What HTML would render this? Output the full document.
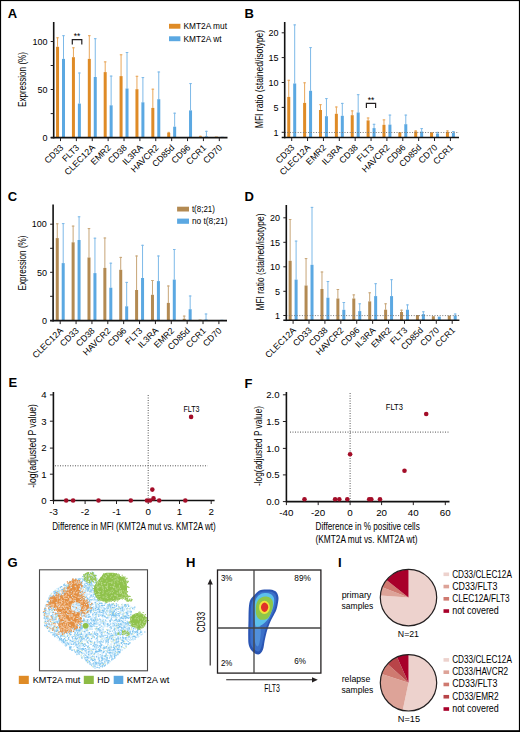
<!DOCTYPE html>
<html><head><meta charset="utf-8"><style>
html,body{margin:0;padding:0;background:#fff;}
svg{display:block;font-family:"Liberation Sans", sans-serif;}
</style></head><body>
<svg width="520" height="732" viewBox="0 0 520 732">
<defs><filter id="soft" x="-5%" y="-5%" width="110%" height="110%"><feGaussianBlur stdDeviation="0.3"/></filter><filter id="blob" x="-20%" y="-20%" width="140%" height="140%"><feGaussianBlur stdDeviation="0.7"/></filter></defs>
<rect x="0" y="0" width="520" height="732" fill="#fff"/>
<text x="7.80" y="18.20" font-size="13" text-anchor="start" font-weight="bold">A</text>
<text x="244.40" y="18.20" font-size="13" text-anchor="start" font-weight="bold">B</text>
<text x="7.80" y="201.00" font-size="13" text-anchor="start" font-weight="bold">C</text>
<text x="244.60" y="200.90" font-size="13" text-anchor="start" font-weight="bold">D</text>
<text x="8.60" y="387.20" font-size="13" text-anchor="start" font-weight="bold">E</text>
<text x="244.40" y="388.00" font-size="13" text-anchor="start" font-weight="bold">F</text>
<text x="186.00" y="566.90" font-size="13" text-anchor="start" font-weight="bold">H</text>
<text x="338.10" y="566.60" font-size="13" text-anchor="start" font-weight="bold">I</text>
<line x1="57.55" y1="37.30" x2="57.55" y2="46.80" stroke="#e9a75a" stroke-width="1"/>
<line x1="56.25" y1="37.80" x2="58.85" y2="37.80" stroke="#e9a75a" stroke-width="1"/>
<rect x="56.05" y="46.80" width="3.00" height="90.80" fill="#df8b26"/>
<line x1="63.50" y1="35.20" x2="63.50" y2="58.90" stroke="#7db9e8" stroke-width="1"/>
<line x1="62.20" y1="35.70" x2="64.80" y2="35.70" stroke="#7db9e8" stroke-width="1"/>
<rect x="62.00" y="58.90" width="3.00" height="78.70" fill="#5ba8e2"/>
<line x1="73.43" y1="47.30" x2="73.43" y2="57.20" stroke="#e9a75a" stroke-width="1"/>
<line x1="72.13" y1="47.80" x2="74.73" y2="47.80" stroke="#e9a75a" stroke-width="1"/>
<rect x="71.93" y="57.20" width="3.00" height="80.40" fill="#df8b26"/>
<line x1="79.38" y1="72.50" x2="79.38" y2="103.60" stroke="#7db9e8" stroke-width="1"/>
<line x1="78.08" y1="73.00" x2="80.68" y2="73.00" stroke="#7db9e8" stroke-width="1"/>
<rect x="77.88" y="103.60" width="3.00" height="34.00" fill="#5ba8e2"/>
<line x1="89.31" y1="35.20" x2="89.31" y2="58.90" stroke="#e9a75a" stroke-width="1"/>
<line x1="88.01" y1="35.70" x2="90.61" y2="35.70" stroke="#e9a75a" stroke-width="1"/>
<rect x="87.81" y="58.90" width="3.00" height="78.70" fill="#df8b26"/>
<line x1="95.26" y1="38.20" x2="95.26" y2="77.00" stroke="#7db9e8" stroke-width="1"/>
<line x1="93.96" y1="38.70" x2="96.56" y2="38.70" stroke="#7db9e8" stroke-width="1"/>
<rect x="93.76" y="77.00" width="3.00" height="60.60" fill="#5ba8e2"/>
<line x1="105.19" y1="61.40" x2="105.19" y2="72.10" stroke="#e9a75a" stroke-width="1"/>
<line x1="103.89" y1="61.90" x2="106.49" y2="61.90" stroke="#e9a75a" stroke-width="1"/>
<rect x="103.69" y="72.10" width="3.00" height="65.50" fill="#df8b26"/>
<line x1="111.14" y1="75.60" x2="111.14" y2="105.30" stroke="#7db9e8" stroke-width="1"/>
<line x1="109.84" y1="76.10" x2="112.44" y2="76.10" stroke="#7db9e8" stroke-width="1"/>
<rect x="109.64" y="105.30" width="3.00" height="32.30" fill="#5ba8e2"/>
<line x1="121.07" y1="54.30" x2="121.07" y2="76.10" stroke="#e9a75a" stroke-width="1"/>
<line x1="119.77" y1="54.80" x2="122.37" y2="54.80" stroke="#e9a75a" stroke-width="1"/>
<rect x="119.57" y="76.10" width="3.00" height="61.50" fill="#df8b26"/>
<line x1="127.02" y1="52.00" x2="127.02" y2="88.50" stroke="#7db9e8" stroke-width="1"/>
<line x1="125.72" y1="52.50" x2="128.32" y2="52.50" stroke="#7db9e8" stroke-width="1"/>
<rect x="125.52" y="88.50" width="3.00" height="49.10" fill="#5ba8e2"/>
<line x1="136.95" y1="75.80" x2="136.95" y2="89.20" stroke="#e9a75a" stroke-width="1"/>
<line x1="135.65" y1="76.30" x2="138.25" y2="76.30" stroke="#e9a75a" stroke-width="1"/>
<rect x="135.45" y="89.20" width="3.00" height="48.40" fill="#df8b26"/>
<line x1="142.90" y1="77.10" x2="142.90" y2="102.30" stroke="#7db9e8" stroke-width="1"/>
<line x1="141.60" y1="77.60" x2="144.20" y2="77.60" stroke="#7db9e8" stroke-width="1"/>
<rect x="141.40" y="102.30" width="3.00" height="35.30" fill="#5ba8e2"/>
<line x1="152.83" y1="88.70" x2="152.83" y2="107.90" stroke="#e9a75a" stroke-width="1"/>
<line x1="151.53" y1="89.20" x2="154.13" y2="89.20" stroke="#e9a75a" stroke-width="1"/>
<rect x="151.33" y="107.90" width="3.00" height="29.70" fill="#df8b26"/>
<line x1="158.78" y1="71.50" x2="158.78" y2="99.20" stroke="#7db9e8" stroke-width="1"/>
<line x1="157.48" y1="72.00" x2="160.08" y2="72.00" stroke="#7db9e8" stroke-width="1"/>
<rect x="157.28" y="99.20" width="3.00" height="38.40" fill="#5ba8e2"/>
<line x1="168.71" y1="131.90" x2="168.71" y2="133.00" stroke="#e9a75a" stroke-width="1"/>
<line x1="167.41" y1="132.40" x2="170.01" y2="132.40" stroke="#e9a75a" stroke-width="1"/>
<rect x="167.21" y="133.00" width="3.00" height="4.60" fill="#df8b26"/>
<line x1="174.66" y1="112.70" x2="174.66" y2="126.70" stroke="#7db9e8" stroke-width="1"/>
<line x1="173.36" y1="113.20" x2="175.96" y2="113.20" stroke="#7db9e8" stroke-width="1"/>
<rect x="173.16" y="126.70" width="3.00" height="10.90" fill="#5ba8e2"/>
<line x1="190.54" y1="83.10" x2="190.54" y2="110.40" stroke="#7db9e8" stroke-width="1"/>
<line x1="189.24" y1="83.60" x2="191.84" y2="83.60" stroke="#7db9e8" stroke-width="1"/>
<rect x="189.04" y="110.40" width="3.00" height="27.20" fill="#5ba8e2"/>
<line x1="200.47" y1="135.80" x2="200.47" y2="136.60" stroke="#e9a75a" stroke-width="1"/>
<line x1="199.17" y1="136.30" x2="201.77" y2="136.30" stroke="#e9a75a" stroke-width="1"/>
<rect x="198.97" y="136.60" width="3.00" height="1.00" fill="#df8b26"/>
<line x1="206.42" y1="130.80" x2="206.42" y2="136.40" stroke="#7db9e8" stroke-width="1"/>
<line x1="205.12" y1="131.30" x2="207.72" y2="131.30" stroke="#7db9e8" stroke-width="1"/>
<rect x="204.92" y="136.40" width="3.00" height="1.20" fill="#5ba8e2"/>
<rect x="214.85" y="136.60" width="3.00" height="1.00" fill="#df8b26"/>
<rect x="220.80" y="136.80" width="3.00" height="0.80" fill="#5ba8e2"/>
<line x1="53.70" y1="22.00" x2="53.70" y2="138.40" stroke="#111" stroke-width="1.6"/>
<line x1="50.70" y1="137.60" x2="227.50" y2="137.60" stroke="#111" stroke-width="1.6"/>
<line x1="50.70" y1="41.50" x2="53.70" y2="41.50" stroke="#231f20" stroke-width="1"/>
<text x="47.50" y="44.70" font-size="9" text-anchor="end">100</text>
<line x1="50.70" y1="89.50" x2="53.70" y2="89.50" stroke="#231f20" stroke-width="1"/>
<text x="47.50" y="92.70" font-size="9" text-anchor="end">50</text>
<line x1="50.70" y1="137.60" x2="53.70" y2="137.60" stroke="#231f20" stroke-width="1"/>
<text x="47.50" y="140.80" font-size="9" text-anchor="end">0</text>
<line x1="50.70" y1="65.50" x2="53.70" y2="65.50" stroke="#231f20" stroke-width="1"/>
<line x1="50.70" y1="113.60" x2="53.70" y2="113.60" stroke="#231f20" stroke-width="1"/>
<line x1="60.50" y1="137.60" x2="60.50" y2="141.10" stroke="#231f20" stroke-width="1"/>
<text x="63.90" y="148.20" font-size="8.8" text-anchor="end" transform="rotate(-45 63.90 148.20)">CD33</text>
<line x1="76.38" y1="137.60" x2="76.38" y2="141.10" stroke="#231f20" stroke-width="1"/>
<text x="79.78" y="148.20" font-size="8.8" text-anchor="end" transform="rotate(-45 79.78 148.20)">FLT3</text>
<line x1="92.26" y1="137.60" x2="92.26" y2="141.10" stroke="#231f20" stroke-width="1"/>
<text x="95.66" y="148.20" font-size="8.8" text-anchor="end" transform="rotate(-45 95.66 148.20)">CLEC12A</text>
<line x1="108.14" y1="137.60" x2="108.14" y2="141.10" stroke="#231f20" stroke-width="1"/>
<text x="111.54" y="148.20" font-size="8.8" text-anchor="end" transform="rotate(-45 111.54 148.20)">EMR2</text>
<line x1="124.02" y1="137.60" x2="124.02" y2="141.10" stroke="#231f20" stroke-width="1"/>
<text x="127.42" y="148.20" font-size="8.8" text-anchor="end" transform="rotate(-45 127.42 148.20)">CD38</text>
<line x1="139.90" y1="137.60" x2="139.90" y2="141.10" stroke="#231f20" stroke-width="1"/>
<text x="143.30" y="148.20" font-size="8.8" text-anchor="end" transform="rotate(-45 143.30 148.20)">IL3RA</text>
<line x1="155.78" y1="137.60" x2="155.78" y2="141.10" stroke="#231f20" stroke-width="1"/>
<text x="159.18" y="148.20" font-size="8.8" text-anchor="end" transform="rotate(-45 159.18 148.20)">HAVCR2</text>
<line x1="171.66" y1="137.60" x2="171.66" y2="141.10" stroke="#231f20" stroke-width="1"/>
<text x="175.06" y="148.20" font-size="8.8" text-anchor="end" transform="rotate(-45 175.06 148.20)">CD85d</text>
<line x1="187.54" y1="137.60" x2="187.54" y2="141.10" stroke="#231f20" stroke-width="1"/>
<text x="190.94" y="148.20" font-size="8.8" text-anchor="end" transform="rotate(-45 190.94 148.20)">CD96</text>
<line x1="203.42" y1="137.60" x2="203.42" y2="141.10" stroke="#231f20" stroke-width="1"/>
<text x="206.82" y="148.20" font-size="8.8" text-anchor="end" transform="rotate(-45 206.82 148.20)">CCR1</text>
<line x1="219.30" y1="137.60" x2="219.30" y2="141.10" stroke="#231f20" stroke-width="1"/>
<text x="222.70" y="148.20" font-size="8.8" text-anchor="end" transform="rotate(-45 222.70 148.20)">CD70</text>
<text x="26.40" y="79.50" font-size="10" text-anchor="middle" textLength="55" lengthAdjust="spacingAndGlyphs" transform="rotate(-90 26.40 79.50)">Expression (%)</text>
<path d="M72.3 44.6 V39.6 H81.8 V44.6" fill="none" stroke="#231f20" stroke-width="1.2"/>
<text x="77.00" y="38.60" font-size="8.5" text-anchor="middle">**</text>
<rect x="169.00" y="23.80" width="11.40" height="4.90" fill="#df8b26"/>
<rect x="169.00" y="36.30" width="11.40" height="4.90" fill="#5ba8e2"/>
<text x="183.50" y="29.40" font-size="9.3" text-anchor="start" textLength="43.5" lengthAdjust="spacingAndGlyphs">KMT2A mut</text>
<text x="183.50" y="41.80" font-size="9.3" text-anchor="start" textLength="38" lengthAdjust="spacingAndGlyphs">KMT2A wt</text>
<line x1="288.75" y1="79.80" x2="288.75" y2="96.90" stroke="#e9a75a" stroke-width="1"/>
<line x1="287.45" y1="80.30" x2="290.05" y2="80.30" stroke="#e9a75a" stroke-width="1"/>
<rect x="287.25" y="96.90" width="3.00" height="40.60" fill="#df8b26"/>
<line x1="294.70" y1="24.40" x2="294.70" y2="83.50" stroke="#7db9e8" stroke-width="1"/>
<line x1="293.40" y1="24.90" x2="296.00" y2="24.90" stroke="#7db9e8" stroke-width="1"/>
<rect x="293.20" y="83.50" width="3.00" height="54.00" fill="#5ba8e2"/>
<line x1="304.62" y1="82.30" x2="304.62" y2="102.90" stroke="#e9a75a" stroke-width="1"/>
<line x1="303.32" y1="82.80" x2="305.92" y2="82.80" stroke="#e9a75a" stroke-width="1"/>
<rect x="303.12" y="102.90" width="3.00" height="34.60" fill="#df8b26"/>
<line x1="310.57" y1="47.10" x2="310.57" y2="90.80" stroke="#7db9e8" stroke-width="1"/>
<line x1="309.27" y1="47.60" x2="311.87" y2="47.60" stroke="#7db9e8" stroke-width="1"/>
<rect x="309.07" y="90.80" width="3.00" height="46.70" fill="#5ba8e2"/>
<line x1="320.49" y1="104.20" x2="320.49" y2="110.00" stroke="#e9a75a" stroke-width="1"/>
<line x1="319.19" y1="104.70" x2="321.79" y2="104.70" stroke="#e9a75a" stroke-width="1"/>
<rect x="318.99" y="110.00" width="3.00" height="27.50" fill="#df8b26"/>
<line x1="326.44" y1="98.10" x2="326.44" y2="116.20" stroke="#7db9e8" stroke-width="1"/>
<line x1="325.14" y1="98.60" x2="327.74" y2="98.60" stroke="#7db9e8" stroke-width="1"/>
<rect x="324.94" y="116.20" width="3.00" height="21.30" fill="#5ba8e2"/>
<line x1="336.36" y1="106.50" x2="336.36" y2="113.80" stroke="#e9a75a" stroke-width="1"/>
<line x1="335.06" y1="107.00" x2="337.66" y2="107.00" stroke="#e9a75a" stroke-width="1"/>
<rect x="334.86" y="113.80" width="3.00" height="23.70" fill="#df8b26"/>
<line x1="342.31" y1="102.90" x2="342.31" y2="115.80" stroke="#7db9e8" stroke-width="1"/>
<line x1="341.01" y1="103.40" x2="343.61" y2="103.40" stroke="#7db9e8" stroke-width="1"/>
<rect x="340.81" y="115.80" width="3.00" height="21.70" fill="#5ba8e2"/>
<line x1="352.23" y1="110.40" x2="352.23" y2="115.20" stroke="#e9a75a" stroke-width="1"/>
<line x1="350.93" y1="110.90" x2="353.53" y2="110.90" stroke="#e9a75a" stroke-width="1"/>
<rect x="350.73" y="115.20" width="3.00" height="22.30" fill="#df8b26"/>
<line x1="358.18" y1="94.20" x2="358.18" y2="112.50" stroke="#7db9e8" stroke-width="1"/>
<line x1="356.88" y1="94.70" x2="359.48" y2="94.70" stroke="#7db9e8" stroke-width="1"/>
<rect x="356.68" y="112.50" width="3.00" height="25.00" fill="#5ba8e2"/>
<line x1="368.10" y1="117.50" x2="368.10" y2="120.40" stroke="#e9a75a" stroke-width="1"/>
<line x1="366.80" y1="118.00" x2="369.40" y2="118.00" stroke="#e9a75a" stroke-width="1"/>
<rect x="366.60" y="120.40" width="3.00" height="17.10" fill="#df8b26"/>
<line x1="374.05" y1="123.80" x2="374.05" y2="128.10" stroke="#7db9e8" stroke-width="1"/>
<line x1="372.75" y1="124.30" x2="375.35" y2="124.30" stroke="#7db9e8" stroke-width="1"/>
<rect x="372.55" y="128.10" width="3.00" height="9.40" fill="#5ba8e2"/>
<line x1="383.97" y1="119.40" x2="383.97" y2="124.80" stroke="#e9a75a" stroke-width="1"/>
<line x1="382.67" y1="119.90" x2="385.27" y2="119.90" stroke="#e9a75a" stroke-width="1"/>
<rect x="382.47" y="124.80" width="3.00" height="12.70" fill="#df8b26"/>
<line x1="389.92" y1="114.60" x2="389.92" y2="124.60" stroke="#7db9e8" stroke-width="1"/>
<line x1="388.62" y1="115.10" x2="391.22" y2="115.10" stroke="#7db9e8" stroke-width="1"/>
<rect x="388.42" y="124.60" width="3.00" height="12.90" fill="#5ba8e2"/>
<rect x="398.34" y="132.30" width="3.00" height="5.20" fill="#df8b26"/>
<line x1="405.79" y1="114.60" x2="405.79" y2="124.20" stroke="#7db9e8" stroke-width="1"/>
<line x1="404.49" y1="115.10" x2="407.09" y2="115.10" stroke="#7db9e8" stroke-width="1"/>
<rect x="404.29" y="124.20" width="3.00" height="13.30" fill="#5ba8e2"/>
<line x1="415.71" y1="130.40" x2="415.71" y2="131.50" stroke="#e9a75a" stroke-width="1"/>
<line x1="414.41" y1="130.90" x2="417.01" y2="130.90" stroke="#e9a75a" stroke-width="1"/>
<rect x="414.21" y="131.50" width="3.00" height="6.00" fill="#df8b26"/>
<line x1="421.66" y1="128.10" x2="421.66" y2="131.50" stroke="#7db9e8" stroke-width="1"/>
<line x1="420.36" y1="128.60" x2="422.96" y2="128.60" stroke="#7db9e8" stroke-width="1"/>
<rect x="420.16" y="131.50" width="3.00" height="6.00" fill="#5ba8e2"/>
<rect x="430.08" y="132.30" width="3.00" height="5.20" fill="#df8b26"/>
<line x1="437.53" y1="131.90" x2="437.53" y2="133.50" stroke="#7db9e8" stroke-width="1"/>
<line x1="436.23" y1="132.40" x2="438.83" y2="132.40" stroke="#7db9e8" stroke-width="1"/>
<rect x="436.03" y="133.50" width="3.00" height="4.00" fill="#5ba8e2"/>
<line x1="447.45" y1="130.40" x2="447.45" y2="131.90" stroke="#e9a75a" stroke-width="1"/>
<line x1="446.15" y1="130.90" x2="448.75" y2="130.90" stroke="#e9a75a" stroke-width="1"/>
<rect x="445.95" y="131.90" width="3.00" height="5.60" fill="#df8b26"/>
<line x1="453.40" y1="131.00" x2="453.40" y2="132.90" stroke="#7db9e8" stroke-width="1"/>
<line x1="452.10" y1="131.50" x2="454.70" y2="131.50" stroke="#7db9e8" stroke-width="1"/>
<rect x="451.90" y="132.90" width="3.00" height="4.60" fill="#5ba8e2"/>
<line x1="284.70" y1="132.50" x2="459.00" y2="132.50" stroke="#777" stroke-width="1" stroke-dasharray="1 1.6"/>
<line x1="284.70" y1="22.00" x2="284.70" y2="138.30" stroke="#111" stroke-width="1.6"/>
<line x1="281.70" y1="137.50" x2="459.00" y2="137.50" stroke="#111" stroke-width="1.6"/>
<line x1="281.70" y1="32.80" x2="284.70" y2="32.80" stroke="#231f20" stroke-width="1"/>
<text x="278.50" y="36.00" font-size="9" text-anchor="end">20</text>
<line x1="281.70" y1="57.60" x2="284.70" y2="57.60" stroke="#231f20" stroke-width="1"/>
<text x="278.50" y="60.80" font-size="9" text-anchor="end">15</text>
<line x1="281.70" y1="82.50" x2="284.70" y2="82.50" stroke="#231f20" stroke-width="1"/>
<text x="278.50" y="85.70" font-size="9" text-anchor="end">10</text>
<line x1="281.70" y1="107.40" x2="284.70" y2="107.40" stroke="#231f20" stroke-width="1"/>
<text x="278.50" y="110.60" font-size="9" text-anchor="end">5</text>
<line x1="281.70" y1="132.30" x2="284.70" y2="132.30" stroke="#231f20" stroke-width="1"/>
<text x="278.50" y="135.50" font-size="9" text-anchor="end">1</text>
<line x1="291.70" y1="137.50" x2="291.70" y2="141.00" stroke="#231f20" stroke-width="1"/>
<text x="295.10" y="148.10" font-size="8.8" text-anchor="end" transform="rotate(-45 295.10 148.10)">CD33</text>
<line x1="307.57" y1="137.50" x2="307.57" y2="141.00" stroke="#231f20" stroke-width="1"/>
<text x="310.97" y="148.10" font-size="8.8" text-anchor="end" transform="rotate(-45 310.97 148.10)">CLEC12A</text>
<line x1="323.44" y1="137.50" x2="323.44" y2="141.00" stroke="#231f20" stroke-width="1"/>
<text x="326.84" y="148.10" font-size="8.8" text-anchor="end" transform="rotate(-45 326.84 148.10)">EMR2</text>
<line x1="339.31" y1="137.50" x2="339.31" y2="141.00" stroke="#231f20" stroke-width="1"/>
<text x="342.71" y="148.10" font-size="8.8" text-anchor="end" transform="rotate(-45 342.71 148.10)">IL3RA</text>
<line x1="355.18" y1="137.50" x2="355.18" y2="141.00" stroke="#231f20" stroke-width="1"/>
<text x="358.58" y="148.10" font-size="8.8" text-anchor="end" transform="rotate(-45 358.58 148.10)">CD38</text>
<line x1="371.05" y1="137.50" x2="371.05" y2="141.00" stroke="#231f20" stroke-width="1"/>
<text x="374.45" y="148.10" font-size="8.8" text-anchor="end" transform="rotate(-45 374.45 148.10)">FLT3</text>
<line x1="386.92" y1="137.50" x2="386.92" y2="141.00" stroke="#231f20" stroke-width="1"/>
<text x="390.32" y="148.10" font-size="8.8" text-anchor="end" transform="rotate(-45 390.32 148.10)">HAVCR2</text>
<line x1="402.79" y1="137.50" x2="402.79" y2="141.00" stroke="#231f20" stroke-width="1"/>
<text x="406.19" y="148.10" font-size="8.8" text-anchor="end" transform="rotate(-45 406.19 148.10)">CD96</text>
<line x1="418.66" y1="137.50" x2="418.66" y2="141.00" stroke="#231f20" stroke-width="1"/>
<text x="422.06" y="148.10" font-size="8.8" text-anchor="end" transform="rotate(-45 422.06 148.10)">CD85d</text>
<line x1="434.53" y1="137.50" x2="434.53" y2="141.00" stroke="#231f20" stroke-width="1"/>
<text x="437.93" y="148.10" font-size="8.8" text-anchor="end" transform="rotate(-45 437.93 148.10)">CD70</text>
<line x1="450.40" y1="137.50" x2="450.40" y2="141.00" stroke="#231f20" stroke-width="1"/>
<text x="453.80" y="148.10" font-size="8.8" text-anchor="end" transform="rotate(-45 453.80 148.10)">CCR1</text>
<text x="262.50" y="79.00" font-size="10" text-anchor="middle" textLength="98.4" lengthAdjust="spacingAndGlyphs" transform="rotate(-90 262.50 79.00)">MFI ratio (stained/isotype)</text>
<path d="M366.4 107.9 V103.3 H375.6 V107.9" fill="none" stroke="#231f20" stroke-width="1.2"/>
<text x="371.00" y="102.50" font-size="8.5" text-anchor="middle">**</text>
<line x1="57.25" y1="223.30" x2="57.25" y2="238.10" stroke="#c7a577" stroke-width="1"/>
<line x1="55.95" y1="223.80" x2="58.55" y2="223.80" stroke="#c7a577" stroke-width="1"/>
<rect x="55.75" y="238.10" width="3.00" height="82.50" fill="#b38a52"/>
<line x1="63.20" y1="223.10" x2="63.20" y2="263.10" stroke="#7db9e8" stroke-width="1"/>
<line x1="61.90" y1="223.60" x2="64.50" y2="223.60" stroke="#7db9e8" stroke-width="1"/>
<rect x="61.70" y="263.10" width="3.00" height="57.50" fill="#5ba8e2"/>
<line x1="73.12" y1="225.60" x2="73.12" y2="242.30" stroke="#c7a577" stroke-width="1"/>
<line x1="71.82" y1="226.10" x2="74.42" y2="226.10" stroke="#c7a577" stroke-width="1"/>
<rect x="71.62" y="242.30" width="3.00" height="78.30" fill="#b38a52"/>
<line x1="79.07" y1="216.30" x2="79.07" y2="240.00" stroke="#7db9e8" stroke-width="1"/>
<line x1="77.77" y1="216.80" x2="80.37" y2="216.80" stroke="#7db9e8" stroke-width="1"/>
<rect x="77.57" y="240.00" width="3.00" height="80.60" fill="#5ba8e2"/>
<line x1="88.99" y1="228.10" x2="88.99" y2="257.50" stroke="#c7a577" stroke-width="1"/>
<line x1="87.69" y1="228.60" x2="90.29" y2="228.60" stroke="#c7a577" stroke-width="1"/>
<rect x="87.49" y="257.50" width="3.00" height="63.10" fill="#b38a52"/>
<line x1="94.94" y1="237.70" x2="94.94" y2="273.10" stroke="#7db9e8" stroke-width="1"/>
<line x1="93.64" y1="238.20" x2="96.24" y2="238.20" stroke="#7db9e8" stroke-width="1"/>
<rect x="93.44" y="273.10" width="3.00" height="47.50" fill="#5ba8e2"/>
<line x1="104.86" y1="237.50" x2="104.86" y2="267.90" stroke="#c7a577" stroke-width="1"/>
<line x1="103.56" y1="238.00" x2="106.16" y2="238.00" stroke="#c7a577" stroke-width="1"/>
<rect x="103.36" y="267.90" width="3.00" height="52.70" fill="#b38a52"/>
<line x1="110.81" y1="262.70" x2="110.81" y2="287.70" stroke="#7db9e8" stroke-width="1"/>
<line x1="109.51" y1="263.20" x2="112.11" y2="263.20" stroke="#7db9e8" stroke-width="1"/>
<rect x="109.31" y="287.70" width="3.00" height="32.90" fill="#5ba8e2"/>
<line x1="120.73" y1="256.90" x2="120.73" y2="269.80" stroke="#c7a577" stroke-width="1"/>
<line x1="119.43" y1="257.40" x2="122.03" y2="257.40" stroke="#c7a577" stroke-width="1"/>
<rect x="119.23" y="269.80" width="3.00" height="50.80" fill="#b38a52"/>
<line x1="126.68" y1="281.90" x2="126.68" y2="306.30" stroke="#7db9e8" stroke-width="1"/>
<line x1="125.38" y1="282.40" x2="127.98" y2="282.40" stroke="#7db9e8" stroke-width="1"/>
<rect x="125.18" y="306.30" width="3.00" height="14.30" fill="#5ba8e2"/>
<line x1="136.60" y1="255.50" x2="136.60" y2="290.00" stroke="#c7a577" stroke-width="1"/>
<line x1="135.30" y1="256.00" x2="137.90" y2="256.00" stroke="#c7a577" stroke-width="1"/>
<rect x="135.10" y="290.00" width="3.00" height="30.60" fill="#b38a52"/>
<line x1="142.55" y1="244.80" x2="142.55" y2="278.00" stroke="#7db9e8" stroke-width="1"/>
<line x1="141.25" y1="245.30" x2="143.85" y2="245.30" stroke="#7db9e8" stroke-width="1"/>
<rect x="141.05" y="278.00" width="3.00" height="42.60" fill="#5ba8e2"/>
<line x1="152.47" y1="280.00" x2="152.47" y2="294.80" stroke="#c7a577" stroke-width="1"/>
<line x1="151.17" y1="280.50" x2="153.77" y2="280.50" stroke="#c7a577" stroke-width="1"/>
<rect x="150.97" y="294.80" width="3.00" height="25.80" fill="#b38a52"/>
<line x1="158.42" y1="255.50" x2="158.42" y2="281.10" stroke="#7db9e8" stroke-width="1"/>
<line x1="157.12" y1="256.00" x2="159.72" y2="256.00" stroke="#7db9e8" stroke-width="1"/>
<rect x="156.92" y="281.10" width="3.00" height="39.50" fill="#5ba8e2"/>
<line x1="168.34" y1="285.50" x2="168.34" y2="302.90" stroke="#c7a577" stroke-width="1"/>
<line x1="167.04" y1="286.00" x2="169.64" y2="286.00" stroke="#c7a577" stroke-width="1"/>
<rect x="166.84" y="302.90" width="3.00" height="17.70" fill="#b38a52"/>
<line x1="174.29" y1="249.00" x2="174.29" y2="279.60" stroke="#7db9e8" stroke-width="1"/>
<line x1="172.99" y1="249.50" x2="175.59" y2="249.50" stroke="#7db9e8" stroke-width="1"/>
<rect x="172.79" y="279.60" width="3.00" height="41.00" fill="#5ba8e2"/>
<line x1="184.21" y1="315.60" x2="184.21" y2="318.80" stroke="#c7a577" stroke-width="1"/>
<line x1="182.91" y1="316.10" x2="185.51" y2="316.10" stroke="#c7a577" stroke-width="1"/>
<rect x="182.71" y="318.80" width="3.00" height="1.80" fill="#b38a52"/>
<line x1="190.16" y1="295.50" x2="190.16" y2="309.20" stroke="#7db9e8" stroke-width="1"/>
<line x1="188.86" y1="296.00" x2="191.46" y2="296.00" stroke="#7db9e8" stroke-width="1"/>
<rect x="188.66" y="309.20" width="3.00" height="11.40" fill="#5ba8e2"/>
<rect x="198.58" y="319.60" width="3.00" height="1.00" fill="#b38a52"/>
<line x1="206.03" y1="313.50" x2="206.03" y2="319.40" stroke="#7db9e8" stroke-width="1"/>
<line x1="204.73" y1="314.00" x2="207.33" y2="314.00" stroke="#7db9e8" stroke-width="1"/>
<rect x="204.53" y="319.40" width="3.00" height="1.20" fill="#5ba8e2"/>
<rect x="220.40" y="319.80" width="3.00" height="0.80" fill="#5ba8e2"/>
<line x1="53.10" y1="204.40" x2="53.10" y2="321.40" stroke="#111" stroke-width="1.6"/>
<line x1="50.10" y1="320.60" x2="227.00" y2="320.60" stroke="#111" stroke-width="1.6"/>
<line x1="50.10" y1="224.20" x2="53.10" y2="224.20" stroke="#231f20" stroke-width="1"/>
<text x="46.90" y="227.40" font-size="9" text-anchor="end">100</text>
<line x1="50.10" y1="272.30" x2="53.10" y2="272.30" stroke="#231f20" stroke-width="1"/>
<text x="46.90" y="275.50" font-size="9" text-anchor="end">50</text>
<line x1="50.10" y1="320.60" x2="53.10" y2="320.60" stroke="#231f20" stroke-width="1"/>
<text x="46.90" y="323.80" font-size="9" text-anchor="end">0</text>
<line x1="50.10" y1="248.30" x2="53.10" y2="248.30" stroke="#231f20" stroke-width="1"/>
<line x1="50.10" y1="296.30" x2="53.10" y2="296.30" stroke="#231f20" stroke-width="1"/>
<line x1="60.20" y1="320.60" x2="60.20" y2="324.10" stroke="#231f20" stroke-width="1"/>
<text x="63.60" y="331.20" font-size="8.8" text-anchor="end" transform="rotate(-45 63.60 331.20)">CLEC12A</text>
<line x1="76.07" y1="320.60" x2="76.07" y2="324.10" stroke="#231f20" stroke-width="1"/>
<text x="79.47" y="331.20" font-size="8.8" text-anchor="end" transform="rotate(-45 79.47 331.20)">CD33</text>
<line x1="91.94" y1="320.60" x2="91.94" y2="324.10" stroke="#231f20" stroke-width="1"/>
<text x="95.34" y="331.20" font-size="8.8" text-anchor="end" transform="rotate(-45 95.34 331.20)">CD38</text>
<line x1="107.81" y1="320.60" x2="107.81" y2="324.10" stroke="#231f20" stroke-width="1"/>
<text x="111.21" y="331.20" font-size="8.8" text-anchor="end" transform="rotate(-45 111.21 331.20)">HAVCR2</text>
<line x1="123.68" y1="320.60" x2="123.68" y2="324.10" stroke="#231f20" stroke-width="1"/>
<text x="127.08" y="331.20" font-size="8.8" text-anchor="end" transform="rotate(-45 127.08 331.20)">CD96</text>
<line x1="139.55" y1="320.60" x2="139.55" y2="324.10" stroke="#231f20" stroke-width="1"/>
<text x="142.95" y="331.20" font-size="8.8" text-anchor="end" transform="rotate(-45 142.95 331.20)">FLT3</text>
<line x1="155.42" y1="320.60" x2="155.42" y2="324.10" stroke="#231f20" stroke-width="1"/>
<text x="158.82" y="331.20" font-size="8.8" text-anchor="end" transform="rotate(-45 158.82 331.20)">IL3RA</text>
<line x1="171.29" y1="320.60" x2="171.29" y2="324.10" stroke="#231f20" stroke-width="1"/>
<text x="174.69" y="331.20" font-size="8.8" text-anchor="end" transform="rotate(-45 174.69 331.20)">EMR2</text>
<line x1="187.16" y1="320.60" x2="187.16" y2="324.10" stroke="#231f20" stroke-width="1"/>
<text x="190.56" y="331.20" font-size="8.8" text-anchor="end" transform="rotate(-45 190.56 331.20)">CD85d</text>
<line x1="203.03" y1="320.60" x2="203.03" y2="324.10" stroke="#231f20" stroke-width="1"/>
<text x="206.43" y="331.20" font-size="8.8" text-anchor="end" transform="rotate(-45 206.43 331.20)">CCR1</text>
<line x1="218.90" y1="320.60" x2="218.90" y2="324.10" stroke="#231f20" stroke-width="1"/>
<text x="222.30" y="331.20" font-size="8.8" text-anchor="end" transform="rotate(-45 222.30 331.20)">CD70</text>
<text x="25.60" y="263.00" font-size="10" text-anchor="middle" textLength="55" lengthAdjust="spacingAndGlyphs" transform="rotate(-90 25.60 263.00)">Expression (%)</text>
<rect x="177.10" y="206.70" width="11.90" height="4.80" fill="#b38a52"/>
<rect x="177.10" y="218.60" width="11.90" height="5.20" fill="#5ba8e2"/>
<text x="191.90" y="211.90" font-size="9.3" text-anchor="start" textLength="23" lengthAdjust="spacingAndGlyphs">t(8;21)</text>
<text x="191.90" y="223.90" font-size="9.3" text-anchor="start" textLength="35.6" lengthAdjust="spacingAndGlyphs">no t(8;21)</text>
<line x1="290.15" y1="219.00" x2="290.15" y2="260.80" stroke="#c7a577" stroke-width="1"/>
<line x1="288.85" y1="219.50" x2="291.45" y2="219.50" stroke="#c7a577" stroke-width="1"/>
<rect x="288.65" y="260.80" width="3.00" height="59.50" fill="#b38a52"/>
<line x1="296.10" y1="240.60" x2="296.10" y2="279.60" stroke="#7db9e8" stroke-width="1"/>
<line x1="294.80" y1="241.10" x2="297.40" y2="241.10" stroke="#7db9e8" stroke-width="1"/>
<rect x="294.60" y="279.60" width="3.00" height="40.70" fill="#5ba8e2"/>
<line x1="306.06" y1="258.10" x2="306.06" y2="285.50" stroke="#c7a577" stroke-width="1"/>
<line x1="304.76" y1="258.60" x2="307.36" y2="258.60" stroke="#c7a577" stroke-width="1"/>
<rect x="304.56" y="285.50" width="3.00" height="34.80" fill="#b38a52"/>
<line x1="312.01" y1="206.90" x2="312.01" y2="264.80" stroke="#7db9e8" stroke-width="1"/>
<line x1="310.71" y1="207.40" x2="313.31" y2="207.40" stroke="#7db9e8" stroke-width="1"/>
<rect x="310.51" y="264.80" width="3.00" height="55.50" fill="#5ba8e2"/>
<line x1="321.97" y1="271.50" x2="321.97" y2="289.00" stroke="#c7a577" stroke-width="1"/>
<line x1="320.67" y1="272.00" x2="323.27" y2="272.00" stroke="#c7a577" stroke-width="1"/>
<rect x="320.47" y="289.00" width="3.00" height="31.30" fill="#b38a52"/>
<line x1="327.92" y1="281.00" x2="327.92" y2="297.70" stroke="#7db9e8" stroke-width="1"/>
<line x1="326.62" y1="281.50" x2="329.22" y2="281.50" stroke="#7db9e8" stroke-width="1"/>
<rect x="326.42" y="297.70" width="3.00" height="22.60" fill="#5ba8e2"/>
<line x1="337.88" y1="289.00" x2="337.88" y2="298.50" stroke="#c7a577" stroke-width="1"/>
<line x1="336.58" y1="289.50" x2="339.18" y2="289.50" stroke="#c7a577" stroke-width="1"/>
<rect x="336.38" y="298.50" width="3.00" height="21.80" fill="#b38a52"/>
<line x1="343.83" y1="302.00" x2="343.83" y2="309.80" stroke="#7db9e8" stroke-width="1"/>
<line x1="342.53" y1="302.50" x2="345.13" y2="302.50" stroke="#7db9e8" stroke-width="1"/>
<rect x="342.33" y="309.80" width="3.00" height="10.50" fill="#5ba8e2"/>
<line x1="353.79" y1="294.40" x2="353.79" y2="298.50" stroke="#c7a577" stroke-width="1"/>
<line x1="352.49" y1="294.90" x2="355.09" y2="294.90" stroke="#c7a577" stroke-width="1"/>
<rect x="352.29" y="298.50" width="3.00" height="21.80" fill="#b38a52"/>
<line x1="359.74" y1="303.30" x2="359.74" y2="311.10" stroke="#7db9e8" stroke-width="1"/>
<line x1="358.44" y1="303.80" x2="361.04" y2="303.80" stroke="#7db9e8" stroke-width="1"/>
<rect x="358.24" y="311.10" width="3.00" height="9.20" fill="#5ba8e2"/>
<line x1="369.70" y1="292.30" x2="369.70" y2="301.40" stroke="#c7a577" stroke-width="1"/>
<line x1="368.40" y1="292.80" x2="371.00" y2="292.80" stroke="#c7a577" stroke-width="1"/>
<rect x="368.20" y="301.40" width="3.00" height="18.90" fill="#b38a52"/>
<line x1="375.65" y1="283.20" x2="375.65" y2="296.10" stroke="#7db9e8" stroke-width="1"/>
<line x1="374.35" y1="283.70" x2="376.95" y2="283.70" stroke="#7db9e8" stroke-width="1"/>
<rect x="374.15" y="296.10" width="3.00" height="24.20" fill="#5ba8e2"/>
<line x1="385.61" y1="303.30" x2="385.61" y2="309.70" stroke="#c7a577" stroke-width="1"/>
<line x1="384.31" y1="303.80" x2="386.91" y2="303.80" stroke="#c7a577" stroke-width="1"/>
<rect x="384.11" y="309.70" width="3.00" height="10.60" fill="#b38a52"/>
<line x1="391.56" y1="279.20" x2="391.56" y2="296.10" stroke="#7db9e8" stroke-width="1"/>
<line x1="390.26" y1="279.70" x2="392.86" y2="279.70" stroke="#7db9e8" stroke-width="1"/>
<rect x="390.06" y="296.10" width="3.00" height="24.20" fill="#5ba8e2"/>
<line x1="401.52" y1="309.70" x2="401.52" y2="312.00" stroke="#c7a577" stroke-width="1"/>
<line x1="400.22" y1="310.20" x2="402.82" y2="310.20" stroke="#c7a577" stroke-width="1"/>
<rect x="400.02" y="312.00" width="3.00" height="8.30" fill="#b38a52"/>
<line x1="407.47" y1="304.40" x2="407.47" y2="309.70" stroke="#7db9e8" stroke-width="1"/>
<line x1="406.17" y1="304.90" x2="408.77" y2="304.90" stroke="#7db9e8" stroke-width="1"/>
<rect x="405.97" y="309.70" width="3.00" height="10.60" fill="#5ba8e2"/>
<rect x="415.93" y="315.00" width="3.00" height="5.30" fill="#b38a52"/>
<line x1="423.38" y1="311.30" x2="423.38" y2="314.10" stroke="#7db9e8" stroke-width="1"/>
<line x1="422.08" y1="311.80" x2="424.68" y2="311.80" stroke="#7db9e8" stroke-width="1"/>
<rect x="421.88" y="314.10" width="3.00" height="6.20" fill="#5ba8e2"/>
<rect x="431.84" y="316.20" width="3.00" height="4.10" fill="#b38a52"/>
<rect x="437.79" y="316.60" width="3.00" height="3.70" fill="#5ba8e2"/>
<rect x="447.75" y="315.60" width="3.00" height="4.70" fill="#b38a52"/>
<line x1="455.20" y1="313.50" x2="455.20" y2="315.60" stroke="#7db9e8" stroke-width="1"/>
<line x1="453.90" y1="314.00" x2="456.50" y2="314.00" stroke="#7db9e8" stroke-width="1"/>
<rect x="453.70" y="315.60" width="3.00" height="4.70" fill="#5ba8e2"/>
<line x1="286.30" y1="315.60" x2="459.40" y2="315.60" stroke="#777" stroke-width="1" stroke-dasharray="1 1.6"/>
<line x1="286.30" y1="205.00" x2="286.30" y2="321.10" stroke="#111" stroke-width="1.6"/>
<line x1="283.30" y1="320.30" x2="459.40" y2="320.30" stroke="#111" stroke-width="1.6"/>
<line x1="283.30" y1="217.80" x2="286.30" y2="217.80" stroke="#231f20" stroke-width="1"/>
<text x="280.10" y="221.00" font-size="9" text-anchor="end">20</text>
<line x1="283.30" y1="242.30" x2="286.30" y2="242.30" stroke="#231f20" stroke-width="1"/>
<text x="280.10" y="245.50" font-size="9" text-anchor="end">15</text>
<line x1="283.30" y1="266.80" x2="286.30" y2="266.80" stroke="#231f20" stroke-width="1"/>
<text x="280.10" y="270.00" font-size="9" text-anchor="end">10</text>
<line x1="283.30" y1="291.30" x2="286.30" y2="291.30" stroke="#231f20" stroke-width="1"/>
<text x="280.10" y="294.50" font-size="9" text-anchor="end">5</text>
<line x1="283.30" y1="315.50" x2="286.30" y2="315.50" stroke="#231f20" stroke-width="1"/>
<text x="280.10" y="318.70" font-size="9" text-anchor="end">1</text>
<line x1="293.10" y1="320.30" x2="293.10" y2="323.80" stroke="#231f20" stroke-width="1"/>
<text x="296.50" y="330.90" font-size="8.8" text-anchor="end" transform="rotate(-45 296.50 330.90)">CLEC12A</text>
<line x1="309.01" y1="320.30" x2="309.01" y2="323.80" stroke="#231f20" stroke-width="1"/>
<text x="312.41" y="330.90" font-size="8.8" text-anchor="end" transform="rotate(-45 312.41 330.90)">CD33</text>
<line x1="324.92" y1="320.30" x2="324.92" y2="323.80" stroke="#231f20" stroke-width="1"/>
<text x="328.32" y="330.90" font-size="8.8" text-anchor="end" transform="rotate(-45 328.32 330.90)">CD38</text>
<line x1="340.83" y1="320.30" x2="340.83" y2="323.80" stroke="#231f20" stroke-width="1"/>
<text x="344.23" y="330.90" font-size="8.8" text-anchor="end" transform="rotate(-45 344.23 330.90)">HAVCR2</text>
<line x1="356.74" y1="320.30" x2="356.74" y2="323.80" stroke="#231f20" stroke-width="1"/>
<text x="360.14" y="330.90" font-size="8.8" text-anchor="end" transform="rotate(-45 360.14 330.90)">CD96</text>
<line x1="372.65" y1="320.30" x2="372.65" y2="323.80" stroke="#231f20" stroke-width="1"/>
<text x="376.05" y="330.90" font-size="8.8" text-anchor="end" transform="rotate(-45 376.05 330.90)">IL3RA</text>
<line x1="388.56" y1="320.30" x2="388.56" y2="323.80" stroke="#231f20" stroke-width="1"/>
<text x="391.96" y="330.90" font-size="8.8" text-anchor="end" transform="rotate(-45 391.96 330.90)">EMR2</text>
<line x1="404.47" y1="320.30" x2="404.47" y2="323.80" stroke="#231f20" stroke-width="1"/>
<text x="407.87" y="330.90" font-size="8.8" text-anchor="end" transform="rotate(-45 407.87 330.90)">FLT3</text>
<line x1="420.38" y1="320.30" x2="420.38" y2="323.80" stroke="#231f20" stroke-width="1"/>
<text x="423.78" y="330.90" font-size="8.8" text-anchor="end" transform="rotate(-45 423.78 330.90)">CD85d</text>
<line x1="436.29" y1="320.30" x2="436.29" y2="323.80" stroke="#231f20" stroke-width="1"/>
<text x="439.69" y="330.90" font-size="8.8" text-anchor="end" transform="rotate(-45 439.69 330.90)">CD70</text>
<line x1="452.20" y1="320.30" x2="452.20" y2="323.80" stroke="#231f20" stroke-width="1"/>
<text x="455.60" y="330.90" font-size="8.8" text-anchor="end" transform="rotate(-45 455.60 330.90)">CCR1</text>
<text x="264.00" y="262.00" font-size="10" text-anchor="middle" textLength="97" lengthAdjust="spacingAndGlyphs" transform="rotate(-90 264.00 262.00)">MFI ratio (stained/isotype)</text>
<line x1="148.20" y1="395.00" x2="148.20" y2="500.50" stroke="#555" stroke-width="1" stroke-dasharray="1 1.5"/>
<line x1="55.00" y1="465.80" x2="207.70" y2="465.80" stroke="#555" stroke-width="1" stroke-dasharray="1 1.5"/>
<line x1="53.40" y1="392.00" x2="53.40" y2="501.30" stroke="#111" stroke-width="1.6"/>
<line x1="53.40" y1="500.50" x2="214.60" y2="500.50" stroke="#111" stroke-width="1.6"/>
<line x1="49.90" y1="394.90" x2="53.40" y2="394.90" stroke="#231f20" stroke-width="1"/>
<text x="46.60" y="398.20" font-size="9.6" text-anchor="end">4</text>
<line x1="49.90" y1="421.20" x2="53.40" y2="421.20" stroke="#231f20" stroke-width="1"/>
<text x="46.60" y="424.50" font-size="9.6" text-anchor="end">3</text>
<line x1="49.90" y1="448.10" x2="53.40" y2="448.10" stroke="#231f20" stroke-width="1"/>
<text x="46.60" y="451.40" font-size="9.6" text-anchor="end">2</text>
<line x1="49.90" y1="474.20" x2="53.40" y2="474.20" stroke="#231f20" stroke-width="1"/>
<text x="46.60" y="477.50" font-size="9.6" text-anchor="end">1</text>
<line x1="49.90" y1="500.50" x2="53.40" y2="500.50" stroke="#231f20" stroke-width="1"/>
<text x="46.60" y="503.80" font-size="9.6" text-anchor="end">0</text>
<line x1="53.50" y1="500.50" x2="53.50" y2="504.00" stroke="#231f20" stroke-width="1"/>
<text x="53.50" y="515.30" font-size="9.8" text-anchor="middle">-3</text>
<line x1="85.10" y1="500.50" x2="85.10" y2="504.00" stroke="#231f20" stroke-width="1"/>
<text x="85.10" y="515.30" font-size="9.8" text-anchor="middle">-2</text>
<line x1="116.50" y1="500.50" x2="116.50" y2="504.00" stroke="#231f20" stroke-width="1"/>
<text x="116.50" y="515.30" font-size="9.8" text-anchor="middle">-1</text>
<line x1="148.20" y1="500.50" x2="148.20" y2="504.00" stroke="#231f20" stroke-width="1"/>
<text x="148.20" y="515.30" font-size="9.8" text-anchor="middle">0</text>
<line x1="179.50" y1="500.50" x2="179.50" y2="504.00" stroke="#231f20" stroke-width="1"/>
<text x="179.50" y="515.30" font-size="9.8" text-anchor="middle">1</text>
<line x1="211.20" y1="500.50" x2="211.20" y2="504.00" stroke="#231f20" stroke-width="1"/>
<text x="211.20" y="515.30" font-size="9.8" text-anchor="middle">2</text>
<circle cx="66.20" cy="500.50" r="2.3" fill="#a30d28"/>
<circle cx="73.10" cy="500.50" r="2.3" fill="#a30d28"/>
<circle cx="98.50" cy="500.50" r="2.3" fill="#a30d28"/>
<circle cx="130.80" cy="500.50" r="2.3" fill="#a30d28"/>
<circle cx="147.00" cy="500.50" r="2.3" fill="#a30d28"/>
<circle cx="150.00" cy="500.50" r="2.3" fill="#a30d28"/>
<circle cx="153.50" cy="498.40" r="2.3" fill="#a30d28"/>
<circle cx="152.30" cy="489.60" r="2.3" fill="#a30d28"/>
<circle cx="159.20" cy="500.50" r="2.3" fill="#a30d28"/>
<circle cx="185.30" cy="500.50" r="2.3" fill="#a30d28"/>
<circle cx="191.10" cy="416.90" r="2.3" fill="#a30d28"/>
<text x="36.00" y="446.00" font-size="10.6" text-anchor="middle" textLength="83.7" lengthAdjust="spacingAndGlyphs" transform="rotate(-90 36.00 446.00)">-log(adjusted P value)</text>
<text x="191.50" y="412.40" font-size="9.5" text-anchor="middle" textLength="16.2" lengthAdjust="spacingAndGlyphs">FLT3</text>
<text x="134.00" y="530.00" font-size="10.6" text-anchor="middle" textLength="163.5" lengthAdjust="spacingAndGlyphs">Difference in MFI (KMT2A mut vs. KMT2A wt)</text>
<line x1="350.10" y1="393.00" x2="350.10" y2="501.60" stroke="#555" stroke-width="1" stroke-dasharray="1 1.5"/>
<line x1="290.00" y1="432.10" x2="448.80" y2="432.10" stroke="#555" stroke-width="1" stroke-dasharray="1 1.5"/>
<line x1="286.40" y1="392.00" x2="286.40" y2="502.40" stroke="#111" stroke-width="1.6"/>
<line x1="286.40" y1="501.60" x2="449.50" y2="501.60" stroke="#111" stroke-width="1.6"/>
<line x1="282.90" y1="394.80" x2="286.40" y2="394.80" stroke="#231f20" stroke-width="1"/>
<text x="279.60" y="398.10" font-size="9.6" text-anchor="end">2.0</text>
<line x1="282.90" y1="421.50" x2="286.40" y2="421.50" stroke="#231f20" stroke-width="1"/>
<text x="279.60" y="424.80" font-size="9.6" text-anchor="end">1.5</text>
<line x1="282.90" y1="448.40" x2="286.40" y2="448.40" stroke="#231f20" stroke-width="1"/>
<text x="279.60" y="451.70" font-size="9.6" text-anchor="end">1.0</text>
<line x1="282.90" y1="474.90" x2="286.40" y2="474.90" stroke="#231f20" stroke-width="1"/>
<text x="279.60" y="478.20" font-size="9.6" text-anchor="end">0.5</text>
<line x1="282.90" y1="501.60" x2="286.40" y2="501.60" stroke="#231f20" stroke-width="1"/>
<text x="279.60" y="504.90" font-size="9.6" text-anchor="end">0.0</text>
<line x1="286.40" y1="501.60" x2="286.40" y2="505.10" stroke="#231f20" stroke-width="1"/>
<text x="286.40" y="516.40" font-size="9.8" text-anchor="middle">-40</text>
<line x1="318.20" y1="501.60" x2="318.20" y2="505.10" stroke="#231f20" stroke-width="1"/>
<text x="318.20" y="516.40" font-size="9.8" text-anchor="middle">-20</text>
<line x1="350.10" y1="501.60" x2="350.10" y2="505.10" stroke="#231f20" stroke-width="1"/>
<text x="350.10" y="516.40" font-size="9.8" text-anchor="middle">0</text>
<line x1="381.60" y1="501.60" x2="381.60" y2="505.10" stroke="#231f20" stroke-width="1"/>
<text x="381.60" y="516.40" font-size="9.8" text-anchor="middle">20</text>
<line x1="413.30" y1="501.60" x2="413.30" y2="505.10" stroke="#231f20" stroke-width="1"/>
<text x="413.30" y="516.40" font-size="9.8" text-anchor="middle">40</text>
<line x1="445.30" y1="501.60" x2="445.30" y2="505.10" stroke="#231f20" stroke-width="1"/>
<text x="445.30" y="516.40" font-size="9.8" text-anchor="middle">60</text>
<circle cx="304.50" cy="499.20" r="2.3" fill="#a30d28"/>
<circle cx="335.10" cy="499.20" r="2.3" fill="#a30d28"/>
<circle cx="339.30" cy="499.20" r="2.3" fill="#a30d28"/>
<circle cx="347.30" cy="499.20" r="2.3" fill="#a30d28"/>
<circle cx="350.10" cy="454.20" r="2.3" fill="#a30d28"/>
<circle cx="369.20" cy="499.20" r="2.3" fill="#a30d28"/>
<circle cx="371.30" cy="499.20" r="2.3" fill="#a30d28"/>
<circle cx="380.00" cy="499.20" r="2.3" fill="#a30d28"/>
<circle cx="404.50" cy="470.80" r="2.3" fill="#a30d28"/>
<circle cx="426.20" cy="414.00" r="2.3" fill="#a30d28"/>
<text x="262.00" y="446.00" font-size="10.6" text-anchor="middle" textLength="80" lengthAdjust="spacingAndGlyphs" transform="rotate(-90 262.00 446.00)">-log(adjusted P value)</text>
<text x="394.40" y="410.00" font-size="9.5" text-anchor="middle" textLength="17.2" lengthAdjust="spacingAndGlyphs">FLT3</text>
<text x="367.70" y="530.40" font-size="10.6" text-anchor="middle" textLength="104.2" lengthAdjust="spacingAndGlyphs">Difference in % positive cells</text>
<text x="366.50" y="543.20" font-size="10.6" text-anchor="middle" textLength="102" lengthAdjust="spacingAndGlyphs">(KMT2A mut vs. KMT2A wt)</text>
<text x="7.50" y="567.30" font-size="13" text-anchor="start" font-weight="bold">G</text>
<g id="tsne"><g filter="url(#soft)">
<path d="M75.7 585.8h1.2v1.2h-1.2zM86.0 651.9h1.2v1.2h-1.2zM74.1 650.8h1.2v1.2h-1.2zM74.7 628.3h1.2v1.2h-1.2zM96.3 656.6h1.2v1.2h-1.2zM113.8 629.1h1.2v1.2h-1.2zM44.8 616.2h1.2v1.2h-1.2zM98.8 657.4h1.2v1.2h-1.2zM42.9 612.0h1.2v1.2h-1.2zM53.1 633.0h1.2v1.2h-1.2zM79.8 583.0h1.2v1.2h-1.2zM131.0 639.1h1.2v1.2h-1.2zM126.4 643.4h1.2v1.2h-1.2zM62.7 591.0h1.2v1.2h-1.2zM119.4 617.8h1.2v1.2h-1.2zM87.0 656.3h1.2v1.2h-1.2zM78.8 615.8h1.2v1.2h-1.2zM87.6 588.9h1.2v1.2h-1.2zM99.4 647.7h1.2v1.2h-1.2zM100.1 645.3h1.2v1.2h-1.2zM91.5 663.1h1.2v1.2h-1.2zM49.9 594.5h1.2v1.2h-1.2zM62.6 602.2h1.2v1.2h-1.2zM70.2 583.7h1.2v1.2h-1.2zM107.5 649.4h1.2v1.2h-1.2zM96.5 594.3h1.2v1.2h-1.2zM61.9 617.4h1.2v1.2h-1.2zM77.6 652.4h1.2v1.2h-1.2zM131.7 636.6h1.2v1.2h-1.2zM74.2 605.9h1.2v1.2h-1.2zM73.7 593.8h1.2v1.2h-1.2zM116.7 633.9h1.2v1.2h-1.2zM94.2 652.7h1.2v1.2h-1.2zM99.7 632.4h1.2v1.2h-1.2zM50.1 597.0h1.2v1.2h-1.2zM57.6 595.8h1.2v1.2h-1.2zM90.3 582.6h1.2v1.2h-1.2zM57.0 622.3h1.2v1.2h-1.2zM56.9 604.6h1.2v1.2h-1.2zM94.9 589.6h1.2v1.2h-1.2zM90.9 604.6h1.2v1.2h-1.2zM93.5 592.5h1.2v1.2h-1.2zM100.9 657.8h1.2v1.2h-1.2zM48.9 598.1h1.2v1.2h-1.2zM96.0 637.7h1.2v1.2h-1.2zM107.7 639.3h1.2v1.2h-1.2zM140.8 634.0h1.2v1.2h-1.2zM77.2 612.1h1.2v1.2h-1.2zM93.3 589.3h1.2v1.2h-1.2zM110.6 608.0h1.2v1.2h-1.2zM126.8 613.3h1.2v1.2h-1.2zM77.3 597.6h1.2v1.2h-1.2zM136.4 633.0h1.2v1.2h-1.2zM124.8 643.2h1.2v1.2h-1.2zM52.4 619.8h1.2v1.2h-1.2zM100.6 607.5h1.2v1.2h-1.2zM125.4 634.9h1.2v1.2h-1.2zM103.6 631.6h1.2v1.2h-1.2zM74.5 590.9h1.2v1.2h-1.2zM84.5 598.7h1.2v1.2h-1.2zM85.9 651.2h1.2v1.2h-1.2zM108.2 660.0h1.2v1.2h-1.2zM95.9 661.5h1.2v1.2h-1.2zM84.0 653.8h1.2v1.2h-1.2zM46.7 626.0h1.2v1.2h-1.2zM88.3 613.9h1.2v1.2h-1.2zM91.0 581.5h1.2v1.2h-1.2zM117.7 647.1h1.2v1.2h-1.2zM92.9 664.6h1.2v1.2h-1.2zM94.4 602.2h1.2v1.2h-1.2zM102.0 657.3h1.2v1.2h-1.2zM102.6 635.9h1.2v1.2h-1.2zM53.4 605.9h1.2v1.2h-1.2zM52.3 633.4h1.2v1.2h-1.2zM47.0 623.0h1.2v1.2h-1.2zM74.2 600.4h1.2v1.2h-1.2zM76.9 644.3h1.2v1.2h-1.2zM69.7 633.8h1.2v1.2h-1.2zM114.0 654.9h1.2v1.2h-1.2zM113.5 633.0h1.2v1.2h-1.2zM53.5 591.1h1.2v1.2h-1.2zM80.2 602.4h1.2v1.2h-1.2zM78.0 639.9h1.2v1.2h-1.2zM71.6 592.0h1.2v1.2h-1.2zM106.9 605.8h1.2v1.2h-1.2zM66.4 616.1h1.2v1.2h-1.2zM110.4 643.6h1.2v1.2h-1.2zM62.1 600.5h1.2v1.2h-1.2zM52.9 608.6h1.2v1.2h-1.2zM83.4 648.4h1.2v1.2h-1.2zM84.0 643.5h1.2v1.2h-1.2zM129.9 637.5h1.2v1.2h-1.2zM122.7 640.7h1.2v1.2h-1.2zM122.3 609.0h1.2v1.2h-1.2zM98.0 641.2h1.2v1.2h-1.2zM82.7 645.6h1.2v1.2h-1.2zM78.6 596.9h1.2v1.2h-1.2zM90.6 626.0h1.2v1.2h-1.2zM81.1 595.8h1.2v1.2h-1.2zM86.4 633.3h1.2v1.2h-1.2zM111.0 658.4h1.2v1.2h-1.2zM66.5 584.6h1.2v1.2h-1.2zM97.8 655.4h1.2v1.2h-1.2zM107.8 633.2h1.2v1.2h-1.2zM96.4 646.4h1.2v1.2h-1.2zM94.1 597.6h1.2v1.2h-1.2zM73.2 628.4h1.2v1.2h-1.2zM109.9 648.2h1.2v1.2h-1.2zM110.9 615.8h1.2v1.2h-1.2zM108.3 662.3h1.2v1.2h-1.2zM103.2 662.7h1.2v1.2h-1.2zM89.7 662.2h1.2v1.2h-1.2zM87.5 637.2h1.2v1.2h-1.2zM114.6 651.9h1.2v1.2h-1.2zM104.2 658.6h1.2v1.2h-1.2zM104.7 637.3h1.2v1.2h-1.2zM101.9 658.7h1.2v1.2h-1.2zM79.7 626.2h1.2v1.2h-1.2zM122.4 612.7h1.2v1.2h-1.2zM103.8 609.9h1.2v1.2h-1.2zM68.7 605.4h1.2v1.2h-1.2zM68.8 583.1h1.2v1.2h-1.2zM128.8 632.5h1.2v1.2h-1.2zM69.8 611.3h1.2v1.2h-1.2zM68.9 590.7h1.2v1.2h-1.2zM61.5 613.6h1.2v1.2h-1.2zM125.7 628.0h1.2v1.2h-1.2zM80.1 587.0h1.2v1.2h-1.2zM81.6 644.5h1.2v1.2h-1.2zM71.2 582.9h1.2v1.2h-1.2zM82.3 612.1h1.2v1.2h-1.2zM48.0 621.6h1.2v1.2h-1.2zM138.5 632.9h1.2v1.2h-1.2zM54.8 629.1h1.2v1.2h-1.2zM51.5 624.4h1.2v1.2h-1.2zM89.7 624.6h1.2v1.2h-1.2zM81.8 628.3h1.2v1.2h-1.2zM87.6 642.9h1.2v1.2h-1.2zM105.7 654.1h1.2v1.2h-1.2zM123.0 640.3h1.2v1.2h-1.2zM104.8 608.1h1.2v1.2h-1.2zM93.7 614.4h1.2v1.2h-1.2zM100.4 619.6h1.2v1.2h-1.2zM111.8 622.4h1.2v1.2h-1.2zM87.6 632.1h1.2v1.2h-1.2zM134.2 638.5h1.2v1.2h-1.2zM107.1 630.0h1.2v1.2h-1.2zM93.5 625.1h1.2v1.2h-1.2zM105.3 649.9h1.2v1.2h-1.2zM88.6 608.7h1.2v1.2h-1.2zM93.3 663.9h1.2v1.2h-1.2zM79.2 589.2h1.2v1.2h-1.2zM62.1 598.7h1.2v1.2h-1.2zM87.9 652.8h1.2v1.2h-1.2zM134.7 628.5h1.2v1.2h-1.2zM81.9 635.3h1.2v1.2h-1.2zM79.6 619.9h1.2v1.2h-1.2zM110.5 605.4h1.2v1.2h-1.2zM59.1 590.4h1.2v1.2h-1.2zM87.1 637.9h1.2v1.2h-1.2zM71.3 579.8h1.2v1.2h-1.2zM114.5 649.8h1.2v1.2h-1.2zM84.7 590.7h1.2v1.2h-1.2zM95.3 614.5h1.2v1.2h-1.2zM59.8 636.2h1.2v1.2h-1.2zM48.7 598.5h1.2v1.2h-1.2zM79.7 587.4h1.2v1.2h-1.2zM106.8 662.5h1.2v1.2h-1.2zM76.0 589.0h1.2v1.2h-1.2zM126.5 640.0h1.2v1.2h-1.2zM123.2 612.6h1.2v1.2h-1.2zM110.8 651.8h1.2v1.2h-1.2zM141.1 631.6h1.2v1.2h-1.2zM80.6 627.8h1.2v1.2h-1.2zM92.7 625.2h1.2v1.2h-1.2zM87.6 655.4h1.2v1.2h-1.2zM64.3 600.3h1.2v1.2h-1.2zM77.5 645.7h1.2v1.2h-1.2zM62.3 614.7h1.2v1.2h-1.2zM81.5 585.1h1.2v1.2h-1.2zM112.2 609.4h1.2v1.2h-1.2zM50.3 603.2h1.2v1.2h-1.2zM70.5 619.9h1.2v1.2h-1.2zM107.4 633.1h1.2v1.2h-1.2zM107.6 605.3h1.2v1.2h-1.2zM67.5 594.0h1.2v1.2h-1.2zM117.0 624.9h1.2v1.2h-1.2zM49.4 618.4h1.2v1.2h-1.2zM77.5 584.4h1.2v1.2h-1.2zM109.0 610.6h1.2v1.2h-1.2zM90.0 572.3h1.2v1.2h-1.2zM97.7 628.6h1.2v1.2h-1.2zM88.9 598.2h1.2v1.2h-1.2zM48.7 620.1h1.2v1.2h-1.2zM83.7 655.5h1.2v1.2h-1.2zM69.4 613.4h1.2v1.2h-1.2zM119.5 651.5h1.2v1.2h-1.2zM103.8 615.3h1.2v1.2h-1.2zM86.6 581.3h1.2v1.2h-1.2zM93.8 582.0h1.2v1.2h-1.2zM84.3 625.4h1.2v1.2h-1.2zM82.2 608.7h1.2v1.2h-1.2zM81.1 594.5h1.2v1.2h-1.2zM118.7 608.1h1.2v1.2h-1.2zM65.4 630.9h1.2v1.2h-1.2zM96.2 622.6h1.2v1.2h-1.2zM53.0 605.9h1.2v1.2h-1.2zM91.5 649.1h1.2v1.2h-1.2zM63.1 626.8h1.2v1.2h-1.2zM123.7 631.4h1.2v1.2h-1.2zM82.0 627.6h1.2v1.2h-1.2zM96.4 619.6h1.2v1.2h-1.2zM87.6 619.0h1.2v1.2h-1.2zM112.2 625.2h1.2v1.2h-1.2zM115.4 618.2h1.2v1.2h-1.2zM74.6 595.9h1.2v1.2h-1.2zM97.5 607.6h1.2v1.2h-1.2zM97.1 611.0h1.2v1.2h-1.2zM124.8 628.9h1.2v1.2h-1.2zM124.6 619.7h1.2v1.2h-1.2zM72.6 593.8h1.2v1.2h-1.2zM117.1 613.0h1.2v1.2h-1.2zM103.8 623.9h1.2v1.2h-1.2zM99.0 648.1h1.2v1.2h-1.2zM56.0 627.5h1.2v1.2h-1.2zM54.6 616.8h1.2v1.2h-1.2zM93.9 658.1h1.2v1.2h-1.2zM58.2 596.8h1.2v1.2h-1.2zM67.7 629.6h1.2v1.2h-1.2zM84.2 579.6h1.2v1.2h-1.2zM91.7 619.6h1.2v1.2h-1.2zM103.0 613.6h1.2v1.2h-1.2zM112.7 640.5h1.2v1.2h-1.2zM109.4 652.8h1.2v1.2h-1.2zM76.9 591.9h1.2v1.2h-1.2zM110.3 649.9h1.2v1.2h-1.2zM89.1 650.2h1.2v1.2h-1.2zM134.1 636.2h1.2v1.2h-1.2zM96.0 637.2h1.2v1.2h-1.2zM57.3 628.5h1.2v1.2h-1.2zM115.2 638.6h1.2v1.2h-1.2zM56.8 621.5h1.2v1.2h-1.2zM53.6 596.4h1.2v1.2h-1.2zM74.8 585.9h1.2v1.2h-1.2zM127.2 626.4h1.2v1.2h-1.2zM84.8 650.0h1.2v1.2h-1.2zM77.5 609.4h1.2v1.2h-1.2zM56.2 604.1h1.2v1.2h-1.2zM83.9 627.1h1.2v1.2h-1.2zM109.0 656.9h1.2v1.2h-1.2zM124.7 606.2h1.2v1.2h-1.2zM53.8 593.0h1.2v1.2h-1.2zM45.4 620.4h1.2v1.2h-1.2zM95.0 628.6h1.2v1.2h-1.2zM77.5 589.6h1.2v1.2h-1.2zM62.8 639.8h1.2v1.2h-1.2zM116.5 632.6h1.2v1.2h-1.2zM91.3 651.4h1.2v1.2h-1.2zM64.4 628.2h1.2v1.2h-1.2zM92.2 633.5h1.2v1.2h-1.2zM89.3 628.3h1.2v1.2h-1.2zM111.5 640.8h1.2v1.2h-1.2zM107.5 643.5h1.2v1.2h-1.2zM99.5 651.3h1.2v1.2h-1.2zM89.4 582.9h1.2v1.2h-1.2zM80.2 600.6h1.2v1.2h-1.2zM109.0 660.6h1.2v1.2h-1.2zM87.8 640.1h1.2v1.2h-1.2zM68.1 611.3h1.2v1.2h-1.2zM80.1 623.5h1.2v1.2h-1.2zM112.9 638.5h1.2v1.2h-1.2zM141.3 633.9h1.2v1.2h-1.2zM54.1 619.3h1.2v1.2h-1.2zM110.1 628.4h1.2v1.2h-1.2zM96.1 581.9h1.2v1.2h-1.2zM108.2 617.1h1.2v1.2h-1.2zM91.7 588.0h1.2v1.2h-1.2zM67.1 587.7h1.2v1.2h-1.2zM79.5 582.7h1.2v1.2h-1.2zM66.5 619.8h1.2v1.2h-1.2zM87.5 584.7h1.2v1.2h-1.2zM94.9 663.7h1.2v1.2h-1.2zM68.9 615.4h1.2v1.2h-1.2zM66.5 587.4h1.2v1.2h-1.2zM72.2 599.3h1.2v1.2h-1.2zM110.0 628.3h1.2v1.2h-1.2zM111.4 649.2h1.2v1.2h-1.2zM117.9 606.2h1.2v1.2h-1.2zM84.1 612.2h1.2v1.2h-1.2zM91.9 572.7h1.2v1.2h-1.2zM44.0 623.3h1.2v1.2h-1.2zM75.3 611.8h1.2v1.2h-1.2zM117.2 604.4h1.2v1.2h-1.2zM62.1 640.2h1.2v1.2h-1.2zM97.1 641.8h1.2v1.2h-1.2zM63.5 601.4h1.2v1.2h-1.2zM95.2 585.8h1.2v1.2h-1.2zM115.9 622.8h1.2v1.2h-1.2zM115.5 646.3h1.2v1.2h-1.2zM121.5 613.8h1.2v1.2h-1.2zM86.1 604.1h1.2v1.2h-1.2zM90.2 641.0h1.2v1.2h-1.2zM85.4 651.4h1.2v1.2h-1.2zM80.9 605.5h1.2v1.2h-1.2zM109.7 608.2h1.2v1.2h-1.2zM98.6 615.6h1.2v1.2h-1.2zM74.3 632.8h1.2v1.2h-1.2zM79.6 606.5h1.2v1.2h-1.2zM123.4 605.9h1.2v1.2h-1.2zM76.2 642.6h1.2v1.2h-1.2zM94.9 662.2h1.2v1.2h-1.2zM85.6 621.2h1.2v1.2h-1.2zM104.3 659.4h1.2v1.2h-1.2zM124.2 637.3h1.2v1.2h-1.2zM59.0 611.1h1.2v1.2h-1.2zM92.3 663.4h1.2v1.2h-1.2zM113.3 609.3h1.2v1.2h-1.2zM99.3 635.8h1.2v1.2h-1.2zM91.7 619.5h1.2v1.2h-1.2zM82.2 630.6h1.2v1.2h-1.2zM58.9 638.5h1.2v1.2h-1.2zM99.0 661.2h1.2v1.2h-1.2zM61.0 630.6h1.2v1.2h-1.2zM78.5 643.1h1.2v1.2h-1.2zM132.8 629.8h1.2v1.2h-1.2zM123.1 621.4h1.2v1.2h-1.2zM75.1 645.1h1.2v1.2h-1.2zM102.6 612.8h1.2v1.2h-1.2zM86.2 626.9h1.2v1.2h-1.2zM107.8 607.8h1.2v1.2h-1.2zM61.6 619.9h1.2v1.2h-1.2zM130.1 614.4h1.2v1.2h-1.2zM99.3 610.6h1.2v1.2h-1.2zM133.3 607.0h1.2v1.2h-1.2zM107.0 626.1h1.2v1.2h-1.2zM94.5 582.6h1.2v1.2h-1.2zM102.9 651.6h1.2v1.2h-1.2zM116.9 624.9h1.2v1.2h-1.2zM101.4 625.8h1.2v1.2h-1.2zM82.2 603.8h1.2v1.2h-1.2zM50.9 603.4h1.2v1.2h-1.2zM73.8 602.7h1.2v1.2h-1.2zM48.5 620.6h1.2v1.2h-1.2zM111.1 613.4h1.2v1.2h-1.2zM86.6 586.2h1.2v1.2h-1.2zM111.2 619.5h1.2v1.2h-1.2zM101.8 666.5h1.2v1.2h-1.2zM131.1 633.3h1.2v1.2h-1.2zM92.0 604.0h1.2v1.2h-1.2zM97.0 598.0h1.2v1.2h-1.2zM72.3 610.3h1.2v1.2h-1.2zM79.2 601.0h1.2v1.2h-1.2zM77.0 581.6h1.2v1.2h-1.2zM87.5 612.2h1.2v1.2h-1.2zM87.6 609.9h1.2v1.2h-1.2zM102.6 627.2h1.2v1.2h-1.2zM74.4 611.7h1.2v1.2h-1.2zM65.9 632.1h1.2v1.2h-1.2zM80.3 613.3h1.2v1.2h-1.2zM80.6 655.2h1.2v1.2h-1.2zM97.0 603.0h1.2v1.2h-1.2zM110.4 636.0h1.2v1.2h-1.2zM111.8 619.6h1.2v1.2h-1.2zM92.0 631.3h1.2v1.2h-1.2zM87.9 652.2h1.2v1.2h-1.2zM87.6 652.2h1.2v1.2h-1.2zM99.1 630.9h1.2v1.2h-1.2zM113.7 609.7h1.2v1.2h-1.2zM78.1 642.6h1.2v1.2h-1.2zM78.7 650.5h1.2v1.2h-1.2zM64.8 613.8h1.2v1.2h-1.2zM52.8 611.3h1.2v1.2h-1.2zM62.0 617.5h1.2v1.2h-1.2zM101.2 634.4h1.2v1.2h-1.2zM73.3 616.1h1.2v1.2h-1.2zM82.7 601.6h1.2v1.2h-1.2zM60.8 610.7h1.2v1.2h-1.2zM106.8 632.8h1.2v1.2h-1.2zM63.5 633.8h1.2v1.2h-1.2zM77.0 583.5h1.2v1.2h-1.2zM85.0 583.0h1.2v1.2h-1.2zM82.8 644.9h1.2v1.2h-1.2zM70.8 585.9h1.2v1.2h-1.2zM88.0 660.5h1.2v1.2h-1.2zM55.5 617.3h1.2v1.2h-1.2zM103.8 655.4h1.2v1.2h-1.2zM70.7 633.8h1.2v1.2h-1.2zM80.8 611.3h1.2v1.2h-1.2zM53.2 617.5h1.2v1.2h-1.2zM109.1 610.3h1.2v1.2h-1.2zM74.5 607.0h1.2v1.2h-1.2zM76.2 654.0h1.2v1.2h-1.2zM67.7 599.0h1.2v1.2h-1.2zM69.7 610.0h1.2v1.2h-1.2zM100.6 602.9h1.2v1.2h-1.2zM53.8 631.6h1.2v1.2h-1.2zM50.3 615.3h1.2v1.2h-1.2zM66.9 600.8h1.2v1.2h-1.2zM85.8 652.8h1.2v1.2h-1.2zM92.9 610.5h1.2v1.2h-1.2zM67.9 627.4h1.2v1.2h-1.2zM89.6 625.0h1.2v1.2h-1.2zM66.9 608.3h1.2v1.2h-1.2zM95.4 608.7h1.2v1.2h-1.2zM83.2 624.6h1.2v1.2h-1.2zM94.5 585.0h1.2v1.2h-1.2zM112.6 654.0h1.2v1.2h-1.2zM121.6 616.6h1.2v1.2h-1.2zM84.4 615.0h1.2v1.2h-1.2zM55.5 608.7h1.2v1.2h-1.2zM91.8 608.1h1.2v1.2h-1.2zM58.5 613.3h1.2v1.2h-1.2zM95.3 599.1h1.2v1.2h-1.2zM64.4 644.6h1.2v1.2h-1.2zM139.4 632.9h1.2v1.2h-1.2zM78.5 611.9h1.2v1.2h-1.2zM77.9 647.5h1.2v1.2h-1.2zM49.4 625.1h1.2v1.2h-1.2zM126.1 615.3h1.2v1.2h-1.2zM97.1 633.5h1.2v1.2h-1.2zM73.1 641.7h1.2v1.2h-1.2zM98.9 644.9h1.2v1.2h-1.2zM87.9 642.7h1.2v1.2h-1.2zM117.3 627.5h1.2v1.2h-1.2zM86.6 658.8h1.2v1.2h-1.2zM73.8 622.4h1.2v1.2h-1.2zM66.9 623.4h1.2v1.2h-1.2zM61.7 640.5h1.2v1.2h-1.2zM98.4 663.1h1.2v1.2h-1.2zM84.6 644.4h1.2v1.2h-1.2zM45.1 618.8h1.2v1.2h-1.2zM64.0 585.3h1.2v1.2h-1.2zM93.0 619.0h1.2v1.2h-1.2zM100.9 658.0h1.2v1.2h-1.2zM132.6 639.2h1.2v1.2h-1.2zM103.5 646.8h1.2v1.2h-1.2zM95.4 626.0h1.2v1.2h-1.2zM86.2 612.2h1.2v1.2h-1.2zM83.0 614.9h1.2v1.2h-1.2zM114.1 648.9h1.2v1.2h-1.2zM110.7 617.3h1.2v1.2h-1.2zM87.6 650.5h1.2v1.2h-1.2zM73.9 631.5h1.2v1.2h-1.2zM87.5 659.8h1.2v1.2h-1.2zM120.4 610.5h1.2v1.2h-1.2zM81.6 597.6h1.2v1.2h-1.2zM77.0 637.7h1.2v1.2h-1.2zM68.0 599.5h1.2v1.2h-1.2zM69.0 622.7h1.2v1.2h-1.2zM108.4 637.7h1.2v1.2h-1.2zM67.9 587.1h1.2v1.2h-1.2zM95.2 617.6h1.2v1.2h-1.2zM84.4 586.2h1.2v1.2h-1.2zM120.9 623.4h1.2v1.2h-1.2zM114.8 648.8h1.2v1.2h-1.2zM89.7 650.4h1.2v1.2h-1.2zM99.4 606.5h1.2v1.2h-1.2zM111.4 633.7h1.2v1.2h-1.2zM83.3 617.8h1.2v1.2h-1.2zM112.7 615.1h1.2v1.2h-1.2zM77.1 640.8h1.2v1.2h-1.2zM88.4 578.6h1.2v1.2h-1.2zM55.4 612.3h1.2v1.2h-1.2zM115.7 617.1h1.2v1.2h-1.2zM70.3 643.1h1.2v1.2h-1.2zM49.0 624.1h1.2v1.2h-1.2zM44.4 611.7h1.2v1.2h-1.2zM89.5 648.7h1.2v1.2h-1.2zM128.9 611.0h1.2v1.2h-1.2zM103.1 613.0h1.2v1.2h-1.2zM74.9 617.5h1.2v1.2h-1.2zM111.2 607.2h1.2v1.2h-1.2zM105.0 612.4h1.2v1.2h-1.2zM107.1 643.2h1.2v1.2h-1.2zM73.9 617.6h1.2v1.2h-1.2zM45.3 622.4h1.2v1.2h-1.2zM93.8 574.6h1.2v1.2h-1.2zM117.9 639.5h1.2v1.2h-1.2zM95.4 593.9h1.2v1.2h-1.2zM114.4 621.9h1.2v1.2h-1.2zM84.3 626.5h1.2v1.2h-1.2zM127.1 631.6h1.2v1.2h-1.2zM60.1 596.8h1.2v1.2h-1.2zM101.7 633.3h1.2v1.2h-1.2zM69.1 594.8h1.2v1.2h-1.2zM93.9 625.9h1.2v1.2h-1.2zM81.2 577.7h1.2v1.2h-1.2zM56.4 598.2h1.2v1.2h-1.2zM50.4 605.3h1.2v1.2h-1.2zM100.5 629.8h1.2v1.2h-1.2zM121.4 623.7h1.2v1.2h-1.2zM92.7 612.8h1.2v1.2h-1.2zM74.1 581.3h1.2v1.2h-1.2zM96.8 609.0h1.2v1.2h-1.2zM93.1 648.8h1.2v1.2h-1.2zM108.3 629.2h1.2v1.2h-1.2zM80.3 598.0h1.2v1.2h-1.2zM126.0 617.1h1.2v1.2h-1.2zM58.0 618.0h1.2v1.2h-1.2zM59.4 594.5h1.2v1.2h-1.2zM116.1 623.6h1.2v1.2h-1.2zM53.2 615.6h1.2v1.2h-1.2zM50.3 609.0h1.2v1.2h-1.2zM127.6 638.6h1.2v1.2h-1.2zM106.5 654.9h1.2v1.2h-1.2zM53.5 595.5h1.2v1.2h-1.2zM91.0 640.7h1.2v1.2h-1.2zM68.7 620.9h1.2v1.2h-1.2zM87.7 637.8h1.2v1.2h-1.2zM101.2 661.4h1.2v1.2h-1.2zM62.8 632.0h1.2v1.2h-1.2zM46.2 615.2h1.2v1.2h-1.2zM51.5 616.3h1.2v1.2h-1.2zM76.5 585.6h1.2v1.2h-1.2zM92.9 578.9h1.2v1.2h-1.2zM58.7 618.3h1.2v1.2h-1.2zM114.6 631.7h1.2v1.2h-1.2zM81.9 625.0h1.2v1.2h-1.2zM109.2 630.2h1.2v1.2h-1.2zM132.2 638.1h1.2v1.2h-1.2zM69.0 592.8h1.2v1.2h-1.2zM93.9 664.6h1.2v1.2h-1.2zM104.9 622.5h1.2v1.2h-1.2zM116.0 624.5h1.2v1.2h-1.2zM79.3 609.0h1.2v1.2h-1.2zM91.6 584.8h1.2v1.2h-1.2zM85.7 644.9h1.2v1.2h-1.2zM111.9 606.6h1.2v1.2h-1.2zM89.3 625.5h1.2v1.2h-1.2zM110.4 604.3h1.2v1.2h-1.2zM86.4 630.4h1.2v1.2h-1.2zM95.1 595.7h1.2v1.2h-1.2zM106.0 613.7h1.2v1.2h-1.2zM63.9 634.3h1.2v1.2h-1.2zM63.3 589.1h1.2v1.2h-1.2zM54.1 617.3h1.2v1.2h-1.2zM78.1 598.8h1.2v1.2h-1.2zM128.1 617.5h1.2v1.2h-1.2zM60.3 638.5h1.2v1.2h-1.2zM77.2 651.4h1.2v1.2h-1.2zM109.6 623.8h1.2v1.2h-1.2zM84.6 629.3h1.2v1.2h-1.2zM120.5 624.1h1.2v1.2h-1.2zM76.9 621.3h1.2v1.2h-1.2zM114.9 606.4h1.2v1.2h-1.2zM70.3 621.0h1.2v1.2h-1.2zM98.7 601.3h1.2v1.2h-1.2zM114.6 650.3h1.2v1.2h-1.2zM118.8 645.8h1.2v1.2h-1.2zM59.0 601.6h1.2v1.2h-1.2zM93.0 665.4h1.2v1.2h-1.2zM105.4 602.7h1.2v1.2h-1.2zM116.5 628.1h1.2v1.2h-1.2zM91.4 617.6h1.2v1.2h-1.2zM70.1 625.2h1.2v1.2h-1.2zM124.7 638.2h1.2v1.2h-1.2zM94.6 592.1h1.2v1.2h-1.2zM43.3 614.4h1.2v1.2h-1.2zM102.0 638.5h1.2v1.2h-1.2zM88.6 584.1h1.2v1.2h-1.2zM74.3 612.2h1.2v1.2h-1.2zM103.8 647.9h1.2v1.2h-1.2zM83.2 615.6h1.2v1.2h-1.2zM68.5 617.3h1.2v1.2h-1.2zM91.3 591.7h1.2v1.2h-1.2zM103.0 619.1h1.2v1.2h-1.2zM94.6 628.1h1.2v1.2h-1.2zM54.8 596.3h1.2v1.2h-1.2zM81.0 656.8h1.2v1.2h-1.2zM60.7 617.6h1.2v1.2h-1.2zM72.6 596.8h1.2v1.2h-1.2zM46.5 624.9h1.2v1.2h-1.2zM116.6 620.6h1.2v1.2h-1.2zM68.9 645.8h1.2v1.2h-1.2zM137.4 634.5h1.2v1.2h-1.2zM76.9 609.5h1.2v1.2h-1.2zM118.8 647.4h1.2v1.2h-1.2zM54.1 626.8h1.2v1.2h-1.2zM102.0 629.4h1.2v1.2h-1.2zM85.4 636.3h1.2v1.2h-1.2zM99.7 664.2h1.2v1.2h-1.2zM91.6 607.4h1.2v1.2h-1.2zM81.3 626.2h1.2v1.2h-1.2zM81.6 640.6h1.2v1.2h-1.2zM122.5 634.4h1.2v1.2h-1.2zM111.5 614.1h1.2v1.2h-1.2zM115.4 614.9h1.2v1.2h-1.2zM98.1 667.1h1.2v1.2h-1.2zM113.7 624.7h1.2v1.2h-1.2zM65.9 592.3h1.2v1.2h-1.2zM77.4 653.7h1.2v1.2h-1.2zM62.2 617.7h1.2v1.2h-1.2zM117.8 627.2h1.2v1.2h-1.2zM62.1 632.4h1.2v1.2h-1.2zM92.3 584.6h1.2v1.2h-1.2zM138.2 635.7h1.2v1.2h-1.2zM55.3 625.7h1.2v1.2h-1.2zM87.3 615.1h1.2v1.2h-1.2zM87.0 597.8h1.2v1.2h-1.2zM83.1 654.9h1.2v1.2h-1.2zM97.7 653.2h1.2v1.2h-1.2zM100.7 641.2h1.2v1.2h-1.2zM92.1 653.0h1.2v1.2h-1.2zM84.8 573.7h1.2v1.2h-1.2zM60.3 618.4h1.2v1.2h-1.2zM92.1 645.2h1.2v1.2h-1.2zM113.5 632.3h1.2v1.2h-1.2zM88.1 598.8h1.2v1.2h-1.2zM79.8 642.1h1.2v1.2h-1.2zM106.1 606.8h1.2v1.2h-1.2zM130.1 610.2h1.2v1.2h-1.2zM79.4 647.6h1.2v1.2h-1.2zM124.9 619.4h1.2v1.2h-1.2zM81.0 636.9h1.2v1.2h-1.2zM133.9 627.0h1.2v1.2h-1.2zM79.8 618.9h1.2v1.2h-1.2zM122.7 619.3h1.2v1.2h-1.2zM79.7 612.1h1.2v1.2h-1.2zM81.6 619.8h1.2v1.2h-1.2zM79.1 627.3h1.2v1.2h-1.2zM118.6 644.3h1.2v1.2h-1.2zM105.7 610.8h1.2v1.2h-1.2zM69.9 622.7h1.2v1.2h-1.2zM84.5 576.4h1.2v1.2h-1.2zM109.7 619.6h1.2v1.2h-1.2zM83.7 591.5h1.2v1.2h-1.2zM92.4 589.3h1.2v1.2h-1.2zM123.6 609.5h1.2v1.2h-1.2zM73.4 618.7h1.2v1.2h-1.2zM93.1 606.3h1.2v1.2h-1.2zM88.7 651.0h1.2v1.2h-1.2zM88.4 586.5h1.2v1.2h-1.2zM48.2 603.6h1.2v1.2h-1.2zM90.1 572.2h1.2v1.2h-1.2zM120.0 618.2h1.2v1.2h-1.2zM113.3 613.4h1.2v1.2h-1.2zM113.4 642.2h1.2v1.2h-1.2zM61.2 612.7h1.2v1.2h-1.2zM59.8 633.7h1.2v1.2h-1.2zM119.3 624.4h1.2v1.2h-1.2zM54.5 635.4h1.2v1.2h-1.2zM89.3 584.8h1.2v1.2h-1.2zM98.8 631.2h1.2v1.2h-1.2zM91.5 621.2h1.2v1.2h-1.2zM75.1 622.0h1.2v1.2h-1.2zM54.6 603.8h1.2v1.2h-1.2zM78.3 631.2h1.2v1.2h-1.2zM75.0 644.9h1.2v1.2h-1.2zM122.6 607.2h1.2v1.2h-1.2zM47.4 626.7h1.2v1.2h-1.2zM81.2 636.8h1.2v1.2h-1.2zM81.6 610.7h1.2v1.2h-1.2zM83.8 611.7h1.2v1.2h-1.2zM48.2 605.1h1.2v1.2h-1.2zM84.5 632.2h1.2v1.2h-1.2zM100.7 660.3h1.2v1.2h-1.2zM76.2 638.8h1.2v1.2h-1.2zM116.1 618.8h1.2v1.2h-1.2zM125.2 623.2h1.2v1.2h-1.2zM90.2 599.3h1.2v1.2h-1.2zM101.4 632.1h1.2v1.2h-1.2zM49.6 606.0h1.2v1.2h-1.2zM69.4 622.8h1.2v1.2h-1.2zM131.4 606.9h1.2v1.2h-1.2zM120.7 622.6h1.2v1.2h-1.2zM87.1 620.0h1.2v1.2h-1.2zM68.2 630.5h1.2v1.2h-1.2zM75.5 617.3h1.2v1.2h-1.2zM70.7 643.8h1.2v1.2h-1.2zM78.6 619.5h1.2v1.2h-1.2zM55.9 620.4h1.2v1.2h-1.2zM114.3 639.3h1.2v1.2h-1.2zM63.0 641.8h1.2v1.2h-1.2zM94.5 599.4h1.2v1.2h-1.2zM92.7 608.9h1.2v1.2h-1.2zM45.1 614.1h1.2v1.2h-1.2zM74.9 589.1h1.2v1.2h-1.2zM88.0 656.8h1.2v1.2h-1.2zM85.7 652.3h1.2v1.2h-1.2zM79.8 602.8h1.2v1.2h-1.2zM77.7 613.4h1.2v1.2h-1.2zM102.0 612.1h1.2v1.2h-1.2zM96.2 594.9h1.2v1.2h-1.2zM80.2 628.7h1.2v1.2h-1.2zM105.5 608.0h1.2v1.2h-1.2zM92.7 585.1h1.2v1.2h-1.2zM131.1 606.8h1.2v1.2h-1.2zM98.4 607.1h1.2v1.2h-1.2zM80.5 626.0h1.2v1.2h-1.2zM99.9 647.1h1.2v1.2h-1.2zM85.8 652.5h1.2v1.2h-1.2zM55.8 626.8h1.2v1.2h-1.2zM78.5 628.3h1.2v1.2h-1.2zM98.5 629.0h1.2v1.2h-1.2zM127.3 624.8h1.2v1.2h-1.2zM86.2 623.9h1.2v1.2h-1.2zM97.6 605.4h1.2v1.2h-1.2zM62.2 639.5h1.2v1.2h-1.2zM65.4 612.7h1.2v1.2h-1.2zM124.8 626.8h1.2v1.2h-1.2zM45.1 616.9h1.2v1.2h-1.2zM59.7 593.1h1.2v1.2h-1.2zM77.2 634.6h1.2v1.2h-1.2zM71.4 600.1h1.2v1.2h-1.2zM96.1 621.1h1.2v1.2h-1.2zM86.6 648.7h1.2v1.2h-1.2zM75.2 579.3h1.2v1.2h-1.2zM48.4 620.2h1.2v1.2h-1.2zM77.2 632.3h1.2v1.2h-1.2zM93.0 635.9h1.2v1.2h-1.2zM86.2 613.3h1.2v1.2h-1.2zM46.4 617.1h1.2v1.2h-1.2zM114.9 614.6h1.2v1.2h-1.2zM70.9 640.2h1.2v1.2h-1.2zM83.0 618.1h1.2v1.2h-1.2zM85.1 592.2h1.2v1.2h-1.2zM75.5 605.4h1.2v1.2h-1.2zM94.2 644.0h1.2v1.2h-1.2zM79.1 635.5h1.2v1.2h-1.2zM67.5 643.5h1.2v1.2h-1.2zM118.6 646.6h1.2v1.2h-1.2zM117.5 604.1h1.2v1.2h-1.2zM104.5 645.9h1.2v1.2h-1.2zM94.2 609.6h1.2v1.2h-1.2zM47.9 619.4h1.2v1.2h-1.2zM102.4 665.6h1.2v1.2h-1.2zM58.1 589.5h1.2v1.2h-1.2zM64.2 591.6h1.2v1.2h-1.2zM65.6 585.9h1.2v1.2h-1.2zM77.8 636.1h1.2v1.2h-1.2zM80.0 623.7h1.2v1.2h-1.2zM90.7 599.8h1.2v1.2h-1.2zM100.8 639.0h1.2v1.2h-1.2zM89.6 583.9h1.2v1.2h-1.2zM90.1 601.6h1.2v1.2h-1.2zM100.0 650.3h1.2v1.2h-1.2zM51.5 619.9h1.2v1.2h-1.2zM121.5 622.7h1.2v1.2h-1.2zM50.6 599.0h1.2v1.2h-1.2zM53.7 632.0h1.2v1.2h-1.2zM98.8 605.4h1.2v1.2h-1.2zM83.2 636.5h1.2v1.2h-1.2zM84.4 620.8h1.2v1.2h-1.2zM117.6 630.3h1.2v1.2h-1.2zM66.4 597.3h1.2v1.2h-1.2zM86.3 637.8h1.2v1.2h-1.2zM63.7 584.3h1.2v1.2h-1.2zM120.3 625.4h1.2v1.2h-1.2zM129.3 634.4h1.2v1.2h-1.2zM57.8 587.7h1.2v1.2h-1.2zM78.3 620.0h1.2v1.2h-1.2zM71.1 582.8h1.2v1.2h-1.2zM91.8 588.9h1.2v1.2h-1.2zM69.6 640.5h1.2v1.2h-1.2zM53.9 619.4h1.2v1.2h-1.2zM108.8 657.9h1.2v1.2h-1.2zM87.7 653.3h1.2v1.2h-1.2zM130.5 612.1h1.2v1.2h-1.2zM71.8 609.3h1.2v1.2h-1.2zM114.1 653.1h1.2v1.2h-1.2zM62.6 604.2h1.2v1.2h-1.2zM78.3 578.0h1.2v1.2h-1.2zM71.2 622.4h1.2v1.2h-1.2zM79.9 648.6h1.2v1.2h-1.2zM116.6 652.0h1.2v1.2h-1.2zM69.2 648.7h1.2v1.2h-1.2zM112.2 655.4h1.2v1.2h-1.2zM72.5 626.0h1.2v1.2h-1.2zM114.3 622.9h1.2v1.2h-1.2zM93.9 596.8h1.2v1.2h-1.2zM92.1 615.0h1.2v1.2h-1.2zM95.9 593.0h1.2v1.2h-1.2zM63.3 617.7h1.2v1.2h-1.2zM93.9 652.5h1.2v1.2h-1.2zM68.0 583.0h1.2v1.2h-1.2zM97.3 598.8h1.2v1.2h-1.2zM88.3 607.0h1.2v1.2h-1.2zM84.1 649.6h1.2v1.2h-1.2zM108.5 610.8h1.2v1.2h-1.2zM96.1 640.5h1.2v1.2h-1.2zM81.8 616.0h1.2v1.2h-1.2zM130.7 619.3h1.2v1.2h-1.2zM90.5 583.5h1.2v1.2h-1.2zM87.7 578.0h1.2v1.2h-1.2zM59.2 633.6h1.2v1.2h-1.2zM65.6 611.8h1.2v1.2h-1.2zM47.5 617.9h1.2v1.2h-1.2zM57.2 591.3h1.2v1.2h-1.2zM122.5 614.8h1.2v1.2h-1.2zM70.6 588.5h1.2v1.2h-1.2zM105.3 656.3h1.2v1.2h-1.2zM95.8 650.2h1.2v1.2h-1.2zM103.1 646.8h1.2v1.2h-1.2zM78.1 593.7h1.2v1.2h-1.2zM111.2 655.4h1.2v1.2h-1.2zM71.2 627.2h1.2v1.2h-1.2zM61.5 612.3h1.2v1.2h-1.2zM132.0 638.2h1.2v1.2h-1.2zM88.3 654.2h1.2v1.2h-1.2zM60.0 613.6h1.2v1.2h-1.2zM77.8 590.7h1.2v1.2h-1.2zM94.4 667.8h1.2v1.2h-1.2zM90.6 625.6h1.2v1.2h-1.2zM85.1 635.3h1.2v1.2h-1.2zM112.8 614.1h1.2v1.2h-1.2zM72.6 611.9h1.2v1.2h-1.2zM89.7 616.0h1.2v1.2h-1.2zM65.0 623.0h1.2v1.2h-1.2zM120.0 618.6h1.2v1.2h-1.2zM90.0 595.2h1.2v1.2h-1.2zM105.8 657.0h1.2v1.2h-1.2zM69.5 586.0h1.2v1.2h-1.2zM96.1 638.2h1.2v1.2h-1.2zM67.1 604.3h1.2v1.2h-1.2zM95.1 578.4h1.2v1.2h-1.2zM60.1 616.6h1.2v1.2h-1.2zM95.6 604.7h1.2v1.2h-1.2zM96.4 630.2h1.2v1.2h-1.2zM91.6 571.3h1.2v1.2h-1.2zM85.4 602.6h1.2v1.2h-1.2zM100.1 645.9h1.2v1.2h-1.2zM98.4 658.0h1.2v1.2h-1.2zM74.3 581.9h1.2v1.2h-1.2zM123.8 608.6h1.2v1.2h-1.2zM50.6 600.5h1.2v1.2h-1.2zM136.7 635.3h1.2v1.2h-1.2zM129.6 608.2h1.2v1.2h-1.2zM78.4 616.9h1.2v1.2h-1.2zM43.7 614.0h1.2v1.2h-1.2zM73.0 623.3h1.2v1.2h-1.2zM133.8 631.3h1.2v1.2h-1.2zM117.7 628.2h1.2v1.2h-1.2zM81.3 599.4h1.2v1.2h-1.2zM110.5 610.1h1.2v1.2h-1.2zM89.0 638.7h1.2v1.2h-1.2zM79.4 581.6h1.2v1.2h-1.2zM101.4 606.2h1.2v1.2h-1.2zM94.5 586.5h1.2v1.2h-1.2zM115.4 616.2h1.2v1.2h-1.2zM105.5 634.8h1.2v1.2h-1.2zM55.2 608.0h1.2v1.2h-1.2zM90.6 624.6h1.2v1.2h-1.2zM91.9 603.3h1.2v1.2h-1.2zM121.4 624.8h1.2v1.2h-1.2zM76.9 582.7h1.2v1.2h-1.2zM89.8 612.4h1.2v1.2h-1.2zM96.7 640.6h1.2v1.2h-1.2zM91.2 595.4h1.2v1.2h-1.2zM116.4 617.1h1.2v1.2h-1.2zM113.7 607.1h1.2v1.2h-1.2zM75.7 627.7h1.2v1.2h-1.2zM65.7 617.4h1.2v1.2h-1.2zM131.4 634.3h1.2v1.2h-1.2zM76.2 595.7h1.2v1.2h-1.2zM96.8 623.3h1.2v1.2h-1.2zM111.5 616.7h1.2v1.2h-1.2zM95.6 613.1h1.2v1.2h-1.2zM107.4 644.0h1.2v1.2h-1.2zM53.9 590.6h1.2v1.2h-1.2zM99.4 626.8h1.2v1.2h-1.2zM47.3 610.8h1.2v1.2h-1.2zM102.4 608.6h1.2v1.2h-1.2zM89.1 584.7h1.2v1.2h-1.2zM65.9 611.2h1.2v1.2h-1.2zM61.8 591.6h1.2v1.2h-1.2zM48.7 619.0h1.2v1.2h-1.2zM122.9 624.4h1.2v1.2h-1.2zM56.8 592.9h1.2v1.2h-1.2zM101.5 604.3h1.2v1.2h-1.2zM124.8 606.5h1.2v1.2h-1.2zM96.5 642.3h1.2v1.2h-1.2zM62.0 593.0h1.2v1.2h-1.2zM80.8 631.7h1.2v1.2h-1.2zM110.9 656.4h1.2v1.2h-1.2zM63.3 609.5h1.2v1.2h-1.2z" fill="#b4def8"/>
<path d="M97.4 606.8h1.2v1.2h-1.2zM55.2 592.8h1.2v1.2h-1.2zM61.0 627.9h1.2v1.2h-1.2zM89.0 600.3h1.2v1.2h-1.2zM85.4 645.0h1.2v1.2h-1.2zM101.9 615.6h1.2v1.2h-1.2zM55.8 595.2h1.2v1.2h-1.2zM71.0 611.6h1.2v1.2h-1.2zM80.3 626.4h1.2v1.2h-1.2zM63.9 586.9h1.2v1.2h-1.2zM90.3 618.3h1.2v1.2h-1.2zM69.3 606.9h1.2v1.2h-1.2zM65.7 621.6h1.2v1.2h-1.2zM106.5 659.1h1.2v1.2h-1.2zM76.6 649.3h1.2v1.2h-1.2zM68.3 599.7h1.2v1.2h-1.2zM102.3 659.4h1.2v1.2h-1.2zM60.2 617.3h1.2v1.2h-1.2zM53.4 625.8h1.2v1.2h-1.2zM105.3 620.4h1.2v1.2h-1.2zM114.2 656.7h1.2v1.2h-1.2zM83.3 618.7h1.2v1.2h-1.2zM99.3 614.1h1.2v1.2h-1.2zM85.8 660.1h1.2v1.2h-1.2zM89.0 604.2h1.2v1.2h-1.2zM74.5 600.8h1.2v1.2h-1.2zM126.4 613.3h1.2v1.2h-1.2zM114.9 633.2h1.2v1.2h-1.2zM71.4 594.7h1.2v1.2h-1.2zM91.2 620.2h1.2v1.2h-1.2zM102.5 622.8h1.2v1.2h-1.2zM133.9 632.4h1.2v1.2h-1.2zM102.4 658.3h1.2v1.2h-1.2zM106.7 637.6h1.2v1.2h-1.2zM93.1 608.4h1.2v1.2h-1.2zM48.7 597.3h1.2v1.2h-1.2zM44.3 615.9h1.2v1.2h-1.2zM126.6 620.8h1.2v1.2h-1.2zM80.7 609.4h1.2v1.2h-1.2zM107.2 660.3h1.2v1.2h-1.2zM73.0 643.3h1.2v1.2h-1.2zM88.6 584.7h1.2v1.2h-1.2zM119.3 611.4h1.2v1.2h-1.2zM94.1 632.6h1.2v1.2h-1.2zM108.9 645.8h1.2v1.2h-1.2zM96.3 628.0h1.2v1.2h-1.2zM66.6 595.2h1.2v1.2h-1.2zM124.2 643.3h1.2v1.2h-1.2zM65.4 611.8h1.2v1.2h-1.2zM80.8 603.4h1.2v1.2h-1.2zM47.5 617.3h1.2v1.2h-1.2zM140.7 631.3h1.2v1.2h-1.2zM66.5 617.5h1.2v1.2h-1.2zM104.7 603.1h1.2v1.2h-1.2zM115.3 614.7h1.2v1.2h-1.2zM67.9 595.0h1.2v1.2h-1.2zM91.2 651.1h1.2v1.2h-1.2zM64.8 607.1h1.2v1.2h-1.2zM124.0 624.6h1.2v1.2h-1.2zM74.5 626.4h1.2v1.2h-1.2zM84.1 657.3h1.2v1.2h-1.2zM51.6 631.9h1.2v1.2h-1.2zM53.7 619.0h1.2v1.2h-1.2zM64.9 610.1h1.2v1.2h-1.2zM104.0 624.8h1.2v1.2h-1.2zM92.7 594.0h1.2v1.2h-1.2zM55.7 613.1h1.2v1.2h-1.2zM94.9 576.3h1.2v1.2h-1.2zM49.2 605.3h1.2v1.2h-1.2zM112.2 658.6h1.2v1.2h-1.2zM107.1 609.6h1.2v1.2h-1.2zM105.6 613.3h1.2v1.2h-1.2zM65.5 628.1h1.2v1.2h-1.2zM83.7 596.8h1.2v1.2h-1.2zM84.1 594.2h1.2v1.2h-1.2zM122.8 641.0h1.2v1.2h-1.2zM113.7 653.7h1.2v1.2h-1.2zM69.2 594.1h1.2v1.2h-1.2zM87.3 641.9h1.2v1.2h-1.2zM113.9 643.1h1.2v1.2h-1.2zM107.5 651.7h1.2v1.2h-1.2zM129.8 631.5h1.2v1.2h-1.2zM92.9 648.9h1.2v1.2h-1.2zM114.2 619.7h1.2v1.2h-1.2zM83.6 609.6h1.2v1.2h-1.2zM97.0 644.8h1.2v1.2h-1.2zM59.9 613.9h1.2v1.2h-1.2zM114.6 653.5h1.2v1.2h-1.2zM117.7 613.5h1.2v1.2h-1.2zM113.6 619.9h1.2v1.2h-1.2zM101.3 644.3h1.2v1.2h-1.2zM108.3 615.4h1.2v1.2h-1.2zM85.9 615.5h1.2v1.2h-1.2zM92.7 666.3h1.2v1.2h-1.2zM95.0 633.5h1.2v1.2h-1.2zM70.6 610.1h1.2v1.2h-1.2zM65.5 643.5h1.2v1.2h-1.2zM78.7 633.5h1.2v1.2h-1.2zM86.2 589.2h1.2v1.2h-1.2zM110.1 606.4h1.2v1.2h-1.2zM62.7 638.8h1.2v1.2h-1.2zM93.0 576.7h1.2v1.2h-1.2zM90.5 626.0h1.2v1.2h-1.2zM94.8 618.4h1.2v1.2h-1.2zM64.1 613.6h1.2v1.2h-1.2zM94.4 666.4h1.2v1.2h-1.2zM107.6 647.7h1.2v1.2h-1.2zM135.8 630.8h1.2v1.2h-1.2zM109.7 607.1h1.2v1.2h-1.2zM48.1 626.5h1.2v1.2h-1.2zM84.8 581.0h1.2v1.2h-1.2zM74.4 642.3h1.2v1.2h-1.2zM79.7 634.1h1.2v1.2h-1.2zM76.5 630.2h1.2v1.2h-1.2zM85.8 628.4h1.2v1.2h-1.2zM90.2 591.2h1.2v1.2h-1.2zM91.4 628.6h1.2v1.2h-1.2zM83.8 621.6h1.2v1.2h-1.2zM63.1 588.7h1.2v1.2h-1.2zM68.9 626.2h1.2v1.2h-1.2zM123.1 640.4h1.2v1.2h-1.2zM91.8 587.5h1.2v1.2h-1.2zM88.9 604.2h1.2v1.2h-1.2zM58.5 597.5h1.2v1.2h-1.2zM52.5 599.3h1.2v1.2h-1.2zM104.9 619.5h1.2v1.2h-1.2zM117.6 610.9h1.2v1.2h-1.2zM80.5 629.2h1.2v1.2h-1.2zM95.1 622.9h1.2v1.2h-1.2zM84.1 584.4h1.2v1.2h-1.2zM128.6 622.4h1.2v1.2h-1.2zM68.1 612.3h1.2v1.2h-1.2zM98.1 661.4h1.2v1.2h-1.2zM70.0 616.6h1.2v1.2h-1.2zM128.6 630.7h1.2v1.2h-1.2zM105.3 616.9h1.2v1.2h-1.2zM99.6 619.1h1.2v1.2h-1.2zM53.7 593.0h1.2v1.2h-1.2zM126.7 621.6h1.2v1.2h-1.2zM121.0 628.3h1.2v1.2h-1.2zM88.9 615.8h1.2v1.2h-1.2zM61.4 600.7h1.2v1.2h-1.2zM95.5 621.6h1.2v1.2h-1.2zM52.6 607.6h1.2v1.2h-1.2zM96.8 650.8h1.2v1.2h-1.2zM58.5 599.4h1.2v1.2h-1.2zM84.7 648.0h1.2v1.2h-1.2zM69.8 634.3h1.2v1.2h-1.2zM115.8 605.6h1.2v1.2h-1.2zM102.2 664.9h1.2v1.2h-1.2zM67.4 609.1h1.2v1.2h-1.2zM97.2 608.7h1.2v1.2h-1.2zM110.6 604.4h1.2v1.2h-1.2zM78.7 641.7h1.2v1.2h-1.2zM80.2 595.1h1.2v1.2h-1.2zM82.5 579.4h1.2v1.2h-1.2zM74.4 593.1h1.2v1.2h-1.2zM84.8 635.5h1.2v1.2h-1.2zM73.6 608.2h1.2v1.2h-1.2zM130.1 630.4h1.2v1.2h-1.2zM118.2 652.2h1.2v1.2h-1.2zM69.3 624.4h1.2v1.2h-1.2zM74.3 584.4h1.2v1.2h-1.2zM57.0 626.1h1.2v1.2h-1.2zM103.9 616.1h1.2v1.2h-1.2zM62.7 639.6h1.2v1.2h-1.2zM53.7 618.8h1.2v1.2h-1.2zM67.7 584.6h1.2v1.2h-1.2zM80.3 624.9h1.2v1.2h-1.2zM93.2 619.9h1.2v1.2h-1.2zM71.5 635.7h1.2v1.2h-1.2zM72.8 614.3h1.2v1.2h-1.2zM111.8 630.6h1.2v1.2h-1.2zM85.2 622.8h1.2v1.2h-1.2zM65.7 627.0h1.2v1.2h-1.2zM98.9 640.9h1.2v1.2h-1.2zM115.0 612.7h1.2v1.2h-1.2zM112.3 651.7h1.2v1.2h-1.2zM128.4 627.9h1.2v1.2h-1.2zM113.2 650.0h1.2v1.2h-1.2zM91.3 586.5h1.2v1.2h-1.2zM59.9 606.3h1.2v1.2h-1.2zM69.4 626.6h1.2v1.2h-1.2zM79.7 598.5h1.2v1.2h-1.2zM99.0 610.7h1.2v1.2h-1.2zM78.3 584.3h1.2v1.2h-1.2zM136.9 628.1h1.2v1.2h-1.2zM59.4 597.2h1.2v1.2h-1.2zM61.8 623.5h1.2v1.2h-1.2zM112.1 604.0h1.2v1.2h-1.2zM105.4 641.8h1.2v1.2h-1.2zM99.4 635.3h1.2v1.2h-1.2zM96.1 663.0h1.2v1.2h-1.2zM57.8 588.4h1.2v1.2h-1.2zM48.6 626.2h1.2v1.2h-1.2zM66.2 590.9h1.2v1.2h-1.2zM71.5 603.4h1.2v1.2h-1.2zM101.9 657.3h1.2v1.2h-1.2zM54.8 618.7h1.2v1.2h-1.2zM78.7 619.5h1.2v1.2h-1.2zM113.0 634.9h1.2v1.2h-1.2zM84.5 585.0h1.2v1.2h-1.2zM108.7 624.7h1.2v1.2h-1.2zM115.5 609.5h1.2v1.2h-1.2zM91.0 641.6h1.2v1.2h-1.2zM89.7 633.6h1.2v1.2h-1.2zM124.8 622.0h1.2v1.2h-1.2zM112.2 606.9h1.2v1.2h-1.2zM75.7 594.7h1.2v1.2h-1.2zM87.9 606.9h1.2v1.2h-1.2zM80.7 636.1h1.2v1.2h-1.2zM89.9 616.2h1.2v1.2h-1.2zM95.0 651.7h1.2v1.2h-1.2zM121.3 646.3h1.2v1.2h-1.2zM85.3 628.1h1.2v1.2h-1.2zM130.5 625.3h1.2v1.2h-1.2zM90.1 618.8h1.2v1.2h-1.2zM100.4 602.6h1.2v1.2h-1.2zM89.1 662.4h1.2v1.2h-1.2zM111.6 637.0h1.2v1.2h-1.2zM81.4 633.7h1.2v1.2h-1.2zM72.3 605.0h1.2v1.2h-1.2zM103.9 665.6h1.2v1.2h-1.2zM103.5 616.1h1.2v1.2h-1.2zM78.7 607.6h1.2v1.2h-1.2zM59.3 623.4h1.2v1.2h-1.2zM92.6 648.4h1.2v1.2h-1.2zM45.7 609.5h1.2v1.2h-1.2zM105.9 638.7h1.2v1.2h-1.2zM67.6 642.8h1.2v1.2h-1.2zM119.5 633.2h1.2v1.2h-1.2zM66.3 590.4h1.2v1.2h-1.2zM82.7 647.7h1.2v1.2h-1.2zM77.3 629.2h1.2v1.2h-1.2zM78.8 653.6h1.2v1.2h-1.2zM61.4 597.6h1.2v1.2h-1.2zM68.2 605.5h1.2v1.2h-1.2zM50.3 632.0h1.2v1.2h-1.2zM112.6 625.5h1.2v1.2h-1.2zM82.7 644.1h1.2v1.2h-1.2zM70.9 586.8h1.2v1.2h-1.2zM73.0 608.5h1.2v1.2h-1.2zM82.9 608.7h1.2v1.2h-1.2zM120.1 617.0h1.2v1.2h-1.2zM69.7 594.8h1.2v1.2h-1.2zM53.9 601.0h1.2v1.2h-1.2zM125.1 605.2h1.2v1.2h-1.2zM49.3 611.4h1.2v1.2h-1.2zM58.0 636.7h1.2v1.2h-1.2zM114.6 630.9h1.2v1.2h-1.2zM56.7 597.9h1.2v1.2h-1.2zM107.0 604.3h1.2v1.2h-1.2zM86.0 577.2h1.2v1.2h-1.2zM91.5 584.1h1.2v1.2h-1.2zM83.8 598.6h1.2v1.2h-1.2zM62.7 597.0h1.2v1.2h-1.2zM69.5 605.8h1.2v1.2h-1.2zM100.3 620.7h1.2v1.2h-1.2zM90.0 575.2h1.2v1.2h-1.2zM63.6 594.8h1.2v1.2h-1.2zM107.7 640.1h1.2v1.2h-1.2zM67.1 634.5h1.2v1.2h-1.2zM65.0 636.7h1.2v1.2h-1.2zM94.0 631.6h1.2v1.2h-1.2zM86.5 581.8h1.2v1.2h-1.2zM113.5 629.6h1.2v1.2h-1.2zM117.6 648.9h1.2v1.2h-1.2zM68.4 600.4h1.2v1.2h-1.2zM76.2 646.3h1.2v1.2h-1.2zM96.9 634.6h1.2v1.2h-1.2zM119.0 644.7h1.2v1.2h-1.2zM103.1 635.2h1.2v1.2h-1.2zM70.5 646.3h1.2v1.2h-1.2zM109.4 626.7h1.2v1.2h-1.2zM71.7 608.2h1.2v1.2h-1.2zM110.5 652.8h1.2v1.2h-1.2zM66.2 614.1h1.2v1.2h-1.2zM51.0 596.9h1.2v1.2h-1.2zM109.4 621.3h1.2v1.2h-1.2zM104.5 634.7h1.2v1.2h-1.2zM102.3 662.9h1.2v1.2h-1.2zM75.5 610.8h1.2v1.2h-1.2zM100.1 640.6h1.2v1.2h-1.2zM102.5 615.2h1.2v1.2h-1.2zM85.6 622.8h1.2v1.2h-1.2zM66.7 606.8h1.2v1.2h-1.2zM43.5 617.5h1.2v1.2h-1.2zM110.5 646.0h1.2v1.2h-1.2zM50.5 628.0h1.2v1.2h-1.2zM108.3 633.1h1.2v1.2h-1.2zM60.3 639.1h1.2v1.2h-1.2zM91.6 596.3h1.2v1.2h-1.2zM92.9 589.4h1.2v1.2h-1.2zM110.5 626.3h1.2v1.2h-1.2zM65.2 599.4h1.2v1.2h-1.2zM58.6 593.1h1.2v1.2h-1.2zM89.8 590.3h1.2v1.2h-1.2zM49.7 608.9h1.2v1.2h-1.2zM80.6 614.7h1.2v1.2h-1.2zM51.3 609.5h1.2v1.2h-1.2zM55.1 594.7h1.2v1.2h-1.2zM77.2 595.2h1.2v1.2h-1.2zM131.0 627.2h1.2v1.2h-1.2zM81.3 581.8h1.2v1.2h-1.2zM97.8 603.9h1.2v1.2h-1.2zM77.3 647.6h1.2v1.2h-1.2zM102.7 652.1h1.2v1.2h-1.2zM86.8 641.2h1.2v1.2h-1.2zM65.3 643.8h1.2v1.2h-1.2zM61.6 624.5h1.2v1.2h-1.2zM107.2 649.6h1.2v1.2h-1.2zM90.5 580.0h1.2v1.2h-1.2zM63.2 628.3h1.2v1.2h-1.2zM57.1 616.0h1.2v1.2h-1.2zM59.1 592.4h1.2v1.2h-1.2zM90.8 590.4h1.2v1.2h-1.2zM129.6 642.2h1.2v1.2h-1.2zM57.4 606.8h1.2v1.2h-1.2zM78.4 623.0h1.2v1.2h-1.2zM80.5 608.9h1.2v1.2h-1.2zM57.6 593.3h1.2v1.2h-1.2zM87.0 589.9h1.2v1.2h-1.2zM87.0 609.2h1.2v1.2h-1.2zM48.5 622.9h1.2v1.2h-1.2zM77.0 609.7h1.2v1.2h-1.2zM84.9 636.5h1.2v1.2h-1.2zM69.4 630.7h1.2v1.2h-1.2zM70.9 582.1h1.2v1.2h-1.2zM125.4 645.2h1.2v1.2h-1.2zM45.9 617.7h1.2v1.2h-1.2zM77.0 587.0h1.2v1.2h-1.2zM125.1 637.7h1.2v1.2h-1.2zM90.7 619.2h1.2v1.2h-1.2zM56.9 627.9h1.2v1.2h-1.2zM107.5 624.1h1.2v1.2h-1.2zM128.3 636.4h1.2v1.2h-1.2zM95.3 602.6h1.2v1.2h-1.2zM68.6 584.9h1.2v1.2h-1.2zM84.8 624.2h1.2v1.2h-1.2zM111.2 652.6h1.2v1.2h-1.2zM85.9 601.2h1.2v1.2h-1.2zM86.5 587.2h1.2v1.2h-1.2zM76.9 581.0h1.2v1.2h-1.2zM65.3 610.0h1.2v1.2h-1.2zM49.7 624.1h1.2v1.2h-1.2zM91.0 584.8h1.2v1.2h-1.2zM102.3 641.7h1.2v1.2h-1.2zM81.5 636.7h1.2v1.2h-1.2zM80.8 620.9h1.2v1.2h-1.2zM121.4 639.8h1.2v1.2h-1.2zM115.1 651.1h1.2v1.2h-1.2zM79.3 644.8h1.2v1.2h-1.2zM124.1 643.1h1.2v1.2h-1.2zM61.3 586.4h1.2v1.2h-1.2zM44.6 609.1h1.2v1.2h-1.2zM75.8 634.0h1.2v1.2h-1.2zM67.5 628.4h1.2v1.2h-1.2zM98.7 608.9h1.2v1.2h-1.2zM94.5 599.3h1.2v1.2h-1.2zM79.2 603.8h1.2v1.2h-1.2zM76.2 653.6h1.2v1.2h-1.2zM88.2 610.7h1.2v1.2h-1.2zM90.9 590.3h1.2v1.2h-1.2zM56.3 601.2h1.2v1.2h-1.2zM100.6 644.7h1.2v1.2h-1.2zM113.1 623.1h1.2v1.2h-1.2zM114.2 616.4h1.2v1.2h-1.2zM65.5 592.2h1.2v1.2h-1.2zM109.9 610.7h1.2v1.2h-1.2zM52.2 598.0h1.2v1.2h-1.2zM99.1 629.8h1.2v1.2h-1.2zM94.7 585.6h1.2v1.2h-1.2zM97.6 614.0h1.2v1.2h-1.2zM80.6 617.9h1.2v1.2h-1.2zM80.6 648.1h1.2v1.2h-1.2zM95.0 614.1h1.2v1.2h-1.2zM110.2 625.7h1.2v1.2h-1.2zM128.9 617.0h1.2v1.2h-1.2zM109.8 635.3h1.2v1.2h-1.2zM98.4 650.0h1.2v1.2h-1.2zM96.1 600.4h1.2v1.2h-1.2zM71.1 581.7h1.2v1.2h-1.2zM95.7 612.6h1.2v1.2h-1.2zM73.5 628.3h1.2v1.2h-1.2zM95.6 584.4h1.2v1.2h-1.2zM113.6 628.5h1.2v1.2h-1.2zM93.3 593.4h1.2v1.2h-1.2zM125.5 625.6h1.2v1.2h-1.2zM109.1 638.2h1.2v1.2h-1.2zM100.9 621.4h1.2v1.2h-1.2zM129.1 636.5h1.2v1.2h-1.2zM73.5 597.2h1.2v1.2h-1.2zM125.5 639.0h1.2v1.2h-1.2zM62.1 640.3h1.2v1.2h-1.2zM53.0 603.6h1.2v1.2h-1.2zM112.6 658.3h1.2v1.2h-1.2zM44.3 618.0h1.2v1.2h-1.2zM92.9 609.6h1.2v1.2h-1.2zM128.3 628.3h1.2v1.2h-1.2zM124.5 629.5h1.2v1.2h-1.2zM81.3 599.9h1.2v1.2h-1.2zM106.4 617.7h1.2v1.2h-1.2zM65.7 639.9h1.2v1.2h-1.2zM78.0 649.6h1.2v1.2h-1.2zM76.3 586.2h1.2v1.2h-1.2zM121.1 646.6h1.2v1.2h-1.2zM68.3 624.1h1.2v1.2h-1.2zM53.4 605.1h1.2v1.2h-1.2zM45.7 604.3h1.2v1.2h-1.2zM72.5 598.6h1.2v1.2h-1.2zM88.6 626.4h1.2v1.2h-1.2zM81.7 653.1h1.2v1.2h-1.2zM88.2 616.8h1.2v1.2h-1.2zM90.5 611.2h1.2v1.2h-1.2zM80.0 581.5h1.2v1.2h-1.2zM103.1 624.1h1.2v1.2h-1.2zM122.5 614.2h1.2v1.2h-1.2zM47.0 618.6h1.2v1.2h-1.2zM115.8 605.0h1.2v1.2h-1.2zM52.8 603.7h1.2v1.2h-1.2zM78.4 645.4h1.2v1.2h-1.2zM92.7 574.6h1.2v1.2h-1.2zM97.4 629.5h1.2v1.2h-1.2zM68.3 621.4h1.2v1.2h-1.2zM80.1 582.7h1.2v1.2h-1.2zM121.8 641.8h1.2v1.2h-1.2zM128.0 605.3h1.2v1.2h-1.2zM106.4 655.2h1.2v1.2h-1.2zM121.9 644.3h1.2v1.2h-1.2zM81.9 649.6h1.2v1.2h-1.2zM111.9 612.6h1.2v1.2h-1.2zM134.5 636.0h1.2v1.2h-1.2zM57.4 621.1h1.2v1.2h-1.2zM94.9 621.1h1.2v1.2h-1.2zM117.3 645.2h1.2v1.2h-1.2zM59.7 604.7h1.2v1.2h-1.2zM136.9 634.4h1.2v1.2h-1.2zM86.8 625.9h1.2v1.2h-1.2zM103.2 606.9h1.2v1.2h-1.2zM90.6 608.9h1.2v1.2h-1.2zM102.8 612.2h1.2v1.2h-1.2zM61.1 641.4h1.2v1.2h-1.2zM68.6 628.3h1.2v1.2h-1.2zM59.5 589.8h1.2v1.2h-1.2zM91.2 609.8h1.2v1.2h-1.2zM79.4 639.3h1.2v1.2h-1.2zM115.4 613.4h1.2v1.2h-1.2zM71.2 604.9h1.2v1.2h-1.2zM126.8 628.3h1.2v1.2h-1.2zM71.4 597.6h1.2v1.2h-1.2zM107.0 635.3h1.2v1.2h-1.2zM99.2 642.1h1.2v1.2h-1.2zM83.8 583.4h1.2v1.2h-1.2zM123.2 627.0h1.2v1.2h-1.2zM75.0 585.2h1.2v1.2h-1.2zM77.3 602.4h1.2v1.2h-1.2zM125.5 622.7h1.2v1.2h-1.2zM125.2 638.7h1.2v1.2h-1.2zM122.7 637.5h1.2v1.2h-1.2zM100.2 649.7h1.2v1.2h-1.2zM126.9 607.5h1.2v1.2h-1.2zM99.8 614.5h1.2v1.2h-1.2zM96.6 600.4h1.2v1.2h-1.2zM90.0 599.0h1.2v1.2h-1.2zM78.3 629.5h1.2v1.2h-1.2zM97.3 664.6h1.2v1.2h-1.2zM80.1 627.9h1.2v1.2h-1.2zM97.1 597.9h1.2v1.2h-1.2zM99.8 654.0h1.2v1.2h-1.2zM119.8 629.6h1.2v1.2h-1.2zM59.1 610.3h1.2v1.2h-1.2zM55.7 630.8h1.2v1.2h-1.2zM61.6 616.3h1.2v1.2h-1.2zM67.9 638.5h1.2v1.2h-1.2zM118.8 632.7h1.2v1.2h-1.2zM130.3 611.5h1.2v1.2h-1.2zM73.2 630.6h1.2v1.2h-1.2zM127.7 636.8h1.2v1.2h-1.2zM121.5 649.4h1.2v1.2h-1.2zM121.1 603.9h1.2v1.2h-1.2zM74.4 583.1h1.2v1.2h-1.2zM65.8 626.2h1.2v1.2h-1.2zM94.7 576.8h1.2v1.2h-1.2zM102.5 647.8h1.2v1.2h-1.2zM75.7 611.5h1.2v1.2h-1.2zM54.5 602.2h1.2v1.2h-1.2zM60.1 604.9h1.2v1.2h-1.2zM108.1 633.3h1.2v1.2h-1.2zM133.4 635.2h1.2v1.2h-1.2zM67.1 628.6h1.2v1.2h-1.2zM116.0 633.4h1.2v1.2h-1.2zM114.9 641.9h1.2v1.2h-1.2zM92.1 577.9h1.2v1.2h-1.2zM99.8 665.9h1.2v1.2h-1.2zM63.6 607.1h1.2v1.2h-1.2zM127.4 603.7h1.2v1.2h-1.2zM70.3 618.6h1.2v1.2h-1.2zM68.9 585.7h1.2v1.2h-1.2zM90.5 581.5h1.2v1.2h-1.2zM56.5 621.1h1.2v1.2h-1.2zM82.3 615.0h1.2v1.2h-1.2zM95.6 647.8h1.2v1.2h-1.2zM95.4 623.8h1.2v1.2h-1.2zM120.6 617.2h1.2v1.2h-1.2zM104.7 631.0h1.2v1.2h-1.2zM124.1 624.4h1.2v1.2h-1.2zM44.6 620.6h1.2v1.2h-1.2zM120.9 619.9h1.2v1.2h-1.2zM58.9 606.7h1.2v1.2h-1.2zM99.3 660.8h1.2v1.2h-1.2zM94.7 617.5h1.2v1.2h-1.2zM128.1 629.9h1.2v1.2h-1.2zM125.6 604.4h1.2v1.2h-1.2zM90.0 575.5h1.2v1.2h-1.2zM76.0 635.8h1.2v1.2h-1.2zM69.9 646.5h1.2v1.2h-1.2zM91.9 636.0h1.2v1.2h-1.2zM44.8 605.4h1.2v1.2h-1.2zM128.0 624.1h1.2v1.2h-1.2zM92.7 624.3h1.2v1.2h-1.2zM111.2 604.3h1.2v1.2h-1.2zM120.6 606.6h1.2v1.2h-1.2zM122.3 634.3h1.2v1.2h-1.2zM107.0 636.4h1.2v1.2h-1.2zM130.1 623.1h1.2v1.2h-1.2zM57.5 620.6h1.2v1.2h-1.2zM87.1 611.9h1.2v1.2h-1.2zM86.9 602.0h1.2v1.2h-1.2zM116.1 634.8h1.2v1.2h-1.2zM67.7 588.9h1.2v1.2h-1.2zM109.8 614.1h1.2v1.2h-1.2zM64.0 583.6h1.2v1.2h-1.2zM86.0 585.3h1.2v1.2h-1.2zM99.4 602.8h1.2v1.2h-1.2zM73.8 649.5h1.2v1.2h-1.2zM99.6 612.1h1.2v1.2h-1.2zM128.7 608.0h1.2v1.2h-1.2zM64.7 610.7h1.2v1.2h-1.2zM105.8 640.6h1.2v1.2h-1.2zM112.1 653.1h1.2v1.2h-1.2zM43.9 616.4h1.2v1.2h-1.2zM99.2 663.8h1.2v1.2h-1.2zM78.7 580.6h1.2v1.2h-1.2zM117.0 614.9h1.2v1.2h-1.2zM110.4 619.2h1.2v1.2h-1.2zM60.4 601.0h1.2v1.2h-1.2zM118.8 631.2h1.2v1.2h-1.2zM48.9 611.8h1.2v1.2h-1.2zM71.0 631.5h1.2v1.2h-1.2zM55.2 606.0h1.2v1.2h-1.2zM100.4 622.5h1.2v1.2h-1.2zM121.2 627.1h1.2v1.2h-1.2zM56.9 600.4h1.2v1.2h-1.2zM94.8 596.4h1.2v1.2h-1.2zM95.7 619.4h1.2v1.2h-1.2zM90.2 659.2h1.2v1.2h-1.2zM129.2 639.2h1.2v1.2h-1.2zM90.4 578.6h1.2v1.2h-1.2zM77.3 583.5h1.2v1.2h-1.2zM119.3 648.7h1.2v1.2h-1.2zM74.9 634.8h1.2v1.2h-1.2zM122.1 636.8h1.2v1.2h-1.2zM97.6 628.5h1.2v1.2h-1.2zM55.1 603.3h1.2v1.2h-1.2zM131.8 632.7h1.2v1.2h-1.2zM119.9 623.1h1.2v1.2h-1.2zM101.9 616.0h1.2v1.2h-1.2zM74.6 605.6h1.2v1.2h-1.2zM85.1 605.3h1.2v1.2h-1.2zM56.0 634.9h1.2v1.2h-1.2zM71.5 612.4h1.2v1.2h-1.2zM56.9 608.3h1.2v1.2h-1.2zM71.1 591.7h1.2v1.2h-1.2zM116.2 637.9h1.2v1.2h-1.2zM95.4 646.2h1.2v1.2h-1.2zM65.2 601.5h1.2v1.2h-1.2zM82.2 587.4h1.2v1.2h-1.2zM84.0 658.0h1.2v1.2h-1.2zM114.8 642.0h1.2v1.2h-1.2zM94.7 648.8h1.2v1.2h-1.2zM86.3 635.3h1.2v1.2h-1.2zM99.0 664.9h1.2v1.2h-1.2zM51.7 612.1h1.2v1.2h-1.2zM63.0 631.3h1.2v1.2h-1.2zM51.0 622.2h1.2v1.2h-1.2zM85.4 616.7h1.2v1.2h-1.2zM67.5 626.2h1.2v1.2h-1.2zM96.4 626.1h1.2v1.2h-1.2zM55.9 615.9h1.2v1.2h-1.2zM107.8 661.5h1.2v1.2h-1.2zM92.9 619.8h1.2v1.2h-1.2zM69.8 648.4h1.2v1.2h-1.2zM55.9 598.9h1.2v1.2h-1.2zM103.5 621.7h1.2v1.2h-1.2zM119.1 613.2h1.2v1.2h-1.2zM139.8 630.4h1.2v1.2h-1.2zM69.7 596.7h1.2v1.2h-1.2zM86.8 606.0h1.2v1.2h-1.2zM81.2 622.7h1.2v1.2h-1.2zM44.4 625.2h1.2v1.2h-1.2zM119.9 609.2h1.2v1.2h-1.2zM77.6 630.3h1.2v1.2h-1.2zM70.2 599.0h1.2v1.2h-1.2zM82.0 626.9h1.2v1.2h-1.2zM70.2 626.2h1.2v1.2h-1.2zM127.1 614.6h1.2v1.2h-1.2zM48.1 597.5h1.2v1.2h-1.2zM111.6 657.6h1.2v1.2h-1.2zM85.6 633.9h1.2v1.2h-1.2zM76.2 650.4h1.2v1.2h-1.2zM85.8 649.5h1.2v1.2h-1.2zM111.5 636.8h1.2v1.2h-1.2zM91.2 618.4h1.2v1.2h-1.2zM81.6 605.4h1.2v1.2h-1.2zM116.2 644.6h1.2v1.2h-1.2zM121.6 608.3h1.2v1.2h-1.2zM108.7 652.2h1.2v1.2h-1.2zM80.1 604.5h1.2v1.2h-1.2zM64.9 595.5h1.2v1.2h-1.2zM61.4 624.0h1.2v1.2h-1.2zM128.9 624.9h1.2v1.2h-1.2zM106.4 611.3h1.2v1.2h-1.2zM72.1 607.5h1.2v1.2h-1.2zM51.5 605.4h1.2v1.2h-1.2zM83.3 652.8h1.2v1.2h-1.2zM78.9 648.2h1.2v1.2h-1.2zM108.8 637.3h1.2v1.2h-1.2zM89.4 590.7h1.2v1.2h-1.2zM95.2 649.3h1.2v1.2h-1.2zM50.4 625.2h1.2v1.2h-1.2zM114.8 651.1h1.2v1.2h-1.2zM130.1 625.4h1.2v1.2h-1.2zM59.3 633.2h1.2v1.2h-1.2zM96.6 595.8h1.2v1.2h-1.2zM87.2 621.0h1.2v1.2h-1.2zM53.3 606.7h1.2v1.2h-1.2zM113.0 645.5h1.2v1.2h-1.2zM104.7 655.2h1.2v1.2h-1.2zM71.1 618.5h1.2v1.2h-1.2zM108.4 604.9h1.2v1.2h-1.2zM124.6 617.3h1.2v1.2h-1.2zM91.1 580.7h1.2v1.2h-1.2zM61.5 617.6h1.2v1.2h-1.2zM89.1 599.5h1.2v1.2h-1.2zM119.7 620.5h1.2v1.2h-1.2zM80.3 643.2h1.2v1.2h-1.2zM113.3 616.1h1.2v1.2h-1.2zM115.7 611.7h1.2v1.2h-1.2zM89.5 628.4h1.2v1.2h-1.2zM106.1 609.7h1.2v1.2h-1.2zM76.2 622.2h1.2v1.2h-1.2zM115.9 614.3h1.2v1.2h-1.2zM78.9 620.3h1.2v1.2h-1.2zM82.2 625.7h1.2v1.2h-1.2zM132.5 629.6h1.2v1.2h-1.2zM59.0 604.6h1.2v1.2h-1.2zM73.0 589.3h1.2v1.2h-1.2zM88.0 574.0h1.2v1.2h-1.2zM83.6 623.2h1.2v1.2h-1.2zM60.1 636.2h1.2v1.2h-1.2zM68.9 605.7h1.2v1.2h-1.2zM126.2 613.5h1.2v1.2h-1.2zM77.9 625.0h1.2v1.2h-1.2zM77.5 624.9h1.2v1.2h-1.2zM121.7 637.4h1.2v1.2h-1.2zM127.7 629.2h1.2v1.2h-1.2zM78.8 630.4h1.2v1.2h-1.2zM108.7 633.5h1.2v1.2h-1.2zM129.7 632.8h1.2v1.2h-1.2zM90.8 589.3h1.2v1.2h-1.2zM112.5 623.2h1.2v1.2h-1.2zM87.4 616.7h1.2v1.2h-1.2zM118.1 638.1h1.2v1.2h-1.2zM110.7 632.9h1.2v1.2h-1.2zM66.5 641.9h1.2v1.2h-1.2zM118.4 624.5h1.2v1.2h-1.2zM97.7 658.6h1.2v1.2h-1.2zM72.9 614.9h1.2v1.2h-1.2zM99.6 642.1h1.2v1.2h-1.2zM96.3 618.0h1.2v1.2h-1.2zM121.4 616.2h1.2v1.2h-1.2zM100.7 625.6h1.2v1.2h-1.2zM74.0 625.2h1.2v1.2h-1.2zM57.4 630.6h1.2v1.2h-1.2zM113.5 645.3h1.2v1.2h-1.2zM66.8 642.6h1.2v1.2h-1.2zM80.4 623.9h1.2v1.2h-1.2zM104.8 611.8h1.2v1.2h-1.2zM80.2 597.0h1.2v1.2h-1.2zM114.5 652.3h1.2v1.2h-1.2zM74.4 594.9h1.2v1.2h-1.2zM72.8 581.3h1.2v1.2h-1.2zM65.1 616.5h1.2v1.2h-1.2zM106.6 657.6h1.2v1.2h-1.2zM87.0 586.7h1.2v1.2h-1.2zM95.9 646.5h1.2v1.2h-1.2zM83.1 609.7h1.2v1.2h-1.2zM113.6 606.7h1.2v1.2h-1.2zM64.4 609.3h1.2v1.2h-1.2zM87.6 607.0h1.2v1.2h-1.2zM105.9 623.8h1.2v1.2h-1.2zM88.7 624.2h1.2v1.2h-1.2zM117.4 637.5h1.2v1.2h-1.2zM80.6 611.7h1.2v1.2h-1.2zM78.5 589.1h1.2v1.2h-1.2zM119.0 607.2h1.2v1.2h-1.2zM70.1 631.7h1.2v1.2h-1.2zM72.0 611.4h1.2v1.2h-1.2zM89.6 661.9h1.2v1.2h-1.2zM73.8 619.4h1.2v1.2h-1.2zM68.7 618.0h1.2v1.2h-1.2zM111.7 611.3h1.2v1.2h-1.2zM69.1 583.9h1.2v1.2h-1.2zM121.5 610.1h1.2v1.2h-1.2zM96.9 596.8h1.2v1.2h-1.2zM90.7 656.3h1.2v1.2h-1.2zM92.7 635.6h1.2v1.2h-1.2zM112.9 614.2h1.2v1.2h-1.2zM67.3 594.2h1.2v1.2h-1.2zM110.8 614.7h1.2v1.2h-1.2zM87.1 646.3h1.2v1.2h-1.2zM81.1 597.7h1.2v1.2h-1.2zM113.7 616.4h1.2v1.2h-1.2zM114.8 634.5h1.2v1.2h-1.2zM118.7 645.2h1.2v1.2h-1.2zM95.3 605.7h1.2v1.2h-1.2zM90.7 594.2h1.2v1.2h-1.2zM53.2 608.7h1.2v1.2h-1.2zM90.9 633.6h1.2v1.2h-1.2zM122.7 610.6h1.2v1.2h-1.2zM111.4 603.2h1.2v1.2h-1.2zM59.6 622.3h1.2v1.2h-1.2zM81.7 610.0h1.2v1.2h-1.2zM117.7 623.0h1.2v1.2h-1.2zM65.8 600.6h1.2v1.2h-1.2zM127.6 633.8h1.2v1.2h-1.2zM87.7 578.0h1.2v1.2h-1.2zM72.1 615.1h1.2v1.2h-1.2zM101.8 635.2h1.2v1.2h-1.2zM64.0 625.2h1.2v1.2h-1.2zM72.0 620.7h1.2v1.2h-1.2zM87.0 628.3h1.2v1.2h-1.2zM53.0 626.2h1.2v1.2h-1.2zM100.3 656.3h1.2v1.2h-1.2zM86.5 607.5h1.2v1.2h-1.2zM80.6 596.2h1.2v1.2h-1.2zM134.6 638.4h1.2v1.2h-1.2zM118.0 629.7h1.2v1.2h-1.2zM92.7 572.5h1.2v1.2h-1.2zM70.7 631.5h1.2v1.2h-1.2zM53.6 605.7h1.2v1.2h-1.2zM111.6 649.8h1.2v1.2h-1.2zM92.1 635.1h1.2v1.2h-1.2zM102.0 655.3h1.2v1.2h-1.2zM70.8 610.2h1.2v1.2h-1.2zM119.0 633.1h1.2v1.2h-1.2zM63.2 591.3h1.2v1.2h-1.2zM100.6 621.0h1.2v1.2h-1.2zM101.6 665.9h1.2v1.2h-1.2zM107.5 625.0h1.2v1.2h-1.2zM138.8 633.0h1.2v1.2h-1.2zM71.1 649.2h1.2v1.2h-1.2zM125.5 645.7h1.2v1.2h-1.2zM77.0 632.3h1.2v1.2h-1.2zM56.9 587.9h1.2v1.2h-1.2zM64.3 614.2h1.2v1.2h-1.2zM110.7 647.1h1.2v1.2h-1.2zM62.2 628.7h1.2v1.2h-1.2zM76.3 585.7h1.2v1.2h-1.2zM54.5 612.0h1.2v1.2h-1.2zM128.6 631.6h1.2v1.2h-1.2zM84.1 643.6h1.2v1.2h-1.2zM73.9 596.2h1.2v1.2h-1.2zM122.9 628.8h1.2v1.2h-1.2zM76.3 581.0h1.2v1.2h-1.2zM101.1 640.9h1.2v1.2h-1.2zM117.0 633.0h1.2v1.2h-1.2zM55.2 629.6h1.2v1.2h-1.2zM130.2 613.7h1.2v1.2h-1.2zM87.1 611.5h1.2v1.2h-1.2zM46.1 604.4h1.2v1.2h-1.2zM101.6 653.4h1.2v1.2h-1.2zM99.3 627.1h1.2v1.2h-1.2zM91.1 585.5h1.2v1.2h-1.2zM63.8 588.8h1.2v1.2h-1.2zM66.9 635.8h1.2v1.2h-1.2zM133.6 631.1h1.2v1.2h-1.2zM76.4 581.0h1.2v1.2h-1.2zM113.5 607.0h1.2v1.2h-1.2zM91.9 651.6h1.2v1.2h-1.2zM62.6 620.6h1.2v1.2h-1.2zM80.2 637.1h1.2v1.2h-1.2zM77.8 578.8h1.2v1.2h-1.2zM125.8 608.3h1.2v1.2h-1.2zM69.1 580.7h1.2v1.2h-1.2zM93.9 587.8h1.2v1.2h-1.2zM109.3 637.0h1.2v1.2h-1.2zM54.5 604.4h1.2v1.2h-1.2zM92.5 607.4h1.2v1.2h-1.2zM92.1 624.1h1.2v1.2h-1.2zM109.7 654.2h1.2v1.2h-1.2zM45.1 612.8h1.2v1.2h-1.2zM114.2 655.0h1.2v1.2h-1.2zM101.8 611.2h1.2v1.2h-1.2zM84.6 589.5h1.2v1.2h-1.2zM86.6 658.9h1.2v1.2h-1.2zM93.7 617.3h1.2v1.2h-1.2zM93.5 633.3h1.2v1.2h-1.2zM98.1 648.9h1.2v1.2h-1.2zM102.9 640.2h1.2v1.2h-1.2zM89.6 582.4h1.2v1.2h-1.2zM63.1 619.5h1.2v1.2h-1.2zM74.7 591.2h1.2v1.2h-1.2zM71.5 616.0h1.2v1.2h-1.2zM89.3 654.4h1.2v1.2h-1.2zM88.4 607.9h1.2v1.2h-1.2zM54.4 617.4h1.2v1.2h-1.2zM77.8 641.2h1.2v1.2h-1.2zM119.8 649.5h1.2v1.2h-1.2zM54.5 630.2h1.2v1.2h-1.2zM77.9 634.5h1.2v1.2h-1.2zM104.3 638.4h1.2v1.2h-1.2zM93.1 622.6h1.2v1.2h-1.2zM93.5 598.5h1.2v1.2h-1.2zM53.3 605.0h1.2v1.2h-1.2zM91.3 658.7h1.2v1.2h-1.2zM73.1 622.5h1.2v1.2h-1.2zM102.5 628.9h1.2v1.2h-1.2zM54.4 597.2h1.2v1.2h-1.2zM86.1 626.7h1.2v1.2h-1.2zM95.9 644.3h1.2v1.2h-1.2zM104.3 608.6h1.2v1.2h-1.2zM106.7 656.9h1.2v1.2h-1.2zM95.9 632.6h1.2v1.2h-1.2zM96.7 599.7h1.2v1.2h-1.2zM99.0 667.3h1.2v1.2h-1.2zM69.4 594.0h1.2v1.2h-1.2zM63.4 583.9h1.2v1.2h-1.2zM63.4 601.8h1.2v1.2h-1.2zM62.2 590.9h1.2v1.2h-1.2zM97.3 600.3h1.2v1.2h-1.2zM85.7 614.5h1.2v1.2h-1.2zM97.7 646.7h1.2v1.2h-1.2zM75.5 583.4h1.2v1.2h-1.2zM93.6 619.8h1.2v1.2h-1.2zM60.8 609.8h1.2v1.2h-1.2zM86.6 587.4h1.2v1.2h-1.2zM110.1 623.2h1.2v1.2h-1.2zM127.6 640.9h1.2v1.2h-1.2zM65.8 614.1h1.2v1.2h-1.2zM74.8 624.7h1.2v1.2h-1.2zM73.4 608.2h1.2v1.2h-1.2zM129.8 633.5h1.2v1.2h-1.2zM108.7 632.8h1.2v1.2h-1.2zM87.2 590.7h1.2v1.2h-1.2zM83.6 609.9h1.2v1.2h-1.2zM119.4 620.2h1.2v1.2h-1.2zM79.1 646.0h1.2v1.2h-1.2zM124.1 647.8h1.2v1.2h-1.2zM96.1 580.6h1.2v1.2h-1.2zM75.5 589.8h1.2v1.2h-1.2zM98.5 624.2h1.2v1.2h-1.2zM100.3 663.4h1.2v1.2h-1.2zM103.8 658.0h1.2v1.2h-1.2zM102.5 610.5h1.2v1.2h-1.2zM61.8 608.6h1.2v1.2h-1.2zM134.1 631.4h1.2v1.2h-1.2zM61.0 632.3h1.2v1.2h-1.2zM90.2 611.7h1.2v1.2h-1.2zM84.0 574.3h1.2v1.2h-1.2zM128.2 636.4h1.2v1.2h-1.2zM54.2 636.0h1.2v1.2h-1.2zM99.8 630.3h1.2v1.2h-1.2zM112.4 635.4h1.2v1.2h-1.2zM98.2 629.4h1.2v1.2h-1.2z" fill="#95d0f3"/>
<path d="M48.4 620.6h1.2v1.2h-1.2zM106.8 663.7h1.2v1.2h-1.2zM108.0 607.4h1.2v1.2h-1.2zM123.9 639.4h1.2v1.2h-1.2zM58.1 618.8h1.2v1.2h-1.2zM91.1 636.0h1.2v1.2h-1.2zM82.6 656.2h1.2v1.2h-1.2zM60.6 593.7h1.2v1.2h-1.2zM95.3 631.4h1.2v1.2h-1.2zM52.9 606.6h1.2v1.2h-1.2zM77.6 596.9h1.2v1.2h-1.2zM97.1 647.2h1.2v1.2h-1.2zM69.1 638.7h1.2v1.2h-1.2zM128.6 617.9h1.2v1.2h-1.2zM78.4 624.7h1.2v1.2h-1.2zM67.2 628.4h1.2v1.2h-1.2zM85.6 660.8h1.2v1.2h-1.2zM116.8 625.4h1.2v1.2h-1.2zM68.0 598.1h1.2v1.2h-1.2zM95.0 638.7h1.2v1.2h-1.2zM99.9 663.3h1.2v1.2h-1.2zM59.1 613.2h1.2v1.2h-1.2zM106.5 621.1h1.2v1.2h-1.2zM101.0 639.5h1.2v1.2h-1.2zM99.2 661.6h1.2v1.2h-1.2zM93.8 588.4h1.2v1.2h-1.2zM93.2 652.6h1.2v1.2h-1.2zM84.0 605.0h1.2v1.2h-1.2zM72.5 615.9h1.2v1.2h-1.2zM63.1 620.4h1.2v1.2h-1.2zM119.4 635.3h1.2v1.2h-1.2zM117.7 650.4h1.2v1.2h-1.2zM112.5 638.8h1.2v1.2h-1.2zM124.3 644.2h1.2v1.2h-1.2zM91.6 637.9h1.2v1.2h-1.2zM111.4 638.7h1.2v1.2h-1.2zM88.6 597.3h1.2v1.2h-1.2zM92.3 573.4h1.2v1.2h-1.2zM79.5 612.9h1.2v1.2h-1.2zM117.6 615.1h1.2v1.2h-1.2zM99.6 609.6h1.2v1.2h-1.2zM77.6 579.9h1.2v1.2h-1.2zM84.9 622.3h1.2v1.2h-1.2zM70.3 595.3h1.2v1.2h-1.2zM89.4 624.9h1.2v1.2h-1.2zM82.3 592.9h1.2v1.2h-1.2zM93.6 637.0h1.2v1.2h-1.2zM94.3 591.1h1.2v1.2h-1.2zM57.5 609.5h1.2v1.2h-1.2zM71.2 605.4h1.2v1.2h-1.2zM62.3 606.6h1.2v1.2h-1.2zM69.4 641.1h1.2v1.2h-1.2zM82.1 595.6h1.2v1.2h-1.2zM75.3 606.4h1.2v1.2h-1.2zM66.5 611.8h1.2v1.2h-1.2zM101.8 602.9h1.2v1.2h-1.2zM54.7 589.5h1.2v1.2h-1.2zM57.0 590.9h1.2v1.2h-1.2zM83.0 624.8h1.2v1.2h-1.2zM79.1 611.7h1.2v1.2h-1.2zM89.7 586.9h1.2v1.2h-1.2zM80.5 620.3h1.2v1.2h-1.2zM92.0 576.2h1.2v1.2h-1.2zM95.6 608.5h1.2v1.2h-1.2zM85.6 628.0h1.2v1.2h-1.2zM120.8 647.3h1.2v1.2h-1.2zM51.9 614.2h1.2v1.2h-1.2zM94.2 608.0h1.2v1.2h-1.2zM94.0 661.0h1.2v1.2h-1.2zM54.3 622.9h1.2v1.2h-1.2zM79.4 645.8h1.2v1.2h-1.2zM95.0 658.6h1.2v1.2h-1.2zM106.5 617.4h1.2v1.2h-1.2zM100.1 605.3h1.2v1.2h-1.2zM63.0 630.5h1.2v1.2h-1.2zM118.9 616.5h1.2v1.2h-1.2zM99.3 613.6h1.2v1.2h-1.2zM107.1 638.8h1.2v1.2h-1.2zM64.2 631.9h1.2v1.2h-1.2zM49.2 628.7h1.2v1.2h-1.2zM75.2 612.4h1.2v1.2h-1.2zM45.7 611.4h1.2v1.2h-1.2zM61.4 619.4h1.2v1.2h-1.2zM53.8 633.3h1.2v1.2h-1.2zM63.6 596.7h1.2v1.2h-1.2zM119.7 634.2h1.2v1.2h-1.2zM121.8 627.6h1.2v1.2h-1.2zM67.9 602.9h1.2v1.2h-1.2zM62.6 633.4h1.2v1.2h-1.2zM107.3 616.3h1.2v1.2h-1.2zM85.7 593.4h1.2v1.2h-1.2zM74.6 632.4h1.2v1.2h-1.2zM106.2 611.0h1.2v1.2h-1.2zM46.4 624.1h1.2v1.2h-1.2zM127.5 622.0h1.2v1.2h-1.2zM43.9 611.9h1.2v1.2h-1.2zM82.7 591.7h1.2v1.2h-1.2zM90.5 599.8h1.2v1.2h-1.2zM71.3 595.0h1.2v1.2h-1.2zM78.0 585.9h1.2v1.2h-1.2zM96.9 643.6h1.2v1.2h-1.2zM90.4 585.1h1.2v1.2h-1.2zM110.7 653.2h1.2v1.2h-1.2zM116.1 632.2h1.2v1.2h-1.2zM85.8 625.2h1.2v1.2h-1.2zM109.6 648.5h1.2v1.2h-1.2zM47.6 600.4h1.2v1.2h-1.2zM105.7 632.3h1.2v1.2h-1.2zM73.5 612.3h1.2v1.2h-1.2zM125.6 627.3h1.2v1.2h-1.2zM115.6 654.7h1.2v1.2h-1.2zM92.3 576.8h1.2v1.2h-1.2zM107.0 611.9h1.2v1.2h-1.2zM86.4 657.9h1.2v1.2h-1.2zM78.1 579.3h1.2v1.2h-1.2zM68.6 644.5h1.2v1.2h-1.2zM61.9 589.8h1.2v1.2h-1.2zM53.4 632.9h1.2v1.2h-1.2zM99.6 656.2h1.2v1.2h-1.2zM111.1 609.4h1.2v1.2h-1.2zM103.1 645.1h1.2v1.2h-1.2zM66.9 585.0h1.2v1.2h-1.2zM126.9 617.7h1.2v1.2h-1.2zM59.7 619.0h1.2v1.2h-1.2zM125.2 604.3h1.2v1.2h-1.2zM70.6 591.1h1.2v1.2h-1.2zM125.6 603.8h1.2v1.2h-1.2zM88.2 621.4h1.2v1.2h-1.2zM101.6 622.1h1.2v1.2h-1.2zM103.2 655.2h1.2v1.2h-1.2zM122.1 604.1h1.2v1.2h-1.2zM107.4 606.6h1.2v1.2h-1.2zM95.8 613.4h1.2v1.2h-1.2zM72.6 610.8h1.2v1.2h-1.2zM100.9 634.6h1.2v1.2h-1.2zM74.3 594.7h1.2v1.2h-1.2zM72.8 646.5h1.2v1.2h-1.2zM58.3 604.0h1.2v1.2h-1.2zM118.2 643.7h1.2v1.2h-1.2zM93.5 665.2h1.2v1.2h-1.2zM82.5 625.3h1.2v1.2h-1.2zM57.4 627.3h1.2v1.2h-1.2zM112.7 609.1h1.2v1.2h-1.2zM83.6 625.9h1.2v1.2h-1.2zM60.0 602.1h1.2v1.2h-1.2zM94.9 620.4h1.2v1.2h-1.2zM73.9 638.6h1.2v1.2h-1.2zM101.4 611.2h1.2v1.2h-1.2zM59.9 597.1h1.2v1.2h-1.2zM87.6 631.7h1.2v1.2h-1.2zM92.1 648.5h1.2v1.2h-1.2zM83.8 577.4h1.2v1.2h-1.2zM58.5 640.0h1.2v1.2h-1.2zM94.2 593.2h1.2v1.2h-1.2zM95.1 624.1h1.2v1.2h-1.2zM75.4 635.8h1.2v1.2h-1.2zM71.4 610.5h1.2v1.2h-1.2zM129.3 605.4h1.2v1.2h-1.2zM46.5 601.4h1.2v1.2h-1.2zM113.7 609.5h1.2v1.2h-1.2zM106.9 615.3h1.2v1.2h-1.2zM141.9 633.3h1.2v1.2h-1.2zM115.0 636.6h1.2v1.2h-1.2zM76.7 650.7h1.2v1.2h-1.2zM54.2 599.3h1.2v1.2h-1.2zM88.4 582.1h1.2v1.2h-1.2zM87.0 589.6h1.2v1.2h-1.2zM61.5 633.4h1.2v1.2h-1.2zM80.4 652.3h1.2v1.2h-1.2zM58.6 600.3h1.2v1.2h-1.2zM95.2 612.2h1.2v1.2h-1.2zM100.2 605.0h1.2v1.2h-1.2zM72.9 626.9h1.2v1.2h-1.2zM100.4 609.8h1.2v1.2h-1.2zM54.1 621.2h1.2v1.2h-1.2zM82.7 587.7h1.2v1.2h-1.2zM133.6 631.8h1.2v1.2h-1.2zM55.1 607.5h1.2v1.2h-1.2zM61.5 625.2h1.2v1.2h-1.2zM77.6 585.8h1.2v1.2h-1.2zM129.1 609.5h1.2v1.2h-1.2zM90.4 627.4h1.2v1.2h-1.2zM96.6 664.6h1.2v1.2h-1.2zM73.7 645.7h1.2v1.2h-1.2zM48.7 604.0h1.2v1.2h-1.2zM88.9 614.6h1.2v1.2h-1.2zM79.1 646.7h1.2v1.2h-1.2zM83.5 590.6h1.2v1.2h-1.2zM132.2 633.6h1.2v1.2h-1.2zM48.4 611.5h1.2v1.2h-1.2zM76.2 580.1h1.2v1.2h-1.2zM104.2 603.4h1.2v1.2h-1.2zM91.3 635.1h1.2v1.2h-1.2zM107.7 604.7h1.2v1.2h-1.2zM139.4 632.3h1.2v1.2h-1.2zM120.3 633.9h1.2v1.2h-1.2zM92.3 658.1h1.2v1.2h-1.2zM79.4 647.3h1.2v1.2h-1.2zM56.4 612.9h1.2v1.2h-1.2zM70.5 588.3h1.2v1.2h-1.2zM98.3 624.7h1.2v1.2h-1.2zM104.8 661.6h1.2v1.2h-1.2zM130.0 620.9h1.2v1.2h-1.2zM96.4 630.9h1.2v1.2h-1.2zM96.0 617.6h1.2v1.2h-1.2zM81.6 652.4h1.2v1.2h-1.2zM88.9 579.6h1.2v1.2h-1.2zM95.9 594.2h1.2v1.2h-1.2zM107.7 655.0h1.2v1.2h-1.2zM84.3 634.4h1.2v1.2h-1.2zM76.3 577.9h1.2v1.2h-1.2zM128.6 611.6h1.2v1.2h-1.2zM111.2 643.4h1.2v1.2h-1.2zM54.6 592.6h1.2v1.2h-1.2zM76.8 621.7h1.2v1.2h-1.2zM94.9 612.1h1.2v1.2h-1.2zM102.3 606.8h1.2v1.2h-1.2zM70.5 648.9h1.2v1.2h-1.2zM88.1 656.9h1.2v1.2h-1.2zM72.7 591.6h1.2v1.2h-1.2zM65.4 624.4h1.2v1.2h-1.2zM119.4 619.6h1.2v1.2h-1.2zM76.6 615.0h1.2v1.2h-1.2zM46.0 621.2h1.2v1.2h-1.2zM76.5 653.4h1.2v1.2h-1.2zM94.4 606.9h1.2v1.2h-1.2zM101.0 638.4h1.2v1.2h-1.2zM95.6 599.6h1.2v1.2h-1.2zM126.0 604.5h1.2v1.2h-1.2zM77.8 584.7h1.2v1.2h-1.2zM62.9 632.1h1.2v1.2h-1.2zM89.4 594.1h1.2v1.2h-1.2zM123.8 637.8h1.2v1.2h-1.2zM125.8 611.9h1.2v1.2h-1.2zM51.5 597.5h1.2v1.2h-1.2zM105.0 658.4h1.2v1.2h-1.2zM52.8 625.1h1.2v1.2h-1.2zM79.6 635.7h1.2v1.2h-1.2zM88.4 644.5h1.2v1.2h-1.2zM98.3 612.1h1.2v1.2h-1.2zM101.5 651.8h1.2v1.2h-1.2zM61.7 601.3h1.2v1.2h-1.2zM88.6 652.9h1.2v1.2h-1.2zM99.8 636.6h1.2v1.2h-1.2zM49.7 624.6h1.2v1.2h-1.2zM107.5 638.7h1.2v1.2h-1.2zM97.0 622.0h1.2v1.2h-1.2zM94.0 654.3h1.2v1.2h-1.2zM119.8 620.0h1.2v1.2h-1.2zM104.3 651.6h1.2v1.2h-1.2zM48.6 614.6h1.2v1.2h-1.2zM76.4 626.6h1.2v1.2h-1.2zM107.1 641.9h1.2v1.2h-1.2zM89.0 637.8h1.2v1.2h-1.2zM62.4 643.0h1.2v1.2h-1.2zM99.9 639.6h1.2v1.2h-1.2zM59.3 632.8h1.2v1.2h-1.2zM64.0 595.6h1.2v1.2h-1.2zM49.8 602.6h1.2v1.2h-1.2zM53.2 628.8h1.2v1.2h-1.2zM87.6 577.6h1.2v1.2h-1.2zM113.4 617.1h1.2v1.2h-1.2zM137.9 633.5h1.2v1.2h-1.2zM103.4 649.2h1.2v1.2h-1.2zM78.6 580.2h1.2v1.2h-1.2zM95.8 615.6h1.2v1.2h-1.2zM112.3 654.1h1.2v1.2h-1.2zM78.2 602.7h1.2v1.2h-1.2zM123.9 623.0h1.2v1.2h-1.2zM97.7 662.7h1.2v1.2h-1.2zM68.0 596.1h1.2v1.2h-1.2zM103.8 639.0h1.2v1.2h-1.2zM73.6 611.0h1.2v1.2h-1.2zM79.8 641.7h1.2v1.2h-1.2zM62.4 592.4h1.2v1.2h-1.2zM87.4 582.3h1.2v1.2h-1.2zM79.5 616.9h1.2v1.2h-1.2zM88.9 602.1h1.2v1.2h-1.2zM45.0 617.0h1.2v1.2h-1.2zM130.4 607.0h1.2v1.2h-1.2zM83.7 637.4h1.2v1.2h-1.2zM77.7 636.4h1.2v1.2h-1.2zM56.6 594.5h1.2v1.2h-1.2zM84.4 657.9h1.2v1.2h-1.2zM109.5 621.2h1.2v1.2h-1.2zM96.2 637.2h1.2v1.2h-1.2zM112.0 640.4h1.2v1.2h-1.2zM55.6 592.8h1.2v1.2h-1.2zM79.0 639.9h1.2v1.2h-1.2zM73.3 596.0h1.2v1.2h-1.2zM69.7 640.5h1.2v1.2h-1.2zM106.5 639.1h1.2v1.2h-1.2zM113.5 608.7h1.2v1.2h-1.2zM56.7 589.8h1.2v1.2h-1.2zM108.1 638.6h1.2v1.2h-1.2zM74.8 641.5h1.2v1.2h-1.2zM54.8 620.6h1.2v1.2h-1.2zM92.1 595.7h1.2v1.2h-1.2zM89.2 633.3h1.2v1.2h-1.2zM47.8 599.2h1.2v1.2h-1.2zM69.1 643.4h1.2v1.2h-1.2zM68.7 616.9h1.2v1.2h-1.2zM104.7 659.0h1.2v1.2h-1.2zM84.6 633.2h1.2v1.2h-1.2zM126.6 604.8h1.2v1.2h-1.2zM64.4 604.3h1.2v1.2h-1.2zM95.6 618.3h1.2v1.2h-1.2zM86.5 580.0h1.2v1.2h-1.2zM86.9 608.2h1.2v1.2h-1.2zM93.8 636.4h1.2v1.2h-1.2zM85.9 629.9h1.2v1.2h-1.2zM116.0 644.2h1.2v1.2h-1.2zM116.4 644.3h1.2v1.2h-1.2zM76.9 646.0h1.2v1.2h-1.2zM74.9 620.3h1.2v1.2h-1.2zM83.8 605.6h1.2v1.2h-1.2zM78.8 632.6h1.2v1.2h-1.2zM103.0 637.2h1.2v1.2h-1.2zM137.8 633.5h1.2v1.2h-1.2zM97.7 598.0h1.2v1.2h-1.2zM48.4 596.8h1.2v1.2h-1.2zM82.0 580.1h1.2v1.2h-1.2zM68.5 593.8h1.2v1.2h-1.2zM87.6 648.4h1.2v1.2h-1.2zM57.1 588.1h1.2v1.2h-1.2zM100.9 642.2h1.2v1.2h-1.2zM92.6 597.9h1.2v1.2h-1.2zM117.4 634.4h1.2v1.2h-1.2zM89.3 655.5h1.2v1.2h-1.2zM90.1 616.9h1.2v1.2h-1.2zM135.4 630.9h1.2v1.2h-1.2zM90.0 651.5h1.2v1.2h-1.2zM70.0 607.0h1.2v1.2h-1.2zM98.6 601.7h1.2v1.2h-1.2zM130.9 636.5h1.2v1.2h-1.2zM47.5 612.7h1.2v1.2h-1.2zM70.2 585.5h1.2v1.2h-1.2zM102.8 649.3h1.2v1.2h-1.2zM85.8 594.2h1.2v1.2h-1.2zM88.9 620.2h1.2v1.2h-1.2zM95.0 662.6h1.2v1.2h-1.2zM129.4 634.4h1.2v1.2h-1.2zM118.6 641.1h1.2v1.2h-1.2zM76.8 597.0h1.2v1.2h-1.2zM52.7 620.1h1.2v1.2h-1.2zM92.1 583.4h1.2v1.2h-1.2zM78.2 639.0h1.2v1.2h-1.2zM131.2 628.5h1.2v1.2h-1.2zM70.9 620.2h1.2v1.2h-1.2zM122.6 621.6h1.2v1.2h-1.2zM92.0 642.5h1.2v1.2h-1.2zM109.6 637.1h1.2v1.2h-1.2zM92.5 607.1h1.2v1.2h-1.2zM86.3 589.8h1.2v1.2h-1.2zM80.6 645.5h1.2v1.2h-1.2zM104.2 620.9h1.2v1.2h-1.2zM70.1 646.9h1.2v1.2h-1.2zM69.1 644.6h1.2v1.2h-1.2zM114.5 621.5h1.2v1.2h-1.2zM105.5 626.1h1.2v1.2h-1.2zM77.2 611.8h1.2v1.2h-1.2zM89.4 652.4h1.2v1.2h-1.2zM60.2 634.1h1.2v1.2h-1.2zM112.1 624.4h1.2v1.2h-1.2zM79.8 614.9h1.2v1.2h-1.2zM45.2 603.9h1.2v1.2h-1.2zM123.1 615.6h1.2v1.2h-1.2zM94.8 620.0h1.2v1.2h-1.2zM94.4 648.0h1.2v1.2h-1.2zM107.7 618.2h1.2v1.2h-1.2zM112.0 650.7h1.2v1.2h-1.2zM82.3 585.6h1.2v1.2h-1.2zM94.1 652.8h1.2v1.2h-1.2zM98.9 642.7h1.2v1.2h-1.2zM76.3 581.6h1.2v1.2h-1.2zM87.3 646.2h1.2v1.2h-1.2zM89.8 627.2h1.2v1.2h-1.2zM55.9 600.4h1.2v1.2h-1.2zM44.7 614.2h1.2v1.2h-1.2zM80.3 588.6h1.2v1.2h-1.2zM87.1 593.3h1.2v1.2h-1.2zM46.8 614.9h1.2v1.2h-1.2zM66.9 625.9h1.2v1.2h-1.2zM73.4 641.0h1.2v1.2h-1.2zM126.7 611.8h1.2v1.2h-1.2zM93.4 589.3h1.2v1.2h-1.2zM54.3 620.8h1.2v1.2h-1.2zM60.5 596.3h1.2v1.2h-1.2zM86.0 607.6h1.2v1.2h-1.2zM118.6 640.9h1.2v1.2h-1.2zM60.0 586.2h1.2v1.2h-1.2zM87.1 608.2h1.2v1.2h-1.2zM98.9 650.5h1.2v1.2h-1.2zM101.2 647.2h1.2v1.2h-1.2zM108.7 635.8h1.2v1.2h-1.2zM93.0 603.7h1.2v1.2h-1.2zM84.9 654.1h1.2v1.2h-1.2zM108.7 620.4h1.2v1.2h-1.2zM81.8 596.6h1.2v1.2h-1.2zM54.4 629.6h1.2v1.2h-1.2zM120.5 631.3h1.2v1.2h-1.2zM107.5 623.2h1.2v1.2h-1.2zM96.7 630.2h1.2v1.2h-1.2zM60.4 625.6h1.2v1.2h-1.2zM56.2 600.7h1.2v1.2h-1.2zM107.5 652.4h1.2v1.2h-1.2zM114.0 636.8h1.2v1.2h-1.2zM51.1 595.1h1.2v1.2h-1.2zM115.7 647.7h1.2v1.2h-1.2zM75.8 598.6h1.2v1.2h-1.2zM69.0 581.1h1.2v1.2h-1.2zM133.9 607.8h1.2v1.2h-1.2zM136.9 633.6h1.2v1.2h-1.2zM81.0 611.6h1.2v1.2h-1.2zM49.6 621.7h1.2v1.2h-1.2zM86.1 595.5h1.2v1.2h-1.2zM97.6 623.1h1.2v1.2h-1.2zM88.2 593.8h1.2v1.2h-1.2zM125.2 629.3h1.2v1.2h-1.2zM43.8 614.5h1.2v1.2h-1.2zM101.2 650.7h1.2v1.2h-1.2zM69.0 636.1h1.2v1.2h-1.2zM74.4 604.5h1.2v1.2h-1.2zM119.4 639.0h1.2v1.2h-1.2zM60.9 595.5h1.2v1.2h-1.2zM123.6 625.9h1.2v1.2h-1.2zM93.6 636.1h1.2v1.2h-1.2zM55.5 592.3h1.2v1.2h-1.2zM122.8 641.7h1.2v1.2h-1.2zM90.8 650.4h1.2v1.2h-1.2zM114.7 642.2h1.2v1.2h-1.2zM42.8 612.0h1.2v1.2h-1.2zM69.8 594.4h1.2v1.2h-1.2zM74.6 583.1h1.2v1.2h-1.2zM73.4 642.3h1.2v1.2h-1.2zM116.7 643.9h1.2v1.2h-1.2zM109.7 628.6h1.2v1.2h-1.2zM79.6 609.3h1.2v1.2h-1.2zM71.8 616.5h1.2v1.2h-1.2zM54.2 629.1h1.2v1.2h-1.2zM66.0 604.5h1.2v1.2h-1.2zM84.6 632.0h1.2v1.2h-1.2zM70.8 647.5h1.2v1.2h-1.2zM56.0 591.9h1.2v1.2h-1.2zM86.1 661.1h1.2v1.2h-1.2zM89.7 622.5h1.2v1.2h-1.2zM49.6 596.4h1.2v1.2h-1.2zM123.5 648.1h1.2v1.2h-1.2zM86.5 594.7h1.2v1.2h-1.2zM78.4 589.3h1.2v1.2h-1.2zM94.8 588.6h1.2v1.2h-1.2zM57.2 629.9h1.2v1.2h-1.2zM82.0 624.9h1.2v1.2h-1.2zM54.5 596.0h1.2v1.2h-1.2zM120.6 638.8h1.2v1.2h-1.2zM95.1 643.9h1.2v1.2h-1.2zM99.3 623.8h1.2v1.2h-1.2zM97.0 646.3h1.2v1.2h-1.2zM73.7 642.6h1.2v1.2h-1.2zM96.7 664.9h1.2v1.2h-1.2zM50.3 626.7h1.2v1.2h-1.2zM74.1 629.9h1.2v1.2h-1.2zM111.6 625.9h1.2v1.2h-1.2zM46.6 616.6h1.2v1.2h-1.2zM76.2 600.9h1.2v1.2h-1.2zM100.0 606.3h1.2v1.2h-1.2zM66.8 640.3h1.2v1.2h-1.2zM95.6 667.0h1.2v1.2h-1.2zM45.0 623.5h1.2v1.2h-1.2zM86.7 594.2h1.2v1.2h-1.2zM52.9 632.3h1.2v1.2h-1.2zM120.2 617.2h1.2v1.2h-1.2zM98.9 658.7h1.2v1.2h-1.2zM109.3 655.8h1.2v1.2h-1.2zM137.8 636.5h1.2v1.2h-1.2zM106.0 624.0h1.2v1.2h-1.2zM122.4 609.2h1.2v1.2h-1.2zM77.4 605.1h1.2v1.2h-1.2zM75.8 604.4h1.2v1.2h-1.2zM84.9 643.8h1.2v1.2h-1.2zM117.5 631.2h1.2v1.2h-1.2zM83.0 597.3h1.2v1.2h-1.2zM73.5 623.8h1.2v1.2h-1.2zM65.3 635.4h1.2v1.2h-1.2zM79.4 602.7h1.2v1.2h-1.2zM105.9 636.9h1.2v1.2h-1.2zM69.2 627.2h1.2v1.2h-1.2zM96.3 654.5h1.2v1.2h-1.2zM51.5 592.4h1.2v1.2h-1.2zM96.8 604.3h1.2v1.2h-1.2zM100.8 614.0h1.2v1.2h-1.2zM111.1 619.5h1.2v1.2h-1.2zM60.1 614.4h1.2v1.2h-1.2zM71.3 605.4h1.2v1.2h-1.2zM83.4 608.7h1.2v1.2h-1.2zM97.3 627.9h1.2v1.2h-1.2zM50.2 611.5h1.2v1.2h-1.2zM93.4 575.9h1.2v1.2h-1.2zM116.7 620.8h1.2v1.2h-1.2zM102.2 616.0h1.2v1.2h-1.2zM68.8 643.7h1.2v1.2h-1.2zM61.6 598.3h1.2v1.2h-1.2zM52.5 627.7h1.2v1.2h-1.2zM54.6 592.1h1.2v1.2h-1.2zM121.5 621.6h1.2v1.2h-1.2zM100.5 654.7h1.2v1.2h-1.2zM74.7 629.6h1.2v1.2h-1.2zM78.9 595.8h1.2v1.2h-1.2zM123.1 637.6h1.2v1.2h-1.2zM90.6 621.6h1.2v1.2h-1.2zM114.3 629.4h1.2v1.2h-1.2zM59.4 640.1h1.2v1.2h-1.2zM49.0 625.5h1.2v1.2h-1.2zM109.8 634.2h1.2v1.2h-1.2zM115.3 616.0h1.2v1.2h-1.2zM73.8 579.4h1.2v1.2h-1.2zM100.7 621.0h1.2v1.2h-1.2zM135.6 634.9h1.2v1.2h-1.2zM68.6 611.2h1.2v1.2h-1.2zM79.2 638.1h1.2v1.2h-1.2zM95.2 581.2h1.2v1.2h-1.2zM140.0 634.2h1.2v1.2h-1.2zM79.8 617.2h1.2v1.2h-1.2zM60.8 604.1h1.2v1.2h-1.2zM107.1 614.0h1.2v1.2h-1.2zM124.4 613.3h1.2v1.2h-1.2zM83.7 621.9h1.2v1.2h-1.2zM97.2 598.5h1.2v1.2h-1.2zM86.5 579.4h1.2v1.2h-1.2zM57.3 637.7h1.2v1.2h-1.2zM51.9 606.7h1.2v1.2h-1.2zM112.9 620.8h1.2v1.2h-1.2zM101.4 656.7h1.2v1.2h-1.2zM50.7 618.6h1.2v1.2h-1.2zM66.3 633.0h1.2v1.2h-1.2zM94.3 575.2h1.2v1.2h-1.2zM104.3 625.0h1.2v1.2h-1.2zM50.2 627.8h1.2v1.2h-1.2zM112.5 609.9h1.2v1.2h-1.2zM124.7 615.5h1.2v1.2h-1.2zM65.6 584.1h1.2v1.2h-1.2zM94.5 623.8h1.2v1.2h-1.2zM52.0 623.7h1.2v1.2h-1.2zM82.7 612.0h1.2v1.2h-1.2zM72.0 624.4h1.2v1.2h-1.2zM66.4 629.4h1.2v1.2h-1.2zM135.7 630.4h1.2v1.2h-1.2zM71.5 616.7h1.2v1.2h-1.2zM81.0 617.4h1.2v1.2h-1.2zM51.2 617.1h1.2v1.2h-1.2zM59.9 602.4h1.2v1.2h-1.2zM129.3 620.7h1.2v1.2h-1.2zM107.3 624.3h1.2v1.2h-1.2zM63.6 593.7h1.2v1.2h-1.2zM135.8 631.9h1.2v1.2h-1.2zM117.8 636.6h1.2v1.2h-1.2zM113.1 620.9h1.2v1.2h-1.2zM80.6 615.0h1.2v1.2h-1.2zM75.8 643.4h1.2v1.2h-1.2zM74.8 624.0h1.2v1.2h-1.2zM132.9 638.4h1.2v1.2h-1.2zM48.9 617.8h1.2v1.2h-1.2zM70.7 589.0h1.2v1.2h-1.2zM52.2 634.2h1.2v1.2h-1.2zM113.3 631.8h1.2v1.2h-1.2zM71.0 621.5h1.2v1.2h-1.2zM94.7 638.3h1.2v1.2h-1.2zM92.8 599.8h1.2v1.2h-1.2zM90.0 642.2h1.2v1.2h-1.2zM84.6 595.2h1.2v1.2h-1.2zM125.8 644.3h1.2v1.2h-1.2zM123.4 624.2h1.2v1.2h-1.2zM129.7 639.8h1.2v1.2h-1.2zM108.1 638.9h1.2v1.2h-1.2zM92.7 574.2h1.2v1.2h-1.2zM89.3 653.7h1.2v1.2h-1.2zM141.0 630.6h1.2v1.2h-1.2zM110.5 644.9h1.2v1.2h-1.2zM92.4 646.1h1.2v1.2h-1.2zM63.9 585.2h1.2v1.2h-1.2zM73.2 622.4h1.2v1.2h-1.2zM97.8 606.0h1.2v1.2h-1.2zM94.4 644.7h1.2v1.2h-1.2zM60.4 605.4h1.2v1.2h-1.2zM104.7 638.2h1.2v1.2h-1.2zM71.2 588.0h1.2v1.2h-1.2zM74.5 652.0h1.2v1.2h-1.2zM92.3 645.5h1.2v1.2h-1.2zM56.4 613.5h1.2v1.2h-1.2zM102.2 618.6h1.2v1.2h-1.2zM92.9 615.3h1.2v1.2h-1.2zM92.0 592.3h1.2v1.2h-1.2zM119.8 617.2h1.2v1.2h-1.2zM121.8 622.8h1.2v1.2h-1.2zM128.5 636.5h1.2v1.2h-1.2zM118.9 629.3h1.2v1.2h-1.2zM132.3 631.5h1.2v1.2h-1.2zM73.0 640.6h1.2v1.2h-1.2zM96.5 599.8h1.2v1.2h-1.2zM96.1 593.3h1.2v1.2h-1.2zM96.2 647.5h1.2v1.2h-1.2zM117.9 608.3h1.2v1.2h-1.2zM82.7 634.8h1.2v1.2h-1.2zM102.7 615.9h1.2v1.2h-1.2zM113.0 621.6h1.2v1.2h-1.2zM89.1 619.7h1.2v1.2h-1.2zM72.6 627.5h1.2v1.2h-1.2zM54.0 601.3h1.2v1.2h-1.2zM56.1 630.7h1.2v1.2h-1.2zM86.3 614.3h1.2v1.2h-1.2zM114.7 651.9h1.2v1.2h-1.2zM92.5 579.9h1.2v1.2h-1.2zM118.0 642.9h1.2v1.2h-1.2zM86.9 630.1h1.2v1.2h-1.2zM85.7 582.5h1.2v1.2h-1.2zM103.7 626.1h1.2v1.2h-1.2zM133.8 608.7h1.2v1.2h-1.2zM84.7 653.9h1.2v1.2h-1.2zM129.8 633.8h1.2v1.2h-1.2zM75.8 596.7h1.2v1.2h-1.2zM102.0 638.0h1.2v1.2h-1.2zM101.3 652.2h1.2v1.2h-1.2zM108.1 605.6h1.2v1.2h-1.2zM119.7 633.3h1.2v1.2h-1.2zM73.4 610.7h1.2v1.2h-1.2zM61.8 617.7h1.2v1.2h-1.2zM65.2 593.6h1.2v1.2h-1.2zM89.7 664.0h1.2v1.2h-1.2zM116.4 643.8h1.2v1.2h-1.2zM90.7 648.4h1.2v1.2h-1.2zM68.4 620.4h1.2v1.2h-1.2zM118.4 643.4h1.2v1.2h-1.2zM56.5 588.1h1.2v1.2h-1.2zM58.0 610.2h1.2v1.2h-1.2zM129.5 608.1h1.2v1.2h-1.2zM123.3 629.2h1.2v1.2h-1.2zM49.4 624.2h1.2v1.2h-1.2zM113.0 634.3h1.2v1.2h-1.2zM94.1 662.9h1.2v1.2h-1.2zM82.2 651.5h1.2v1.2h-1.2zM80.7 639.8h1.2v1.2h-1.2zM107.2 633.9h1.2v1.2h-1.2zM128.2 631.5h1.2v1.2h-1.2zM88.8 576.1h1.2v1.2h-1.2zM56.3 636.8h1.2v1.2h-1.2zM122.7 638.9h1.2v1.2h-1.2zM96.7 653.2h1.2v1.2h-1.2zM114.3 626.1h1.2v1.2h-1.2zM125.0 611.7h1.2v1.2h-1.2zM124.3 624.4h1.2v1.2h-1.2zM133.8 636.6h1.2v1.2h-1.2zM125.9 610.6h1.2v1.2h-1.2zM66.8 613.0h1.2v1.2h-1.2zM79.9 588.9h1.2v1.2h-1.2zM119.8 609.1h1.2v1.2h-1.2zM90.3 648.0h1.2v1.2h-1.2zM70.1 641.8h1.2v1.2h-1.2zM65.8 644.2h1.2v1.2h-1.2zM57.8 627.8h1.2v1.2h-1.2zM65.4 598.5h1.2v1.2h-1.2zM88.1 657.8h1.2v1.2h-1.2zM82.6 633.5h1.2v1.2h-1.2zM82.6 604.7h1.2v1.2h-1.2zM127.0 626.4h1.2v1.2h-1.2zM128.6 639.1h1.2v1.2h-1.2zM90.3 649.6h1.2v1.2h-1.2zM128.1 616.8h1.2v1.2h-1.2zM72.8 581.1h1.2v1.2h-1.2zM104.4 612.6h1.2v1.2h-1.2zM111.5 652.6h1.2v1.2h-1.2zM104.1 622.3h1.2v1.2h-1.2zM55.2 628.8h1.2v1.2h-1.2zM115.9 624.5h1.2v1.2h-1.2zM95.0 615.5h1.2v1.2h-1.2zM70.6 611.0h1.2v1.2h-1.2zM83.7 577.4h1.2v1.2h-1.2zM86.7 593.4h1.2v1.2h-1.2zM97.8 634.4h1.2v1.2h-1.2zM101.2 639.2h1.2v1.2h-1.2zM94.6 665.6h1.2v1.2h-1.2zM119.3 621.2h1.2v1.2h-1.2zM53.1 626.3h1.2v1.2h-1.2zM107.5 610.4h1.2v1.2h-1.2zM137.0 636.4h1.2v1.2h-1.2zM87.0 661.6h1.2v1.2h-1.2zM84.3 640.4h1.2v1.2h-1.2zM56.9 611.3h1.2v1.2h-1.2zM120.5 613.7h1.2v1.2h-1.2zM86.9 585.9h1.2v1.2h-1.2zM85.7 613.7h1.2v1.2h-1.2zM44.6 623.2h1.2v1.2h-1.2zM115.2 625.7h1.2v1.2h-1.2zM104.5 624.0h1.2v1.2h-1.2zM104.8 646.5h1.2v1.2h-1.2zM91.8 640.8h1.2v1.2h-1.2zM103.4 637.2h1.2v1.2h-1.2zM113.4 626.5h1.2v1.2h-1.2zM54.6 629.2h1.2v1.2h-1.2zM121.5 627.1h1.2v1.2h-1.2zM69.5 589.8h1.2v1.2h-1.2zM80.2 624.2h1.2v1.2h-1.2zM95.7 629.6h1.2v1.2h-1.2zM111.7 608.6h1.2v1.2h-1.2zM98.8 610.2h1.2v1.2h-1.2zM85.1 627.0h1.2v1.2h-1.2zM47.7 611.2h1.2v1.2h-1.2zM102.7 610.1h1.2v1.2h-1.2zM105.0 643.0h1.2v1.2h-1.2zM96.7 628.3h1.2v1.2h-1.2zM99.3 600.8h1.2v1.2h-1.2zM110.0 640.4h1.2v1.2h-1.2zM102.9 630.2h1.2v1.2h-1.2zM108.7 645.8h1.2v1.2h-1.2zM133.4 609.1h1.2v1.2h-1.2zM45.7 626.9h1.2v1.2h-1.2zM57.3 632.5h1.2v1.2h-1.2zM71.6 606.2h1.2v1.2h-1.2zM95.8 583.5h1.2v1.2h-1.2zM62.5 618.7h1.2v1.2h-1.2zM101.0 622.6h1.2v1.2h-1.2zM127.3 638.6h1.2v1.2h-1.2zM125.5 633.7h1.2v1.2h-1.2zM103.0 626.4h1.2v1.2h-1.2zM81.8 598.2h1.2v1.2h-1.2zM110.2 629.3h1.2v1.2h-1.2zM135.4 632.1h1.2v1.2h-1.2zM124.7 629.4h1.2v1.2h-1.2zM82.0 610.4h1.2v1.2h-1.2zM53.4 617.6h1.2v1.2h-1.2zM81.7 578.7h1.2v1.2h-1.2zM80.0 641.6h1.2v1.2h-1.2zM114.5 622.4h1.2v1.2h-1.2zM77.6 594.8h1.2v1.2h-1.2zM60.5 640.0h1.2v1.2h-1.2zM70.5 589.5h1.2v1.2h-1.2zM45.7 607.9h1.2v1.2h-1.2zM107.7 648.0h1.2v1.2h-1.2zM82.0 636.1h1.2v1.2h-1.2zM71.8 621.4h1.2v1.2h-1.2zM61.8 614.5h1.2v1.2h-1.2zM116.2 619.5h1.2v1.2h-1.2zM94.4 644.3h1.2v1.2h-1.2zM69.9 586.9h1.2v1.2h-1.2zM49.0 608.0h1.2v1.2h-1.2zM72.4 649.3h1.2v1.2h-1.2zM96.5 664.0h1.2v1.2h-1.2zM95.1 621.4h1.2v1.2h-1.2zM90.0 650.5h1.2v1.2h-1.2zM120.8 611.6h1.2v1.2h-1.2zM86.6 587.9h1.2v1.2h-1.2zM94.3 579.2h1.2v1.2h-1.2zM88.6 628.0h1.2v1.2h-1.2zM48.1 615.0h1.2v1.2h-1.2zM121.8 603.4h1.2v1.2h-1.2zM109.5 633.0h1.2v1.2h-1.2zM116.0 653.8h1.2v1.2h-1.2zM62.3 611.6h1.2v1.2h-1.2zM115.9 629.8h1.2v1.2h-1.2zM109.9 661.0h1.2v1.2h-1.2zM62.2 621.7h1.2v1.2h-1.2zM81.5 590.6h1.2v1.2h-1.2zM117.9 633.9h1.2v1.2h-1.2zM103.7 633.3h1.2v1.2h-1.2zM68.7 641.7h1.2v1.2h-1.2zM111.6 641.1h1.2v1.2h-1.2zM110.5 610.2h1.2v1.2h-1.2zM128.4 629.2h1.2v1.2h-1.2zM65.1 591.0h1.2v1.2h-1.2zM65.4 622.3h1.2v1.2h-1.2zM97.6 650.3h1.2v1.2h-1.2zM98.9 621.3h1.2v1.2h-1.2zM91.8 612.5h1.2v1.2h-1.2zM121.7 605.1h1.2v1.2h-1.2zM83.5 639.5h1.2v1.2h-1.2zM92.8 576.6h1.2v1.2h-1.2zM65.7 583.9h1.2v1.2h-1.2zM113.0 633.5h1.2v1.2h-1.2zM70.4 593.9h1.2v1.2h-1.2zM123.7 609.6h1.2v1.2h-1.2zM59.6 587.8h1.2v1.2h-1.2zM94.6 576.3h1.2v1.2h-1.2zM76.5 583.9h1.2v1.2h-1.2zM75.4 611.6h1.2v1.2h-1.2zM81.5 615.1h1.2v1.2h-1.2zM63.3 594.3h1.2v1.2h-1.2zM67.1 597.0h1.2v1.2h-1.2zM73.9 610.3h1.2v1.2h-1.2zM94.8 638.8h1.2v1.2h-1.2zM90.9 653.9h1.2v1.2h-1.2zM79.6 593.7h1.2v1.2h-1.2zM87.9 638.4h1.2v1.2h-1.2zM99.0 654.3h1.2v1.2h-1.2zM102.5 631.1h1.2v1.2h-1.2zM115.6 624.7h1.2v1.2h-1.2zM61.9 608.8h1.2v1.2h-1.2zM107.1 629.8h1.2v1.2h-1.2zM72.0 637.7h1.2v1.2h-1.2zM78.6 651.5h1.2v1.2h-1.2zM52.5 614.2h1.2v1.2h-1.2zM78.9 578.0h1.2v1.2h-1.2zM59.6 590.3h1.2v1.2h-1.2zM63.2 587.3h1.2v1.2h-1.2zM104.5 657.3h1.2v1.2h-1.2zM81.7 596.9h1.2v1.2h-1.2zM102.7 610.5h1.2v1.2h-1.2zM89.2 592.7h1.2v1.2h-1.2zM75.7 605.0h1.2v1.2h-1.2zM134.1 638.5h1.2v1.2h-1.2zM59.6 619.5h1.2v1.2h-1.2zM101.3 628.2h1.2v1.2h-1.2zM107.6 624.1h1.2v1.2h-1.2zM82.5 645.4h1.2v1.2h-1.2zM55.3 606.6h1.2v1.2h-1.2zM83.4 653.1h1.2v1.2h-1.2zM64.2 625.6h1.2v1.2h-1.2zM61.6 608.5h1.2v1.2h-1.2zM105.6 605.4h1.2v1.2h-1.2zM83.2 622.7h1.2v1.2h-1.2zM114.5 616.7h1.2v1.2h-1.2zM115.3 646.2h1.2v1.2h-1.2zM104.1 659.9h1.2v1.2h-1.2zM74.3 581.5h1.2v1.2h-1.2zM74.9 636.8h1.2v1.2h-1.2zM98.0 622.3h1.2v1.2h-1.2zM75.9 650.2h1.2v1.2h-1.2zM99.8 633.4h1.2v1.2h-1.2zM65.4 596.3h1.2v1.2h-1.2zM88.2 573.8h1.2v1.2h-1.2zM54.2 628.5h1.2v1.2h-1.2zM49.3 631.0h1.2v1.2h-1.2zM89.0 640.1h1.2v1.2h-1.2zM78.4 635.1h1.2v1.2h-1.2zM62.5 634.5h1.2v1.2h-1.2zM137.5 635.3h1.2v1.2h-1.2zM79.9 593.1h1.2v1.2h-1.2zM87.6 613.6h1.2v1.2h-1.2zM53.1 600.2h1.2v1.2h-1.2zM80.9 609.5h1.2v1.2h-1.2zM77.3 595.5h1.2v1.2h-1.2zM71.8 585.2h1.2v1.2h-1.2zM116.9 621.0h1.2v1.2h-1.2zM65.3 619.9h1.2v1.2h-1.2zM117.0 621.8h1.2v1.2h-1.2zM102.1 656.0h1.2v1.2h-1.2zM48.8 612.7h1.2v1.2h-1.2zM83.4 621.3h1.2v1.2h-1.2zM89.9 662.7h1.2v1.2h-1.2zM103.7 661.5h1.2v1.2h-1.2zM52.9 592.4h1.2v1.2h-1.2zM69.2 643.0h1.2v1.2h-1.2zM66.5 644.3h1.2v1.2h-1.2zM115.6 629.0h1.2v1.2h-1.2zM86.1 590.3h1.2v1.2h-1.2zM64.4 640.5h1.2v1.2h-1.2zM97.6 612.4h1.2v1.2h-1.2zM81.3 597.9h1.2v1.2h-1.2zM59.1 597.2h1.2v1.2h-1.2zM55.3 632.2h1.2v1.2h-1.2zM124.5 628.3h1.2v1.2h-1.2zM94.0 589.5h1.2v1.2h-1.2zM69.8 615.1h1.2v1.2h-1.2zM67.0 608.5h1.2v1.2h-1.2zM121.2 628.8h1.2v1.2h-1.2zM101.6 627.6h1.2v1.2h-1.2zM93.7 660.4h1.2v1.2h-1.2zM73.3 600.8h1.2v1.2h-1.2zM108.5 612.8h1.2v1.2h-1.2zM112.4 616.5h1.2v1.2h-1.2zM65.7 636.4h1.2v1.2h-1.2zM92.3 616.5h1.2v1.2h-1.2zM53.6 634.4h1.2v1.2h-1.2zM94.1 574.7h1.2v1.2h-1.2zM99.1 629.4h1.2v1.2h-1.2zM101.4 651.9h1.2v1.2h-1.2zM129.6 615.6h1.2v1.2h-1.2z" fill="#d3edfb"/>
<path d="M46.3 613.4h1.2v1.2h-1.2zM101.7 609.8h1.2v1.2h-1.2zM112.2 612.8h1.2v1.2h-1.2zM67.5 627.2h1.2v1.2h-1.2zM120.9 627.0h1.2v1.2h-1.2zM82.0 636.4h1.2v1.2h-1.2zM50.8 614.9h1.2v1.2h-1.2zM66.4 618.4h1.2v1.2h-1.2zM82.7 610.0h1.2v1.2h-1.2zM68.4 605.0h1.2v1.2h-1.2zM96.6 666.7h1.2v1.2h-1.2zM76.3 592.8h1.2v1.2h-1.2zM65.1 593.2h1.2v1.2h-1.2zM109.4 649.2h1.2v1.2h-1.2zM96.5 662.3h1.2v1.2h-1.2zM69.1 612.0h1.2v1.2h-1.2zM93.9 623.0h1.2v1.2h-1.2zM75.9 621.7h1.2v1.2h-1.2zM121.7 620.7h1.2v1.2h-1.2zM88.9 623.2h1.2v1.2h-1.2zM55.0 614.2h1.2v1.2h-1.2zM95.3 604.2h1.2v1.2h-1.2zM53.2 597.0h1.2v1.2h-1.2zM113.0 612.6h1.2v1.2h-1.2zM70.0 583.6h1.2v1.2h-1.2zM117.6 624.9h1.2v1.2h-1.2zM82.8 620.6h1.2v1.2h-1.2zM68.7 587.0h1.2v1.2h-1.2zM58.6 614.6h1.2v1.2h-1.2zM51.7 610.1h1.2v1.2h-1.2zM82.4 602.9h1.2v1.2h-1.2zM56.8 622.2h1.2v1.2h-1.2zM56.1 606.3h1.2v1.2h-1.2zM94.1 623.3h1.2v1.2h-1.2zM121.1 631.3h1.2v1.2h-1.2zM95.4 616.4h1.2v1.2h-1.2zM64.1 627.9h1.2v1.2h-1.2zM88.7 600.5h1.2v1.2h-1.2zM68.1 597.0h1.2v1.2h-1.2zM119.6 634.0h1.2v1.2h-1.2zM59.7 586.8h1.2v1.2h-1.2zM67.0 596.3h1.2v1.2h-1.2zM81.1 604.1h1.2v1.2h-1.2zM83.5 614.6h1.2v1.2h-1.2zM55.6 595.6h1.2v1.2h-1.2zM73.4 616.1h1.2v1.2h-1.2zM85.6 596.2h1.2v1.2h-1.2zM65.2 645.4h1.2v1.2h-1.2zM48.7 609.5h1.2v1.2h-1.2zM79.1 651.3h1.2v1.2h-1.2zM84.6 650.4h1.2v1.2h-1.2zM74.9 598.0h1.2v1.2h-1.2zM86.6 619.3h1.2v1.2h-1.2zM46.0 625.0h1.2v1.2h-1.2zM106.1 636.9h1.2v1.2h-1.2zM94.5 593.6h1.2v1.2h-1.2zM69.1 647.1h1.2v1.2h-1.2zM68.6 629.6h1.2v1.2h-1.2zM59.3 639.0h1.2v1.2h-1.2zM79.8 590.3h1.2v1.2h-1.2zM44.0 624.9h1.2v1.2h-1.2zM57.5 598.7h1.2v1.2h-1.2zM135.2 631.7h1.2v1.2h-1.2zM55.1 595.2h1.2v1.2h-1.2zM86.1 635.4h1.2v1.2h-1.2zM89.5 588.6h1.2v1.2h-1.2zM94.8 575.0h1.2v1.2h-1.2zM117.5 650.7h1.2v1.2h-1.2zM63.9 596.7h1.2v1.2h-1.2zM107.7 606.2h1.2v1.2h-1.2zM87.8 588.3h1.2v1.2h-1.2zM56.0 593.2h1.2v1.2h-1.2zM67.5 585.6h1.2v1.2h-1.2zM108.7 614.4h1.2v1.2h-1.2zM94.5 633.7h1.2v1.2h-1.2zM118.5 615.3h1.2v1.2h-1.2zM123.3 622.2h1.2v1.2h-1.2zM90.6 653.1h1.2v1.2h-1.2zM77.8 584.9h1.2v1.2h-1.2zM79.7 651.0h1.2v1.2h-1.2zM71.5 641.0h1.2v1.2h-1.2zM87.2 646.6h1.2v1.2h-1.2zM78.1 652.4h1.2v1.2h-1.2zM114.0 648.0h1.2v1.2h-1.2zM81.4 657.5h1.2v1.2h-1.2zM78.2 602.9h1.2v1.2h-1.2zM55.4 616.2h1.2v1.2h-1.2zM76.1 589.5h1.2v1.2h-1.2zM53.5 591.2h1.2v1.2h-1.2zM57.0 630.0h1.2v1.2h-1.2zM121.8 639.5h1.2v1.2h-1.2zM52.5 612.0h1.2v1.2h-1.2zM61.3 635.0h1.2v1.2h-1.2zM52.9 627.2h1.2v1.2h-1.2zM64.0 637.9h1.2v1.2h-1.2zM85.6 639.3h1.2v1.2h-1.2zM125.5 633.0h1.2v1.2h-1.2zM128.0 605.7h1.2v1.2h-1.2zM73.4 617.9h1.2v1.2h-1.2zM104.9 647.4h1.2v1.2h-1.2zM87.5 657.3h1.2v1.2h-1.2zM92.9 619.7h1.2v1.2h-1.2zM80.9 612.0h1.2v1.2h-1.2zM80.0 617.4h1.2v1.2h-1.2zM127.3 610.5h1.2v1.2h-1.2zM76.4 602.0h1.2v1.2h-1.2zM136.9 630.5h1.2v1.2h-1.2zM113.9 629.3h1.2v1.2h-1.2zM75.1 613.1h1.2v1.2h-1.2zM43.9 608.9h1.2v1.2h-1.2zM106.9 640.4h1.2v1.2h-1.2zM80.2 627.2h1.2v1.2h-1.2zM82.0 647.9h1.2v1.2h-1.2zM81.1 638.0h1.2v1.2h-1.2zM99.3 649.0h1.2v1.2h-1.2zM123.6 616.0h1.2v1.2h-1.2zM61.0 639.6h1.2v1.2h-1.2zM103.7 604.7h1.2v1.2h-1.2zM89.5 663.6h1.2v1.2h-1.2zM88.5 586.6h1.2v1.2h-1.2zM53.3 602.7h1.2v1.2h-1.2zM56.8 614.7h1.2v1.2h-1.2zM115.7 625.1h1.2v1.2h-1.2zM91.4 599.0h1.2v1.2h-1.2zM127.8 622.5h1.2v1.2h-1.2zM105.3 640.2h1.2v1.2h-1.2zM93.0 572.5h1.2v1.2h-1.2zM75.4 640.6h1.2v1.2h-1.2zM93.1 620.0h1.2v1.2h-1.2zM57.6 627.0h1.2v1.2h-1.2zM67.1 603.8h1.2v1.2h-1.2zM86.9 620.4h1.2v1.2h-1.2zM73.8 634.3h1.2v1.2h-1.2zM72.1 594.8h1.2v1.2h-1.2zM63.1 640.5h1.2v1.2h-1.2zM65.2 621.1h1.2v1.2h-1.2zM48.9 608.9h1.2v1.2h-1.2zM78.6 637.0h1.2v1.2h-1.2zM120.4 617.5h1.2v1.2h-1.2zM101.1 611.9h1.2v1.2h-1.2zM81.9 602.5h1.2v1.2h-1.2zM86.2 660.1h1.2v1.2h-1.2zM79.2 629.2h1.2v1.2h-1.2zM101.3 657.0h1.2v1.2h-1.2zM95.0 581.8h1.2v1.2h-1.2zM61.8 588.8h1.2v1.2h-1.2zM128.8 628.3h1.2v1.2h-1.2zM96.1 651.5h1.2v1.2h-1.2zM102.2 605.1h1.2v1.2h-1.2zM104.3 664.9h1.2v1.2h-1.2zM67.4 588.0h1.2v1.2h-1.2zM78.5 595.0h1.2v1.2h-1.2zM52.0 597.4h1.2v1.2h-1.2zM88.9 583.8h1.2v1.2h-1.2zM70.2 646.5h1.2v1.2h-1.2zM53.7 626.0h1.2v1.2h-1.2zM56.0 598.0h1.2v1.2h-1.2zM117.7 640.7h1.2v1.2h-1.2zM128.5 626.8h1.2v1.2h-1.2zM119.1 652.1h1.2v1.2h-1.2zM86.4 621.1h1.2v1.2h-1.2zM48.6 606.0h1.2v1.2h-1.2zM66.9 594.6h1.2v1.2h-1.2zM98.7 645.4h1.2v1.2h-1.2zM79.4 591.2h1.2v1.2h-1.2zM75.8 616.8h1.2v1.2h-1.2zM136.8 634.0h1.2v1.2h-1.2zM127.6 643.6h1.2v1.2h-1.2zM100.6 632.4h1.2v1.2h-1.2zM87.5 589.7h1.2v1.2h-1.2zM77.2 613.9h1.2v1.2h-1.2zM75.7 616.0h1.2v1.2h-1.2zM112.1 614.8h1.2v1.2h-1.2zM96.9 595.6h1.2v1.2h-1.2zM84.3 578.2h1.2v1.2h-1.2zM66.8 607.4h1.2v1.2h-1.2zM131.9 626.1h1.2v1.2h-1.2zM98.8 649.5h1.2v1.2h-1.2zM72.2 638.2h1.2v1.2h-1.2zM93.9 656.4h1.2v1.2h-1.2zM132.0 630.7h1.2v1.2h-1.2zM82.3 605.6h1.2v1.2h-1.2zM100.0 646.4h1.2v1.2h-1.2zM118.3 620.8h1.2v1.2h-1.2zM91.9 606.9h1.2v1.2h-1.2zM73.4 601.2h1.2v1.2h-1.2zM86.4 655.9h1.2v1.2h-1.2zM104.3 655.5h1.2v1.2h-1.2zM76.0 644.3h1.2v1.2h-1.2zM76.8 619.3h1.2v1.2h-1.2zM125.9 612.4h1.2v1.2h-1.2zM115.4 645.7h1.2v1.2h-1.2zM121.9 606.5h1.2v1.2h-1.2zM124.6 616.0h1.2v1.2h-1.2zM65.5 595.6h1.2v1.2h-1.2zM64.7 626.7h1.2v1.2h-1.2zM59.1 637.8h1.2v1.2h-1.2zM94.2 593.7h1.2v1.2h-1.2zM60.8 638.0h1.2v1.2h-1.2zM46.9 620.8h1.2v1.2h-1.2zM83.4 602.1h1.2v1.2h-1.2zM68.6 630.7h1.2v1.2h-1.2zM66.5 632.6h1.2v1.2h-1.2zM107.0 624.1h1.2v1.2h-1.2zM65.2 584.9h1.2v1.2h-1.2zM58.3 595.6h1.2v1.2h-1.2zM113.7 614.9h1.2v1.2h-1.2zM80.5 604.3h1.2v1.2h-1.2zM63.2 612.4h1.2v1.2h-1.2zM125.6 605.5h1.2v1.2h-1.2zM120.0 608.1h1.2v1.2h-1.2zM91.0 658.1h1.2v1.2h-1.2zM83.7 575.0h1.2v1.2h-1.2zM119.7 626.2h1.2v1.2h-1.2zM70.7 596.7h1.2v1.2h-1.2zM47.7 600.8h1.2v1.2h-1.2zM47.7 601.7h1.2v1.2h-1.2zM72.4 640.5h1.2v1.2h-1.2zM48.4 613.4h1.2v1.2h-1.2zM85.0 635.4h1.2v1.2h-1.2zM52.1 616.4h1.2v1.2h-1.2zM92.2 655.5h1.2v1.2h-1.2zM67.9 643.6h1.2v1.2h-1.2zM52.5 634.3h1.2v1.2h-1.2zM93.4 623.4h1.2v1.2h-1.2zM62.8 610.5h1.2v1.2h-1.2zM66.0 644.4h1.2v1.2h-1.2zM103.5 647.7h1.2v1.2h-1.2zM125.6 616.2h1.2v1.2h-1.2zM62.8 592.5h1.2v1.2h-1.2zM78.3 586.9h1.2v1.2h-1.2zM93.0 659.8h1.2v1.2h-1.2zM84.1 579.5h1.2v1.2h-1.2zM104.5 615.7h1.2v1.2h-1.2zM114.4 614.2h1.2v1.2h-1.2zM82.9 619.9h1.2v1.2h-1.2zM130.9 621.3h1.2v1.2h-1.2zM107.3 607.8h1.2v1.2h-1.2zM75.8 584.4h1.2v1.2h-1.2zM125.0 637.2h1.2v1.2h-1.2zM123.9 605.0h1.2v1.2h-1.2zM75.4 613.9h1.2v1.2h-1.2zM107.8 647.2h1.2v1.2h-1.2zM96.8 599.2h1.2v1.2h-1.2zM119.8 637.3h1.2v1.2h-1.2zM121.9 609.6h1.2v1.2h-1.2zM111.1 659.2h1.2v1.2h-1.2zM111.0 627.5h1.2v1.2h-1.2zM118.7 651.3h1.2v1.2h-1.2zM70.5 591.8h1.2v1.2h-1.2zM99.4 650.0h1.2v1.2h-1.2zM125.4 623.5h1.2v1.2h-1.2zM102.5 610.1h1.2v1.2h-1.2zM115.1 615.5h1.2v1.2h-1.2zM95.4 613.9h1.2v1.2h-1.2zM116.6 641.4h1.2v1.2h-1.2zM125.0 615.5h1.2v1.2h-1.2zM117.6 608.6h1.2v1.2h-1.2zM106.5 657.6h1.2v1.2h-1.2zM55.4 590.6h1.2v1.2h-1.2zM90.7 610.1h1.2v1.2h-1.2zM65.9 609.4h1.2v1.2h-1.2zM59.2 621.1h1.2v1.2h-1.2zM98.4 599.5h1.2v1.2h-1.2zM117.3 654.1h1.2v1.2h-1.2zM84.3 630.8h1.2v1.2h-1.2zM86.7 656.9h1.2v1.2h-1.2zM52.2 614.3h1.2v1.2h-1.2zM74.7 632.3h1.2v1.2h-1.2zM60.6 613.8h1.2v1.2h-1.2zM63.9 596.4h1.2v1.2h-1.2zM79.6 584.9h1.2v1.2h-1.2zM113.2 614.5h1.2v1.2h-1.2zM68.3 606.8h1.2v1.2h-1.2zM81.9 606.7h1.2v1.2h-1.2zM89.6 640.6h1.2v1.2h-1.2zM118.8 626.0h1.2v1.2h-1.2zM63.5 635.8h1.2v1.2h-1.2zM118.4 623.5h1.2v1.2h-1.2zM65.8 629.5h1.2v1.2h-1.2zM66.4 617.7h1.2v1.2h-1.2zM44.9 607.6h1.2v1.2h-1.2zM96.0 627.9h1.2v1.2h-1.2zM110.3 655.1h1.2v1.2h-1.2zM54.5 594.8h1.2v1.2h-1.2zM106.5 617.1h1.2v1.2h-1.2zM66.4 613.1h1.2v1.2h-1.2zM64.5 597.0h1.2v1.2h-1.2zM87.3 588.2h1.2v1.2h-1.2zM126.7 629.8h1.2v1.2h-1.2zM76.9 622.1h1.2v1.2h-1.2zM69.5 648.4h1.2v1.2h-1.2zM52.2 628.3h1.2v1.2h-1.2zM69.0 612.4h1.2v1.2h-1.2zM105.5 659.2h1.2v1.2h-1.2zM48.2 630.6h1.2v1.2h-1.2zM95.9 606.5h1.2v1.2h-1.2zM75.1 617.6h1.2v1.2h-1.2zM55.7 616.6h1.2v1.2h-1.2zM59.3 623.0h1.2v1.2h-1.2zM91.0 664.5h1.2v1.2h-1.2zM77.5 589.3h1.2v1.2h-1.2zM69.8 606.8h1.2v1.2h-1.2zM117.1 644.8h1.2v1.2h-1.2zM111.9 634.8h1.2v1.2h-1.2zM89.9 610.3h1.2v1.2h-1.2zM85.2 657.1h1.2v1.2h-1.2zM96.2 651.2h1.2v1.2h-1.2zM63.2 600.5h1.2v1.2h-1.2zM94.0 658.9h1.2v1.2h-1.2zM69.1 598.0h1.2v1.2h-1.2zM66.8 596.0h1.2v1.2h-1.2zM115.5 640.5h1.2v1.2h-1.2zM67.6 590.4h1.2v1.2h-1.2zM61.3 617.9h1.2v1.2h-1.2zM86.1 605.4h1.2v1.2h-1.2zM86.8 600.2h1.2v1.2h-1.2zM98.8 610.4h1.2v1.2h-1.2zM91.4 603.5h1.2v1.2h-1.2zM76.6 651.3h1.2v1.2h-1.2zM117.7 641.4h1.2v1.2h-1.2zM115.1 632.6h1.2v1.2h-1.2zM60.9 585.9h1.2v1.2h-1.2zM101.5 615.2h1.2v1.2h-1.2zM81.8 638.5h1.2v1.2h-1.2zM81.1 597.3h1.2v1.2h-1.2zM101.3 659.7h1.2v1.2h-1.2zM52.5 619.3h1.2v1.2h-1.2zM91.0 582.6h1.2v1.2h-1.2zM116.2 642.3h1.2v1.2h-1.2zM107.2 623.1h1.2v1.2h-1.2zM59.0 637.9h1.2v1.2h-1.2zM99.3 645.5h1.2v1.2h-1.2zM55.2 598.8h1.2v1.2h-1.2zM79.4 630.2h1.2v1.2h-1.2zM85.1 659.3h1.2v1.2h-1.2zM79.8 635.7h1.2v1.2h-1.2zM58.9 620.2h1.2v1.2h-1.2zM52.0 617.7h1.2v1.2h-1.2zM137.2 630.1h1.2v1.2h-1.2zM67.5 586.1h1.2v1.2h-1.2zM58.5 632.1h1.2v1.2h-1.2zM94.8 587.4h1.2v1.2h-1.2zM83.6 638.3h1.2v1.2h-1.2zM92.6 590.0h1.2v1.2h-1.2zM112.8 639.2h1.2v1.2h-1.2zM80.1 640.7h1.2v1.2h-1.2zM62.6 621.7h1.2v1.2h-1.2zM94.1 612.0h1.2v1.2h-1.2zM94.9 607.7h1.2v1.2h-1.2zM64.3 615.2h1.2v1.2h-1.2zM107.6 638.8h1.2v1.2h-1.2zM70.2 618.6h1.2v1.2h-1.2zM121.7 607.6h1.2v1.2h-1.2zM76.6 637.5h1.2v1.2h-1.2zM55.0 591.8h1.2v1.2h-1.2zM48.1 608.2h1.2v1.2h-1.2zM51.8 616.2h1.2v1.2h-1.2zM94.8 619.3h1.2v1.2h-1.2zM54.2 635.2h1.2v1.2h-1.2zM83.7 586.8h1.2v1.2h-1.2zM80.9 642.7h1.2v1.2h-1.2zM94.7 601.7h1.2v1.2h-1.2zM105.7 647.3h1.2v1.2h-1.2zM127.4 621.9h1.2v1.2h-1.2zM58.9 599.6h1.2v1.2h-1.2zM71.3 643.8h1.2v1.2h-1.2zM79.1 591.5h1.2v1.2h-1.2zM62.8 641.7h1.2v1.2h-1.2zM81.1 627.6h1.2v1.2h-1.2zM87.3 636.9h1.2v1.2h-1.2zM61.3 627.5h1.2v1.2h-1.2zM121.2 626.7h1.2v1.2h-1.2zM92.7 595.5h1.2v1.2h-1.2zM114.0 647.3h1.2v1.2h-1.2zM127.7 617.6h1.2v1.2h-1.2zM67.6 625.5h1.2v1.2h-1.2zM115.6 642.2h1.2v1.2h-1.2zM75.8 629.4h1.2v1.2h-1.2zM83.0 620.0h1.2v1.2h-1.2zM108.7 652.4h1.2v1.2h-1.2zM87.6 645.6h1.2v1.2h-1.2zM85.2 574.3h1.2v1.2h-1.2zM44.5 607.7h1.2v1.2h-1.2zM68.3 594.6h1.2v1.2h-1.2zM87.3 598.5h1.2v1.2h-1.2zM94.1 641.4h1.2v1.2h-1.2zM89.9 640.8h1.2v1.2h-1.2zM113.9 643.4h1.2v1.2h-1.2zM123.2 617.5h1.2v1.2h-1.2zM77.0 581.0h1.2v1.2h-1.2zM102.2 620.3h1.2v1.2h-1.2zM58.3 623.8h1.2v1.2h-1.2zM106.9 629.6h1.2v1.2h-1.2zM88.2 616.2h1.2v1.2h-1.2zM88.2 648.6h1.2v1.2h-1.2zM122.4 628.3h1.2v1.2h-1.2zM75.6 630.3h1.2v1.2h-1.2zM98.1 607.7h1.2v1.2h-1.2zM132.5 636.0h1.2v1.2h-1.2zM76.5 624.1h1.2v1.2h-1.2zM108.9 649.3h1.2v1.2h-1.2zM75.9 628.4h1.2v1.2h-1.2zM93.0 662.6h1.2v1.2h-1.2zM114.3 627.8h1.2v1.2h-1.2zM74.6 637.8h1.2v1.2h-1.2zM52.6 598.6h1.2v1.2h-1.2zM110.5 656.4h1.2v1.2h-1.2zM97.0 639.4h1.2v1.2h-1.2zM131.1 633.4h1.2v1.2h-1.2zM94.0 646.2h1.2v1.2h-1.2zM55.2 633.3h1.2v1.2h-1.2zM80.9 652.0h1.2v1.2h-1.2zM101.6 658.1h1.2v1.2h-1.2zM102.3 614.7h1.2v1.2h-1.2zM74.8 619.3h1.2v1.2h-1.2zM110.9 638.4h1.2v1.2h-1.2zM61.6 588.7h1.2v1.2h-1.2zM109.5 609.4h1.2v1.2h-1.2zM66.3 639.9h1.2v1.2h-1.2zM98.4 609.0h1.2v1.2h-1.2zM120.8 633.2h1.2v1.2h-1.2zM52.3 605.1h1.2v1.2h-1.2zM75.4 590.4h1.2v1.2h-1.2zM101.8 614.6h1.2v1.2h-1.2zM91.2 603.2h1.2v1.2h-1.2zM62.2 632.3h1.2v1.2h-1.2zM120.9 617.0h1.2v1.2h-1.2zM75.0 638.0h1.2v1.2h-1.2zM73.4 624.3h1.2v1.2h-1.2zM103.5 650.7h1.2v1.2h-1.2zM128.7 642.6h1.2v1.2h-1.2zM89.6 634.3h1.2v1.2h-1.2zM85.4 574.4h1.2v1.2h-1.2zM63.6 625.3h1.2v1.2h-1.2zM108.9 647.2h1.2v1.2h-1.2zM93.1 645.0h1.2v1.2h-1.2zM86.3 607.3h1.2v1.2h-1.2zM67.2 595.9h1.2v1.2h-1.2zM89.6 585.2h1.2v1.2h-1.2zM101.2 602.8h1.2v1.2h-1.2zM107.9 604.5h1.2v1.2h-1.2zM58.5 596.6h1.2v1.2h-1.2zM76.6 609.6h1.2v1.2h-1.2zM96.3 637.7h1.2v1.2h-1.2zM63.7 588.3h1.2v1.2h-1.2zM98.9 603.0h1.2v1.2h-1.2zM114.1 657.5h1.2v1.2h-1.2zM109.4 605.9h1.2v1.2h-1.2zM87.2 662.0h1.2v1.2h-1.2zM60.3 594.6h1.2v1.2h-1.2zM112.9 648.7h1.2v1.2h-1.2zM99.1 610.5h1.2v1.2h-1.2zM75.5 610.9h1.2v1.2h-1.2zM80.6 604.6h1.2v1.2h-1.2zM113.6 610.5h1.2v1.2h-1.2zM84.6 625.5h1.2v1.2h-1.2zM58.5 622.6h1.2v1.2h-1.2zM92.4 649.1h1.2v1.2h-1.2zM115.7 618.9h1.2v1.2h-1.2zM75.5 596.5h1.2v1.2h-1.2zM55.2 604.8h1.2v1.2h-1.2zM117.8 638.4h1.2v1.2h-1.2zM92.6 588.2h1.2v1.2h-1.2zM102.9 651.7h1.2v1.2h-1.2zM101.7 662.3h1.2v1.2h-1.2zM113.9 605.1h1.2v1.2h-1.2zM117.4 636.5h1.2v1.2h-1.2zM61.5 611.3h1.2v1.2h-1.2zM65.4 614.0h1.2v1.2h-1.2zM88.9 660.8h1.2v1.2h-1.2zM90.9 638.1h1.2v1.2h-1.2zM76.2 592.8h1.2v1.2h-1.2zM63.3 604.8h1.2v1.2h-1.2zM46.3 613.2h1.2v1.2h-1.2zM69.5 647.3h1.2v1.2h-1.2zM96.2 612.2h1.2v1.2h-1.2zM42.9 611.8h1.2v1.2h-1.2zM87.1 583.5h1.2v1.2h-1.2zM118.1 627.1h1.2v1.2h-1.2zM63.6 641.6h1.2v1.2h-1.2zM107.3 662.2h1.2v1.2h-1.2zM91.9 660.0h1.2v1.2h-1.2zM69.0 608.4h1.2v1.2h-1.2zM118.2 619.2h1.2v1.2h-1.2zM106.9 631.7h1.2v1.2h-1.2zM81.6 580.8h1.2v1.2h-1.2zM67.3 585.4h1.2v1.2h-1.2zM103.1 622.8h1.2v1.2h-1.2zM85.9 623.8h1.2v1.2h-1.2zM65.2 640.4h1.2v1.2h-1.2zM90.7 623.1h1.2v1.2h-1.2zM78.2 619.9h1.2v1.2h-1.2zM75.2 643.6h1.2v1.2h-1.2zM101.5 665.2h1.2v1.2h-1.2zM80.8 633.9h1.2v1.2h-1.2zM122.8 640.7h1.2v1.2h-1.2zM101.3 655.4h1.2v1.2h-1.2zM105.0 655.2h1.2v1.2h-1.2zM90.7 584.8h1.2v1.2h-1.2zM94.4 665.6h1.2v1.2h-1.2zM119.4 612.4h1.2v1.2h-1.2zM88.2 603.0h1.2v1.2h-1.2zM55.8 630.7h1.2v1.2h-1.2zM54.2 592.8h1.2v1.2h-1.2zM80.3 613.5h1.2v1.2h-1.2zM126.6 616.7h1.2v1.2h-1.2zM112.1 604.0h1.2v1.2h-1.2zM64.8 596.1h1.2v1.2h-1.2zM71.3 616.4h1.2v1.2h-1.2zM109.4 619.9h1.2v1.2h-1.2zM108.6 649.9h1.2v1.2h-1.2zM140.3 631.4h1.2v1.2h-1.2zM98.2 662.6h1.2v1.2h-1.2zM70.7 612.1h1.2v1.2h-1.2zM92.3 656.0h1.2v1.2h-1.2zM115.3 619.2h1.2v1.2h-1.2zM71.5 649.7h1.2v1.2h-1.2zM79.6 578.5h1.2v1.2h-1.2zM97.3 619.6h1.2v1.2h-1.2zM79.3 578.3h1.2v1.2h-1.2zM82.4 612.6h1.2v1.2h-1.2zM100.0 643.3h1.2v1.2h-1.2zM48.8 603.1h1.2v1.2h-1.2zM70.9 622.4h1.2v1.2h-1.2zM57.5 596.5h1.2v1.2h-1.2zM98.7 605.4h1.2v1.2h-1.2zM111.1 611.3h1.2v1.2h-1.2zM61.3 588.9h1.2v1.2h-1.2zM125.6 637.1h1.2v1.2h-1.2zM80.7 607.4h1.2v1.2h-1.2zM132.1 631.2h1.2v1.2h-1.2zM72.6 627.4h1.2v1.2h-1.2zM96.1 651.0h1.2v1.2h-1.2zM115.1 619.6h1.2v1.2h-1.2zM133.0 627.7h1.2v1.2h-1.2zM109.5 630.9h1.2v1.2h-1.2zM65.0 639.6h1.2v1.2h-1.2zM120.8 629.7h1.2v1.2h-1.2zM83.0 648.8h1.2v1.2h-1.2zM119.8 637.3h1.2v1.2h-1.2zM89.9 611.3h1.2v1.2h-1.2zM125.2 617.9h1.2v1.2h-1.2zM65.4 618.2h1.2v1.2h-1.2zM95.5 575.1h1.2v1.2h-1.2zM54.1 621.9h1.2v1.2h-1.2zM61.3 589.1h1.2v1.2h-1.2zM131.9 625.7h1.2v1.2h-1.2zM96.9 636.2h1.2v1.2h-1.2zM78.0 643.2h1.2v1.2h-1.2zM65.1 590.2h1.2v1.2h-1.2zM113.8 610.7h1.2v1.2h-1.2zM115.8 603.2h1.2v1.2h-1.2zM134.2 606.6h1.2v1.2h-1.2zM115.4 655.1h1.2v1.2h-1.2zM83.5 619.8h1.2v1.2h-1.2zM101.2 636.2h1.2v1.2h-1.2zM96.5 578.4h1.2v1.2h-1.2zM67.2 617.5h1.2v1.2h-1.2zM144.2 631.4h1.2v1.2h-1.2zM116.6 620.5h1.2v1.2h-1.2zM70.0 630.5h1.2v1.2h-1.2zM49.3 595.4h1.2v1.2h-1.2zM57.5 636.1h1.2v1.2h-1.2zM122.4 621.4h1.2v1.2h-1.2zM95.9 656.1h1.2v1.2h-1.2zM122.9 637.5h1.2v1.2h-1.2zM80.5 639.5h1.2v1.2h-1.2zM63.1 604.3h1.2v1.2h-1.2zM112.8 603.1h1.2v1.2h-1.2zM60.9 594.6h1.2v1.2h-1.2zM124.3 603.9h1.2v1.2h-1.2zM46.5 616.6h1.2v1.2h-1.2zM95.7 634.7h1.2v1.2h-1.2zM98.6 611.5h1.2v1.2h-1.2zM55.4 621.4h1.2v1.2h-1.2zM109.4 604.8h1.2v1.2h-1.2zM100.9 644.6h1.2v1.2h-1.2zM108.2 660.0h1.2v1.2h-1.2zM65.0 612.0h1.2v1.2h-1.2zM84.0 580.0h1.2v1.2h-1.2zM87.3 622.5h1.2v1.2h-1.2zM125.8 643.0h1.2v1.2h-1.2zM105.5 653.2h1.2v1.2h-1.2zM60.9 626.5h1.2v1.2h-1.2zM132.2 626.1h1.2v1.2h-1.2zM77.3 612.1h1.2v1.2h-1.2zM137.0 632.0h1.2v1.2h-1.2zM48.7 630.4h1.2v1.2h-1.2zM78.6 622.2h1.2v1.2h-1.2zM84.1 619.5h1.2v1.2h-1.2zM55.0 594.8h1.2v1.2h-1.2zM63.7 595.9h1.2v1.2h-1.2zM74.8 636.4h1.2v1.2h-1.2zM124.8 604.0h1.2v1.2h-1.2zM118.7 615.1h1.2v1.2h-1.2zM119.2 650.9h1.2v1.2h-1.2zM112.7 646.9h1.2v1.2h-1.2zM116.1 639.0h1.2v1.2h-1.2zM109.7 620.7h1.2v1.2h-1.2zM48.4 623.7h1.2v1.2h-1.2zM80.4 622.5h1.2v1.2h-1.2zM94.1 642.4h1.2v1.2h-1.2zM77.1 634.5h1.2v1.2h-1.2zM119.4 631.9h1.2v1.2h-1.2zM80.7 593.5h1.2v1.2h-1.2zM65.6 587.7h1.2v1.2h-1.2zM56.2 613.2h1.2v1.2h-1.2zM118.0 648.7h1.2v1.2h-1.2zM74.4 641.9h1.2v1.2h-1.2zM97.0 608.9h1.2v1.2h-1.2zM91.5 626.0h1.2v1.2h-1.2zM76.8 646.9h1.2v1.2h-1.2zM46.0 624.3h1.2v1.2h-1.2zM93.7 621.3h1.2v1.2h-1.2zM112.0 607.1h1.2v1.2h-1.2zM117.0 652.4h1.2v1.2h-1.2zM123.5 625.7h1.2v1.2h-1.2zM88.3 633.6h1.2v1.2h-1.2zM118.4 606.3h1.2v1.2h-1.2zM98.7 659.7h1.2v1.2h-1.2zM74.3 595.6h1.2v1.2h-1.2zM47.0 627.7h1.2v1.2h-1.2zM102.4 621.0h1.2v1.2h-1.2zM77.8 613.4h1.2v1.2h-1.2zM71.6 627.5h1.2v1.2h-1.2zM73.6 603.1h1.2v1.2h-1.2zM51.9 609.6h1.2v1.2h-1.2zM69.4 595.5h1.2v1.2h-1.2zM97.5 628.4h1.2v1.2h-1.2zM98.2 628.1h1.2v1.2h-1.2zM106.3 660.4h1.2v1.2h-1.2zM97.9 615.5h1.2v1.2h-1.2zM59.6 616.3h1.2v1.2h-1.2zM63.4 584.7h1.2v1.2h-1.2zM99.7 663.3h1.2v1.2h-1.2zM117.7 612.9h1.2v1.2h-1.2zM106.6 651.3h1.2v1.2h-1.2zM116.6 626.7h1.2v1.2h-1.2zM88.3 623.4h1.2v1.2h-1.2zM80.0 587.3h1.2v1.2h-1.2zM62.9 632.3h1.2v1.2h-1.2zM67.5 603.7h1.2v1.2h-1.2zM75.0 578.5h1.2v1.2h-1.2zM99.4 629.3h1.2v1.2h-1.2zM61.0 616.1h1.2v1.2h-1.2zM52.3 629.5h1.2v1.2h-1.2zM67.6 638.4h1.2v1.2h-1.2zM60.0 599.4h1.2v1.2h-1.2zM56.4 629.3h1.2v1.2h-1.2zM103.3 610.8h1.2v1.2h-1.2zM86.4 629.7h1.2v1.2h-1.2zM119.1 620.3h1.2v1.2h-1.2zM99.3 624.3h1.2v1.2h-1.2zM75.7 638.5h1.2v1.2h-1.2zM53.7 633.6h1.2v1.2h-1.2zM84.9 577.4h1.2v1.2h-1.2zM89.6 657.2h1.2v1.2h-1.2zM70.3 608.3h1.2v1.2h-1.2zM79.9 619.0h1.2v1.2h-1.2zM122.1 617.9h1.2v1.2h-1.2zM85.3 654.7h1.2v1.2h-1.2zM90.3 606.8h1.2v1.2h-1.2zM127.8 633.6h1.2v1.2h-1.2zM135.3 636.7h1.2v1.2h-1.2zM44.7 610.1h1.2v1.2h-1.2zM87.7 573.9h1.2v1.2h-1.2zM72.2 591.9h1.2v1.2h-1.2zM126.8 623.2h1.2v1.2h-1.2zM84.0 645.9h1.2v1.2h-1.2zM116.3 608.0h1.2v1.2h-1.2zM67.2 614.0h1.2v1.2h-1.2zM109.7 651.9h1.2v1.2h-1.2zM58.4 619.2h1.2v1.2h-1.2zM90.6 595.1h1.2v1.2h-1.2zM82.9 644.5h1.2v1.2h-1.2zM125.7 611.9h1.2v1.2h-1.2zM76.8 632.5h1.2v1.2h-1.2zM82.5 585.5h1.2v1.2h-1.2zM130.6 610.9h1.2v1.2h-1.2zM118.6 619.3h1.2v1.2h-1.2zM103.5 646.8h1.2v1.2h-1.2zM120.7 642.1h1.2v1.2h-1.2zM64.5 642.6h1.2v1.2h-1.2zM62.1 594.9h1.2v1.2h-1.2zM69.0 617.8h1.2v1.2h-1.2zM55.8 634.6h1.2v1.2h-1.2zM89.0 591.1h1.2v1.2h-1.2zM66.0 586.4h1.2v1.2h-1.2zM52.1 596.7h1.2v1.2h-1.2zM69.0 632.9h1.2v1.2h-1.2zM70.3 595.2h1.2v1.2h-1.2zM85.0 585.4h1.2v1.2h-1.2zM137.8 628.8h1.2v1.2h-1.2zM95.6 663.4h1.2v1.2h-1.2zM104.2 661.3h1.2v1.2h-1.2zM68.7 600.4h1.2v1.2h-1.2zM77.1 624.8h1.2v1.2h-1.2zM88.4 587.4h1.2v1.2h-1.2zM45.5 625.5h1.2v1.2h-1.2zM84.9 647.9h1.2v1.2h-1.2zM104.7 664.2h1.2v1.2h-1.2zM115.9 605.4h1.2v1.2h-1.2zM98.6 650.6h1.2v1.2h-1.2zM88.8 632.0h1.2v1.2h-1.2zM86.9 637.5h1.2v1.2h-1.2zM64.8 631.3h1.2v1.2h-1.2zM112.1 613.5h1.2v1.2h-1.2zM110.8 618.2h1.2v1.2h-1.2zM60.8 611.7h1.2v1.2h-1.2zM62.5 595.3h1.2v1.2h-1.2zM94.5 661.4h1.2v1.2h-1.2zM82.8 579.3h1.2v1.2h-1.2zM51.4 599.0h1.2v1.2h-1.2zM74.4 627.9h1.2v1.2h-1.2zM81.7 620.6h1.2v1.2h-1.2zM68.7 589.9h1.2v1.2h-1.2zM67.3 604.6h1.2v1.2h-1.2zM65.9 618.2h1.2v1.2h-1.2zM77.9 579.3h1.2v1.2h-1.2zM88.9 647.1h1.2v1.2h-1.2zM73.1 643.5h1.2v1.2h-1.2zM71.8 600.9h1.2v1.2h-1.2zM86.3 609.6h1.2v1.2h-1.2zM68.1 637.0h1.2v1.2h-1.2zM77.5 634.5h1.2v1.2h-1.2zM82.8 608.6h1.2v1.2h-1.2zM89.5 609.9h1.2v1.2h-1.2zM60.3 629.9h1.2v1.2h-1.2zM64.2 631.8h1.2v1.2h-1.2zM92.2 613.7h1.2v1.2h-1.2zM93.6 636.5h1.2v1.2h-1.2zM71.1 626.2h1.2v1.2h-1.2zM114.9 608.7h1.2v1.2h-1.2zM132.1 608.1h1.2v1.2h-1.2zM114.0 624.2h1.2v1.2h-1.2zM65.4 595.0h1.2v1.2h-1.2zM80.6 633.0h1.2v1.2h-1.2zM76.6 627.7h1.2v1.2h-1.2zM69.6 633.7h1.2v1.2h-1.2zM74.3 614.8h1.2v1.2h-1.2zM123.4 642.8h1.2v1.2h-1.2zM140.1 631.7h1.2v1.2h-1.2zM64.9 629.3h1.2v1.2h-1.2zM113.0 611.6h1.2v1.2h-1.2zM52.2 595.6h1.2v1.2h-1.2zM61.2 618.8h1.2v1.2h-1.2zM68.7 607.3h1.2v1.2h-1.2zM66.9 608.7h1.2v1.2h-1.2zM52.9 622.3h1.2v1.2h-1.2zM93.9 653.2h1.2v1.2h-1.2zM76.7 651.1h1.2v1.2h-1.2zM106.0 645.9h1.2v1.2h-1.2zM60.1 635.3h1.2v1.2h-1.2zM135.5 630.9h1.2v1.2h-1.2zM82.1 591.6h1.2v1.2h-1.2zM44.9 611.8h1.2v1.2h-1.2zM87.9 653.9h1.2v1.2h-1.2zM73.2 635.9h1.2v1.2h-1.2zM46.8 600.7h1.2v1.2h-1.2zM133.8 635.9h1.2v1.2h-1.2zM51.3 596.0h1.2v1.2h-1.2zM122.9 615.2h1.2v1.2h-1.2zM71.6 612.3h1.2v1.2h-1.2zM78.6 629.8h1.2v1.2h-1.2zM109.4 651.4h1.2v1.2h-1.2zM53.9 609.3h1.2v1.2h-1.2zM80.9 604.8h1.2v1.2h-1.2zM69.8 618.8h1.2v1.2h-1.2zM101.0 604.9h1.2v1.2h-1.2zM124.3 615.4h1.2v1.2h-1.2zM127.2 612.6h1.2v1.2h-1.2zM121.9 639.9h1.2v1.2h-1.2zM113.9 655.8h1.2v1.2h-1.2zM70.2 584.4h1.2v1.2h-1.2zM95.3 610.1h1.2v1.2h-1.2zM89.5 596.5h1.2v1.2h-1.2zM73.6 609.8h1.2v1.2h-1.2zM107.8 641.6h1.2v1.2h-1.2zM73.5 611.8h1.2v1.2h-1.2zM91.9 659.5h1.2v1.2h-1.2zM120.3 623.7h1.2v1.2h-1.2zM77.8 650.0h1.2v1.2h-1.2zM82.2 575.9h1.2v1.2h-1.2zM57.2 591.4h1.2v1.2h-1.2zM85.4 587.6h1.2v1.2h-1.2zM86.3 602.4h1.2v1.2h-1.2zM93.5 643.5h1.2v1.2h-1.2zM66.8 629.5h1.2v1.2h-1.2zM95.1 662.3h1.2v1.2h-1.2zM113.4 614.0h1.2v1.2h-1.2zM67.1 616.7h1.2v1.2h-1.2zM86.6 597.5h1.2v1.2h-1.2zM66.0 598.3h1.2v1.2h-1.2zM81.1 585.0h1.2v1.2h-1.2zM75.5 600.2h1.2v1.2h-1.2zM83.1 638.1h1.2v1.2h-1.2zM49.0 603.7h1.2v1.2h-1.2zM61.7 635.4h1.2v1.2h-1.2zM109.1 636.4h1.2v1.2h-1.2zM93.8 591.0h1.2v1.2h-1.2zM102.8 663.7h1.2v1.2h-1.2zM54.9 606.4h1.2v1.2h-1.2zM116.6 649.1h1.2v1.2h-1.2zM97.3 619.2h1.2v1.2h-1.2zM91.9 572.2h1.2v1.2h-1.2zM53.1 629.6h1.2v1.2h-1.2zM128.4 635.8h1.2v1.2h-1.2zM86.2 582.8h1.2v1.2h-1.2zM101.0 634.3h1.2v1.2h-1.2zM101.3 631.5h1.2v1.2h-1.2zM57.0 591.2h1.2v1.2h-1.2zM81.4 648.9h1.2v1.2h-1.2zM84.5 643.5h1.2v1.2h-1.2zM94.7 659.4h1.2v1.2h-1.2zM75.4 622.5h1.2v1.2h-1.2zM117.9 632.8h1.2v1.2h-1.2zM65.9 632.5h1.2v1.2h-1.2zM69.7 639.8h1.2v1.2h-1.2zM58.1 591.0h1.2v1.2h-1.2zM122.1 636.4h1.2v1.2h-1.2zM62.2 627.4h1.2v1.2h-1.2zM88.1 651.2h1.2v1.2h-1.2zM61.7 622.9h1.2v1.2h-1.2zM82.4 578.4h1.2v1.2h-1.2zM89.6 606.0h1.2v1.2h-1.2zM117.0 648.2h1.2v1.2h-1.2zM75.7 618.2h1.2v1.2h-1.2zM92.4 576.2h1.2v1.2h-1.2zM100.6 662.4h1.2v1.2h-1.2zM80.7 625.3h1.2v1.2h-1.2zM88.2 614.1h1.2v1.2h-1.2zM97.0 633.3h1.2v1.2h-1.2zM109.4 605.3h1.2v1.2h-1.2zM68.3 584.2h1.2v1.2h-1.2zM76.7 649.9h1.2v1.2h-1.2zM75.0 651.5h1.2v1.2h-1.2zM76.0 588.1h1.2v1.2h-1.2zM82.1 642.9h1.2v1.2h-1.2zM95.1 644.3h1.2v1.2h-1.2zM108.8 603.5h1.2v1.2h-1.2zM120.9 642.8h1.2v1.2h-1.2zM124.2 626.9h1.2v1.2h-1.2zM99.1 618.4h1.2v1.2h-1.2zM63.2 638.9h1.2v1.2h-1.2zM81.2 583.0h1.2v1.2h-1.2zM98.1 657.3h1.2v1.2h-1.2zM100.9 650.1h1.2v1.2h-1.2zM120.8 646.1h1.2v1.2h-1.2zM128.0 643.7h1.2v1.2h-1.2zM125.3 631.4h1.2v1.2h-1.2zM44.7 620.9h1.2v1.2h-1.2zM110.6 635.1h1.2v1.2h-1.2zM118.4 626.6h1.2v1.2h-1.2zM97.5 651.1h1.2v1.2h-1.2zM56.9 634.6h1.2v1.2h-1.2zM99.8 636.2h1.2v1.2h-1.2zM70.5 618.3h1.2v1.2h-1.2zM90.1 622.3h1.2v1.2h-1.2zM86.8 641.3h1.2v1.2h-1.2zM111.0 637.9h1.2v1.2h-1.2zM103.6 608.2h1.2v1.2h-1.2zM71.7 636.9h1.2v1.2h-1.2zM90.1 625.2h1.2v1.2h-1.2zM90.4 643.8h1.2v1.2h-1.2zM49.8 607.1h1.2v1.2h-1.2zM128.1 615.0h1.2v1.2h-1.2zM109.4 612.1h1.2v1.2h-1.2zM73.1 605.6h1.2v1.2h-1.2zM73.9 584.4h1.2v1.2h-1.2zM86.3 634.0h1.2v1.2h-1.2zM59.0 600.8h1.2v1.2h-1.2zM81.7 594.3h1.2v1.2h-1.2zM94.9 650.9h1.2v1.2h-1.2zM83.6 631.1h1.2v1.2h-1.2z" fill="#7cc2ef"/>
<path d="M92.2 575.5h1.1v1.1h-1.1zM88.7 584.9h1.1v1.1h-1.1zM93.1 653.9h1.1v1.1h-1.1zM92.6 642.4h1.1v1.1h-1.1zM122.7 647.0h1.1v1.1h-1.1zM81.4 641.6h1.1v1.1h-1.1zM123.0 615.3h1.1v1.1h-1.1zM115.0 628.2h1.1v1.1h-1.1zM106.9 645.2h1.1v1.1h-1.1zM119.8 612.0h1.1v1.1h-1.1zM113.7 603.7h1.1v1.1h-1.1zM84.9 627.7h1.1v1.1h-1.1zM113.3 608.0h1.1v1.1h-1.1zM126.4 636.2h1.1v1.1h-1.1zM87.7 635.6h1.1v1.1h-1.1zM112.3 603.1h1.1v1.1h-1.1zM62.5 634.9h1.1v1.1h-1.1zM51.7 622.3h1.1v1.1h-1.1zM119.4 643.2h1.1v1.1h-1.1zM49.4 629.4h1.1v1.1h-1.1zM66.5 586.6h1.1v1.1h-1.1zM125.7 646.6h1.1v1.1h-1.1zM56.3 595.8h1.1v1.1h-1.1zM73.7 648.9h1.1v1.1h-1.1zM90.9 576.5h1.1v1.1h-1.1zM66.6 584.7h1.1v1.1h-1.1zM117.0 624.1h1.1v1.1h-1.1zM46.0 627.2h1.1v1.1h-1.1zM131.5 626.3h1.1v1.1h-1.1zM116.4 626.5h1.1v1.1h-1.1zM86.5 621.0h1.1v1.1h-1.1zM76.2 650.2h1.1v1.1h-1.1zM117.5 607.7h1.1v1.1h-1.1zM85.4 624.6h1.1v1.1h-1.1zM126.8 630.6h1.1v1.1h-1.1zM112.6 636.6h1.1v1.1h-1.1zM80.8 650.3h1.1v1.1h-1.1zM117.8 604.7h1.1v1.1h-1.1zM111.6 610.5h1.1v1.1h-1.1zM62.8 634.0h1.1v1.1h-1.1zM91.0 657.3h1.1v1.1h-1.1zM44.5 614.3h1.1v1.1h-1.1zM50.8 593.3h1.1v1.1h-1.1zM114.0 634.4h1.1v1.1h-1.1zM96.6 603.1h1.1v1.1h-1.1zM48.6 611.4h1.1v1.1h-1.1zM107.6 614.6h1.1v1.1h-1.1zM129.7 607.6h1.1v1.1h-1.1zM91.6 573.5h1.1v1.1h-1.1zM103.0 648.7h1.1v1.1h-1.1zM96.2 618.9h1.1v1.1h-1.1zM115.4 617.4h1.1v1.1h-1.1zM58.1 592.8h1.1v1.1h-1.1zM102.3 621.0h1.1v1.1h-1.1zM107.0 638.0h1.1v1.1h-1.1zM124.2 641.1h1.1v1.1h-1.1zM126.6 604.0h1.1v1.1h-1.1zM124.0 629.4h1.1v1.1h-1.1zM106.0 655.2h1.1v1.1h-1.1zM120.4 639.2h1.1v1.1h-1.1zM75.1 634.8h1.1v1.1h-1.1zM54.8 589.9h1.1v1.1h-1.1zM130.4 628.7h1.1v1.1h-1.1zM82.0 656.5h1.1v1.1h-1.1zM79.7 632.6h1.1v1.1h-1.1zM121.1 604.2h1.1v1.1h-1.1zM91.2 579.7h1.1v1.1h-1.1zM74.1 639.7h1.1v1.1h-1.1zM86.5 640.5h1.1v1.1h-1.1zM93.4 658.1h1.1v1.1h-1.1zM113.9 613.6h1.1v1.1h-1.1zM87.7 629.7h1.1v1.1h-1.1zM104.4 662.9h1.1v1.1h-1.1zM116.1 646.9h1.1v1.1h-1.1zM43.8 621.8h1.1v1.1h-1.1zM87.3 623.9h1.1v1.1h-1.1zM58.0 590.7h1.1v1.1h-1.1zM58.1 592.6h1.1v1.1h-1.1zM53.9 627.0h1.1v1.1h-1.1zM84.6 574.0h1.1v1.1h-1.1zM68.3 634.6h1.1v1.1h-1.1zM55.9 617.2h1.1v1.1h-1.1zM102.2 663.9h1.1v1.1h-1.1zM85.0 575.3h1.1v1.1h-1.1zM80.7 654.4h1.1v1.1h-1.1zM86.8 577.0h1.1v1.1h-1.1zM111.3 641.3h1.1v1.1h-1.1zM90.4 642.0h1.1v1.1h-1.1zM108.9 631.2h1.1v1.1h-1.1zM79.1 637.8h1.1v1.1h-1.1zM56.9 615.8h1.1v1.1h-1.1zM110.9 612.7h1.1v1.1h-1.1zM92.8 589.1h1.1v1.1h-1.1zM47.7 616.4h1.1v1.1h-1.1zM78.9 642.2h1.1v1.1h-1.1zM83.9 643.5h1.1v1.1h-1.1zM90.7 585.3h1.1v1.1h-1.1zM99.7 609.5h1.1v1.1h-1.1zM127.0 608.4h1.1v1.1h-1.1zM93.2 610.6h1.1v1.1h-1.1zM106.1 629.1h1.1v1.1h-1.1zM88.6 646.9h1.1v1.1h-1.1zM95.3 628.6h1.1v1.1h-1.1zM113.7 644.3h1.1v1.1h-1.1zM132.5 633.6h1.1v1.1h-1.1zM59.5 625.1h1.1v1.1h-1.1zM110.9 608.7h1.1v1.1h-1.1zM66.4 640.0h1.1v1.1h-1.1zM97.1 598.2h1.1v1.1h-1.1zM98.2 598.6h1.1v1.1h-1.1zM84.0 596.6h1.1v1.1h-1.1zM80.5 642.7h1.1v1.1h-1.1zM84.9 611.0h1.1v1.1h-1.1zM98.3 636.2h1.1v1.1h-1.1zM64.8 636.8h1.1v1.1h-1.1zM84.1 627.8h1.1v1.1h-1.1zM84.3 620.7h1.1v1.1h-1.1zM123.6 612.5h1.1v1.1h-1.1zM54.5 627.2h1.1v1.1h-1.1zM90.8 650.0h1.1v1.1h-1.1zM55.8 627.8h1.1v1.1h-1.1zM91.7 665.9h1.1v1.1h-1.1zM88.6 572.7h1.1v1.1h-1.1zM89.9 605.5h1.1v1.1h-1.1zM87.0 661.1h1.1v1.1h-1.1zM114.4 639.1h1.1v1.1h-1.1zM126.9 624.5h1.1v1.1h-1.1zM108.5 605.7h1.1v1.1h-1.1zM96.2 596.6h1.1v1.1h-1.1zM119.0 607.4h1.1v1.1h-1.1zM55.4 615.5h1.1v1.1h-1.1zM96.1 627.2h1.1v1.1h-1.1zM64.4 588.6h1.1v1.1h-1.1zM96.0 614.5h1.1v1.1h-1.1zM91.9 636.6h1.1v1.1h-1.1zM108.3 614.7h1.1v1.1h-1.1zM51.7 610.1h1.1v1.1h-1.1zM57.4 630.9h1.1v1.1h-1.1zM94.3 580.0h1.1v1.1h-1.1zM50.6 616.5h1.1v1.1h-1.1zM106.5 610.7h1.1v1.1h-1.1zM90.9 633.0h1.1v1.1h-1.1zM114.0 640.2h1.1v1.1h-1.1zM85.0 587.8h1.1v1.1h-1.1zM63.6 589.6h1.1v1.1h-1.1zM103.4 631.8h1.1v1.1h-1.1zM52.7 621.3h1.1v1.1h-1.1zM101.4 638.2h1.1v1.1h-1.1zM105.9 650.5h1.1v1.1h-1.1zM95.3 581.8h1.1v1.1h-1.1zM83.6 578.7h1.1v1.1h-1.1zM82.1 636.6h1.1v1.1h-1.1zM123.9 605.7h1.1v1.1h-1.1zM87.8 611.2h1.1v1.1h-1.1zM81.5 630.4h1.1v1.1h-1.1zM88.8 590.4h1.1v1.1h-1.1zM109.6 646.9h1.1v1.1h-1.1zM116.2 652.1h1.1v1.1h-1.1zM89.7 607.9h1.1v1.1h-1.1zM122.0 633.6h1.1v1.1h-1.1z" fill="#d9e9b8"/>
<path d="M88.7 607.2h1.1v1.1h-1.1zM84.6 615.9h1.1v1.1h-1.1zM51.1 623.7h1.1v1.1h-1.1zM84.8 597.0h1.1v1.1h-1.1zM54.3 625.3h1.1v1.1h-1.1zM82.2 612.0h1.1v1.1h-1.1zM52.5 628.7h1.1v1.1h-1.1zM47.4 615.4h1.1v1.1h-1.1zM52.9 611.9h1.1v1.1h-1.1zM59.7 620.0h1.1v1.1h-1.1zM79.2 621.4h1.1v1.1h-1.1zM46.2 604.5h1.1v1.1h-1.1zM58.3 624.7h1.1v1.1h-1.1zM51.3 616.9h1.1v1.1h-1.1zM51.3 605.8h1.1v1.1h-1.1zM49.4 603.2h1.1v1.1h-1.1zM56.0 591.9h1.1v1.1h-1.1zM56.5 612.9h1.1v1.1h-1.1zM44.3 607.8h1.1v1.1h-1.1zM48.3 607.1h1.1v1.1h-1.1zM62.6 590.0h1.1v1.1h-1.1zM45.5 622.6h1.1v1.1h-1.1zM57.6 594.9h1.1v1.1h-1.1zM48.1 607.6h1.1v1.1h-1.1zM50.7 616.0h1.1v1.1h-1.1zM47.6 605.0h1.1v1.1h-1.1zM44.7 610.2h1.1v1.1h-1.1zM46.8 626.1h1.1v1.1h-1.1zM56.6 633.4h1.1v1.1h-1.1zM55.1 613.1h1.1v1.1h-1.1zM52.9 594.8h1.1v1.1h-1.1zM83.3 611.5h1.1v1.1h-1.1zM62.4 633.5h1.1v1.1h-1.1zM55.7 594.1h1.1v1.1h-1.1zM57.5 613.5h1.1v1.1h-1.1zM81.8 620.8h1.1v1.1h-1.1zM82.7 589.2h1.1v1.1h-1.1zM49.5 619.1h1.1v1.1h-1.1zM76.1 625.9h1.1v1.1h-1.1zM82.2 595.6h1.1v1.1h-1.1zM49.8 627.7h1.1v1.1h-1.1zM80.3 617.8h1.1v1.1h-1.1zM57.9 631.7h1.1v1.1h-1.1zM46.7 604.0h1.1v1.1h-1.1zM48.9 598.8h1.1v1.1h-1.1zM51.9 630.0h1.1v1.1h-1.1zM61.9 633.0h1.1v1.1h-1.1zM59.1 627.4h1.1v1.1h-1.1zM65.3 591.2h1.1v1.1h-1.1zM53.7 623.2h1.1v1.1h-1.1zM80.2 594.5h1.1v1.1h-1.1zM50.1 620.8h1.1v1.1h-1.1zM56.2 595.3h1.1v1.1h-1.1zM59.3 623.6h1.1v1.1h-1.1zM51.6 628.4h1.1v1.1h-1.1zM84.2 592.0h1.1v1.1h-1.1zM47.6 620.3h1.1v1.1h-1.1zM64.6 587.2h1.1v1.1h-1.1zM64.5 589.4h1.1v1.1h-1.1zM63.8 587.7h1.1v1.1h-1.1zM46.1 604.1h1.1v1.1h-1.1zM60.8 590.4h1.1v1.1h-1.1zM50.2 603.4h1.1v1.1h-1.1zM48.7 627.2h1.1v1.1h-1.1zM54.1 630.5h1.1v1.1h-1.1zM55.6 618.6h1.1v1.1h-1.1zM46.4 606.0h1.1v1.1h-1.1zM44.1 613.1h1.1v1.1h-1.1zM57.8 593.8h1.1v1.1h-1.1zM56.5 592.5h1.1v1.1h-1.1zM65.1 632.0h1.1v1.1h-1.1zM46.1 616.2h1.1v1.1h-1.1zM47.8 603.8h1.1v1.1h-1.1zM44.6 610.2h1.1v1.1h-1.1zM80.1 596.4h1.1v1.1h-1.1zM53.1 628.4h1.1v1.1h-1.1zM52.9 623.1h1.1v1.1h-1.1zM48.2 608.0h1.1v1.1h-1.1zM76.7 627.7h1.1v1.1h-1.1zM54.8 623.3h1.1v1.1h-1.1zM79.4 626.2h1.1v1.1h-1.1zM43.2 610.9h1.1v1.1h-1.1zM43.8 614.8h1.1v1.1h-1.1zM48.5 623.5h1.1v1.1h-1.1zM83.6 595.9h1.1v1.1h-1.1zM80.1 621.8h1.1v1.1h-1.1zM75.6 627.9h1.1v1.1h-1.1zM54.4 613.7h1.1v1.1h-1.1zM52.4 627.3h1.1v1.1h-1.1zM81.1 615.3h1.1v1.1h-1.1zM69.1 630.7h1.1v1.1h-1.1zM51.6 618.5h1.1v1.1h-1.1zM81.0 620.8h1.1v1.1h-1.1zM57.6 612.2h1.1v1.1h-1.1zM82.4 593.8h1.1v1.1h-1.1zM63.8 590.5h1.1v1.1h-1.1zM58.1 633.7h1.1v1.1h-1.1zM81.7 590.6h1.1v1.1h-1.1zM63.2 589.8h1.1v1.1h-1.1zM50.7 597.2h1.1v1.1h-1.1zM60.2 629.5h1.1v1.1h-1.1zM57.6 623.1h1.1v1.1h-1.1zM83.7 615.2h1.1v1.1h-1.1zM83.3 592.7h1.1v1.1h-1.1zM44.0 610.6h1.1v1.1h-1.1zM81.3 593.4h1.1v1.1h-1.1zM63.3 588.2h1.1v1.1h-1.1zM50.5 596.6h1.1v1.1h-1.1zM59.5 621.8h1.1v1.1h-1.1zM51.4 618.6h1.1v1.1h-1.1z" fill="#eaa86c"/>
<path d="M69.5 582.0 C70.0 581.4 72.2 580.4 73.0 580.2 C73.8 580.0 76.8 579.7 77.5 580.0 C78.2 580.3 79.8 582.0 80.0 583.0 C80.2 584.0 80.1 588.7 80.0 590.0 C79.9 591.3 78.7 595.1 79.0 596.0 C79.3 596.9 82.2 597.9 83.0 598.5 C83.8 599.1 86.9 601.2 87.5 602.0 C88.1 602.8 89.2 605.6 89.0 606.5 C88.8 607.4 86.8 610.0 86.0 610.5 C85.2 611.0 81.2 611.4 80.5 612.0 C79.8 612.6 79.7 615.9 79.5 617.0 C79.3 618.1 79.5 622.0 79.0 623.0 C78.5 624.0 75.1 626.7 74.0 627.5 C72.9 628.3 69.2 630.5 68.0 631.0 C66.8 631.5 62.9 632.4 62.0 632.0 C61.1 631.6 59.6 628.2 59.5 627.0 C59.4 625.8 60.6 621.3 60.5 620.0 C60.4 618.7 59.0 615.1 58.5 614.0 C58.0 612.9 56.8 609.9 56.0 609.0 C55.2 608.1 51.1 606.0 50.5 605.0 C49.9 604.0 49.8 599.9 50.0 599.0 C50.2 598.1 52.2 596.9 53.0 596.5 C53.8 596.1 57.0 595.6 58.0 595.5 C59.0 595.4 62.6 595.5 63.5 595.0 C64.4 594.5 66.5 591.9 67.0 591.0 C67.5 590.1 68.2 586.9 68.5 586.0 C68.8 585.1 69.0 582.6 69.5 582.0Z" fill="#e28d40"/>
<path d="M78.5 580.2h1.2v1.2h-1.2zM75.4 580.4h1.2v1.2h-1.2zM81.4 597.4h1.2v1.2h-1.2zM53.1 597.5h1.2v1.2h-1.2zM52.1 604.2h1.2v1.2h-1.2zM59.0 623.5h1.2v1.2h-1.2zM79.9 624.4h1.2v1.2h-1.2zM56.8 597.5h1.2v1.2h-1.2zM76.5 625.9h1.2v1.2h-1.2zM81.9 596.6h1.2v1.2h-1.2zM72.6 579.9h1.2v1.2h-1.2zM79.8 591.7h1.2v1.2h-1.2zM74.8 626.0h1.2v1.2h-1.2zM55.1 596.4h1.2v1.2h-1.2zM70.9 582.9h1.2v1.2h-1.2zM48.4 601.7h1.2v1.2h-1.2zM79.3 617.4h1.2v1.2h-1.2zM87.5 607.2h1.2v1.2h-1.2zM80.5 618.6h1.2v1.2h-1.2zM59.2 621.6h1.2v1.2h-1.2zM60.5 624.2h1.2v1.2h-1.2zM70.5 584.2h1.2v1.2h-1.2zM78.5 593.9h1.2v1.2h-1.2zM86.8 610.9h1.2v1.2h-1.2zM59.0 626.1h1.2v1.2h-1.2zM81.8 611.7h1.2v1.2h-1.2zM60.7 622.7h1.2v1.2h-1.2zM69.3 629.1h1.2v1.2h-1.2zM58.1 612.5h1.2v1.2h-1.2zM67.2 629.1h1.2v1.2h-1.2zM77.9 593.3h1.2v1.2h-1.2zM76.0 626.0h1.2v1.2h-1.2zM69.0 630.2h1.2v1.2h-1.2zM90.2 604.1h1.2v1.2h-1.2zM80.2 620.3h1.2v1.2h-1.2zM78.9 580.5h1.2v1.2h-1.2zM80.4 584.1h1.2v1.2h-1.2zM66.4 631.1h1.2v1.2h-1.2zM63.8 594.1h1.2v1.2h-1.2zM88.2 610.2h1.2v1.2h-1.2zM51.1 607.5h1.2v1.2h-1.2zM62.5 596.6h1.2v1.2h-1.2zM66.3 591.7h1.2v1.2h-1.2zM66.8 581.3h1.2v1.2h-1.2zM80.2 617.3h1.2v1.2h-1.2zM76.2 616.4h1.2v1.2h-1.2zM61.4 595.8h1.2v1.2h-1.2zM80.9 594.8h1.2v1.2h-1.2zM49.3 604.0h1.2v1.2h-1.2zM70.1 582.2h1.2v1.2h-1.2zM61.6 592.6h1.2v1.2h-1.2zM66.9 589.4h1.2v1.2h-1.2zM80.0 583.9h1.2v1.2h-1.2zM55.9 609.7h1.2v1.2h-1.2zM78.0 588.6h1.2v1.2h-1.2zM85.6 612.2h1.2v1.2h-1.2zM82.6 612.3h1.2v1.2h-1.2zM57.1 610.7h1.2v1.2h-1.2zM69.9 591.2h1.2v1.2h-1.2zM75.0 623.9h1.2v1.2h-1.2zM70.7 630.6h1.2v1.2h-1.2zM58.5 593.9h1.2v1.2h-1.2zM60.4 615.1h1.2v1.2h-1.2zM61.7 633.9h1.2v1.2h-1.2zM58.4 624.2h1.2v1.2h-1.2zM56.1 595.5h1.2v1.2h-1.2zM50.5 605.8h1.2v1.2h-1.2zM66.6 590.9h1.2v1.2h-1.2zM61.6 631.6h1.2v1.2h-1.2zM69.1 588.0h1.2v1.2h-1.2zM53.1 606.3h1.2v1.2h-1.2zM69.3 585.0h1.2v1.2h-1.2zM66.9 586.8h1.2v1.2h-1.2zM76.3 581.6h1.2v1.2h-1.2zM70.9 627.1h1.2v1.2h-1.2zM90.7 607.3h1.2v1.2h-1.2zM69.2 581.2h1.2v1.2h-1.2zM80.8 585.5h1.2v1.2h-1.2zM78.0 616.4h1.2v1.2h-1.2zM61.9 631.8h1.2v1.2h-1.2zM53.5 599.9h1.2v1.2h-1.2zM59.8 619.7h1.2v1.2h-1.2zM78.6 619.7h1.2v1.2h-1.2zM83.8 613.1h1.2v1.2h-1.2zM85.9 606.5h1.2v1.2h-1.2zM58.0 615.0h1.2v1.2h-1.2zM74.2 627.1h1.2v1.2h-1.2zM79.1 595.3h1.2v1.2h-1.2zM80.5 588.3h1.2v1.2h-1.2zM67.4 582.7h1.2v1.2h-1.2zM70.3 583.4h1.2v1.2h-1.2zM78.7 613.1h1.2v1.2h-1.2zM75.8 627.2h1.2v1.2h-1.2zM74.6 579.2h1.2v1.2h-1.2zM59.7 629.0h1.2v1.2h-1.2zM86.2 607.5h1.2v1.2h-1.2zM60.9 594.5h1.2v1.2h-1.2zM55.4 608.3h1.2v1.2h-1.2zM83.7 601.2h1.2v1.2h-1.2zM63.2 591.0h1.2v1.2h-1.2zM87.1 611.9h1.2v1.2h-1.2zM57.7 595.0h1.2v1.2h-1.2zM80.1 618.4h1.2v1.2h-1.2zM71.0 582.1h1.2v1.2h-1.2zM75.8 580.0h1.2v1.2h-1.2zM63.2 597.5h1.2v1.2h-1.2zM80.8 581.7h1.2v1.2h-1.2zM56.8 607.1h1.2v1.2h-1.2zM75.4 579.5h1.2v1.2h-1.2zM87.2 603.7h1.2v1.2h-1.2zM72.3 579.1h1.2v1.2h-1.2zM79.0 627.1h1.2v1.2h-1.2zM52.3 597.9h1.2v1.2h-1.2zM49.5 606.1h1.2v1.2h-1.2zM77.7 622.6h1.2v1.2h-1.2zM69.8 582.4h1.2v1.2h-1.2zM60.2 625.9h1.2v1.2h-1.2zM80.9 584.8h1.2v1.2h-1.2zM70.4 590.7h1.2v1.2h-1.2zM57.1 608.6h1.2v1.2h-1.2zM59.3 627.1h1.2v1.2h-1.2zM72.0 578.5h1.2v1.2h-1.2zM73.6 581.2h1.2v1.2h-1.2zM59.5 616.5h1.2v1.2h-1.2zM60.3 629.8h1.2v1.2h-1.2zM78.8 583.0h1.2v1.2h-1.2zM72.7 578.5h1.2v1.2h-1.2zM70.7 630.3h1.2v1.2h-1.2zM55.0 595.9h1.2v1.2h-1.2zM74.1 580.2h1.2v1.2h-1.2zM69.6 585.2h1.2v1.2h-1.2zM66.7 588.4h1.2v1.2h-1.2zM59.4 631.0h1.2v1.2h-1.2zM79.1 620.8h1.2v1.2h-1.2zM72.0 626.5h1.2v1.2h-1.2zM81.0 613.3h1.2v1.2h-1.2zM81.2 591.3h1.2v1.2h-1.2zM78.2 595.8h1.2v1.2h-1.2zM90.4 608.1h1.2v1.2h-1.2zM77.8 622.4h1.2v1.2h-1.2zM49.9 599.3h1.2v1.2h-1.2zM50.5 602.0h1.2v1.2h-1.2zM84.8 603.4h1.2v1.2h-1.2zM68.6 581.9h1.2v1.2h-1.2zM82.1 599.8h1.2v1.2h-1.2zM52.2 605.4h1.2v1.2h-1.2zM83.5 611.9h1.2v1.2h-1.2zM71.7 583.5h1.2v1.2h-1.2zM59.4 617.9h1.2v1.2h-1.2zM78.8 618.4h1.2v1.2h-1.2zM60.2 624.1h1.2v1.2h-1.2zM64.5 592.4h1.2v1.2h-1.2zM63.9 632.6h1.2v1.2h-1.2zM77.8 593.9h1.2v1.2h-1.2zM69.5 590.2h1.2v1.2h-1.2zM74.4 628.0h1.2v1.2h-1.2zM51.4 598.4h1.2v1.2h-1.2zM86.3 599.3h1.2v1.2h-1.2zM63.9 592.8h1.2v1.2h-1.2zM61.5 630.9h1.2v1.2h-1.2zM73.4 580.9h1.2v1.2h-1.2zM71.0 583.0h1.2v1.2h-1.2zM69.2 591.6h1.2v1.2h-1.2zM81.6 597.8h1.2v1.2h-1.2zM56.0 626.9h1.2v1.2h-1.2zM55.6 594.4h1.2v1.2h-1.2zM81.8 611.4h1.2v1.2h-1.2zM83.6 598.5h1.2v1.2h-1.2zM81.2 586.3h1.2v1.2h-1.2zM50.1 598.1h1.2v1.2h-1.2zM58.2 616.1h1.2v1.2h-1.2zM80.8 617.8h1.2v1.2h-1.2zM58.9 617.9h1.2v1.2h-1.2zM78.2 595.6h1.2v1.2h-1.2zM79.9 595.2h1.2v1.2h-1.2zM75.1 625.8h1.2v1.2h-1.2zM49.5 598.4h1.2v1.2h-1.2zM75.2 578.8h1.2v1.2h-1.2zM70.5 580.9h1.2v1.2h-1.2zM79.8 617.0h1.2v1.2h-1.2zM60.0 615.5h1.2v1.2h-1.2zM60.2 631.0h1.2v1.2h-1.2zM72.8 630.8h1.2v1.2h-1.2zM80.2 597.0h1.2v1.2h-1.2zM59.4 623.2h1.2v1.2h-1.2zM61.9 621.3h1.2v1.2h-1.2zM76.3 625.5h1.2v1.2h-1.2zM82.7 595.8h1.2v1.2h-1.2zM57.1 597.1h1.2v1.2h-1.2zM50.4 599.9h1.2v1.2h-1.2zM62.8 595.9h1.2v1.2h-1.2zM59.5 615.5h1.2v1.2h-1.2zM77.7 620.4h1.2v1.2h-1.2zM70.3 582.5h1.2v1.2h-1.2zM50.8 599.0h1.2v1.2h-1.2zM63.6 594.5h1.2v1.2h-1.2zM70.9 629.0h1.2v1.2h-1.2zM74.0 628.3h1.2v1.2h-1.2zM87.4 605.5h1.2v1.2h-1.2zM91.2 602.7h1.2v1.2h-1.2zM48.7 602.6h1.2v1.2h-1.2zM73.6 629.0h1.2v1.2h-1.2zM85.0 600.4h1.2v1.2h-1.2zM84.6 613.4h1.2v1.2h-1.2zM60.7 614.4h1.2v1.2h-1.2zM86.2 600.6h1.2v1.2h-1.2zM66.3 594.3h1.2v1.2h-1.2zM69.2 582.9h1.2v1.2h-1.2zM54.1 609.8h1.2v1.2h-1.2zM49.7 601.2h1.2v1.2h-1.2zM49.7 597.1h1.2v1.2h-1.2zM75.0 628.3h1.2v1.2h-1.2zM51.9 599.5h1.2v1.2h-1.2zM62.9 595.4h1.2v1.2h-1.2zM76.9 580.4h1.2v1.2h-1.2zM79.0 580.1h1.2v1.2h-1.2zM81.7 585.3h1.2v1.2h-1.2zM68.3 632.0h1.2v1.2h-1.2zM68.4 630.2h1.2v1.2h-1.2zM74.5 628.1h1.2v1.2h-1.2zM61.3 618.1h1.2v1.2h-1.2zM85.7 602.3h1.2v1.2h-1.2zM79.2 623.8h1.2v1.2h-1.2zM71.2 626.1h1.2v1.2h-1.2zM51.6 604.7h1.2v1.2h-1.2zM68.6 586.7h1.2v1.2h-1.2zM88.1 601.6h1.2v1.2h-1.2zM66.9 587.7h1.2v1.2h-1.2zM85.3 601.9h1.2v1.2h-1.2zM61.6 628.7h1.2v1.2h-1.2zM70.2 586.6h1.2v1.2h-1.2zM91.0 607.2h1.2v1.2h-1.2zM83.0 598.0h1.2v1.2h-1.2zM85.7 605.2h1.2v1.2h-1.2zM58.5 625.4h1.2v1.2h-1.2zM80.2 583.0h1.2v1.2h-1.2zM77.4 580.9h1.2v1.2h-1.2zM59.3 617.0h1.2v1.2h-1.2zM65.7 631.7h1.2v1.2h-1.2zM78.2 597.4h1.2v1.2h-1.2zM61.5 631.2h1.2v1.2h-1.2zM60.6 614.3h1.2v1.2h-1.2zM79.8 595.3h1.2v1.2h-1.2zM53.9 608.9h1.2v1.2h-1.2zM68.8 582.8h1.2v1.2h-1.2zM59.7 624.3h1.2v1.2h-1.2zM70.7 582.0h1.2v1.2h-1.2zM65.4 590.4h1.2v1.2h-1.2zM54.2 604.8h1.2v1.2h-1.2zM71.1 628.6h1.2v1.2h-1.2zM59.7 617.7h1.2v1.2h-1.2zM83.4 598.2h1.2v1.2h-1.2zM80.5 595.5h1.2v1.2h-1.2zM55.1 606.2h1.2v1.2h-1.2zM77.9 619.1h1.2v1.2h-1.2zM57.5 593.4h1.2v1.2h-1.2zM76.9 626.7h1.2v1.2h-1.2zM52.0 596.6h1.2v1.2h-1.2zM59.6 618.9h1.2v1.2h-1.2zM64.3 631.4h1.2v1.2h-1.2z" fill="#e5964f"/>
<path d="M81.3 607.2 C81.3 607.9 81.2 608.6 80.9 609.2 C80.7 609.8 80.2 610.4 79.8 610.9 C79.3 611.3 78.7 611.8 78.1 612.0 C77.5 612.3 76.8 612.4 76.1 612.4 C75.4 612.4 74.7 612.3 74.1 612.0 C73.5 611.8 72.9 611.3 72.4 610.9 C72.0 610.4 71.5 609.8 71.3 609.2 C71.0 608.6 70.9 607.9 70.9 607.2 C70.9 606.5 71.0 605.8 71.3 605.2 C71.5 604.6 72.0 604.0 72.4 603.5 C72.9 603.1 73.5 602.6 74.1 602.4 C74.7 602.1 75.4 602.0 76.1 602.0 C76.8 602.0 77.5 602.1 78.1 602.4 C78.7 602.6 79.3 603.1 79.8 603.5 C80.2 604.0 80.7 604.6 80.9 605.2 C81.2 605.8 81.3 606.5 81.3 607.2Z" fill="#e6f2fa"/>
<path d="M75.2 611.5h1.1v1.1h-1.1zM80.1 604.7h1.1v1.1h-1.1zM78.3 603.1h1.1v1.1h-1.1zM75.7 602.1h1.1v1.1h-1.1zM75.4 604.0h1.1v1.1h-1.1zM75.2 609.0h1.1v1.1h-1.1zM77.9 611.2h1.1v1.1h-1.1zM80.6 605.2h1.1v1.1h-1.1zM74.4 606.4h1.1v1.1h-1.1zM73.5 610.8h1.1v1.1h-1.1zM79.1 608.9h1.1v1.1h-1.1zM77.6 605.1h1.1v1.1h-1.1zM73.8 609.9h1.1v1.1h-1.1zM72.4 604.2h1.1v1.1h-1.1zM78.8 611.5h1.1v1.1h-1.1zM76.2 603.3h1.1v1.1h-1.1zM76.6 604.4h1.1v1.1h-1.1zM77.6 608.5h1.1v1.1h-1.1zM79.9 609.0h1.1v1.1h-1.1zM78.5 611.0h1.1v1.1h-1.1zM79.6 607.2h1.1v1.1h-1.1zM73.0 604.2h1.1v1.1h-1.1zM77.3 607.7h1.1v1.1h-1.1zM75.3 607.2h1.1v1.1h-1.1zM73.1 606.3h1.1v1.1h-1.1zM77.1 609.8h1.1v1.1h-1.1zM78.2 603.1h1.1v1.1h-1.1zM73.1 607.0h1.1v1.1h-1.1zM78.9 604.9h1.1v1.1h-1.1zM78.6 604.4h1.1v1.1h-1.1z" fill="#a9d6f4"/>
<path d="M74.1 610.8h1.1v1.1h-1.1zM72.9 610.7h1.1v1.1h-1.1zM76.6 602.3h1.1v1.1h-1.1zM75.8 607.6h1.1v1.1h-1.1zM72.2 605.9h1.1v1.1h-1.1zM75.9 606.9h1.1v1.1h-1.1zM80.5 606.0h1.1v1.1h-1.1zM80.2 605.0h1.1v1.1h-1.1z" fill="#e9a467"/>
<path d="M79.1 588.1h1.0v1.0h-1.0zM72.8 618.8h1.0v1.0h-1.0zM79.0 588.0h1.0v1.0h-1.0zM66.7 592.0h1.0v1.0h-1.0zM74.8 624.1h1.0v1.0h-1.0zM78.7 617.0h1.0v1.0h-1.0zM52.4 604.0h1.0v1.0h-1.0zM61.3 607.8h1.0v1.0h-1.0zM61.1 601.9h1.0v1.0h-1.0zM58.7 605.5h1.0v1.0h-1.0zM60.7 613.6h1.0v1.0h-1.0zM72.5 602.9h1.0v1.0h-1.0zM78.6 585.5h1.0v1.0h-1.0zM64.8 628.3h1.0v1.0h-1.0zM51.6 605.2h1.0v1.0h-1.0zM64.8 602.7h1.0v1.0h-1.0zM63.4 624.1h1.0v1.0h-1.0zM70.2 598.2h1.0v1.0h-1.0zM62.5 613.7h1.0v1.0h-1.0zM56.8 603.9h1.0v1.0h-1.0zM70.6 603.8h1.0v1.0h-1.0zM66.0 609.8h1.0v1.0h-1.0zM65.4 595.4h1.0v1.0h-1.0zM66.2 620.6h1.0v1.0h-1.0zM56.0 604.6h1.0v1.0h-1.0zM69.6 584.9h1.0v1.0h-1.0zM61.1 601.3h1.0v1.0h-1.0zM71.5 614.7h1.0v1.0h-1.0zM74.2 622.3h1.0v1.0h-1.0zM64.4 613.7h1.0v1.0h-1.0zM60.4 601.0h1.0v1.0h-1.0zM61.6 611.1h1.0v1.0h-1.0zM73.6 621.3h1.0v1.0h-1.0zM80.7 602.4h1.0v1.0h-1.0zM74.3 581.3h1.0v1.0h-1.0zM66.1 595.5h1.0v1.0h-1.0zM71.9 602.8h1.0v1.0h-1.0zM77.5 581.6h1.0v1.0h-1.0zM63.6 631.6h1.0v1.0h-1.0zM83.0 608.6h1.0v1.0h-1.0zM75.2 612.8h1.0v1.0h-1.0zM63.4 629.4h1.0v1.0h-1.0zM75.4 582.4h1.0v1.0h-1.0zM70.6 582.8h1.0v1.0h-1.0zM67.4 622.8h1.0v1.0h-1.0zM63.8 598.3h1.0v1.0h-1.0zM63.0 596.8h1.0v1.0h-1.0zM69.2 611.8h1.0v1.0h-1.0zM62.7 627.0h1.0v1.0h-1.0zM65.0 624.3h1.0v1.0h-1.0zM67.0 601.7h1.0v1.0h-1.0zM72.1 583.0h1.0v1.0h-1.0zM69.3 584.3h1.0v1.0h-1.0zM65.8 601.2h1.0v1.0h-1.0zM58.8 601.3h1.0v1.0h-1.0zM63.8 610.8h1.0v1.0h-1.0zM82.0 609.1h1.0v1.0h-1.0zM79.7 612.8h1.0v1.0h-1.0zM50.3 599.1h1.0v1.0h-1.0zM64.2 602.6h1.0v1.0h-1.0zM64.5 596.5h1.0v1.0h-1.0zM71.3 619.9h1.0v1.0h-1.0zM75.0 598.2h1.0v1.0h-1.0zM60.2 607.9h1.0v1.0h-1.0zM67.0 610.9h1.0v1.0h-1.0zM76.7 620.2h1.0v1.0h-1.0zM62.8 619.1h1.0v1.0h-1.0zM64.0 620.5h1.0v1.0h-1.0zM69.8 609.8h1.0v1.0h-1.0zM69.4 598.0h1.0v1.0h-1.0zM77.5 597.1h1.0v1.0h-1.0zM69.1 598.5h1.0v1.0h-1.0zM61.2 629.8h1.0v1.0h-1.0zM62.5 616.4h1.0v1.0h-1.0zM74.2 616.2h1.0v1.0h-1.0zM72.4 620.9h1.0v1.0h-1.0zM67.9 621.0h1.0v1.0h-1.0zM68.1 626.5h1.0v1.0h-1.0zM56.5 609.8h1.0v1.0h-1.0zM61.1 608.2h1.0v1.0h-1.0zM79.8 597.1h1.0v1.0h-1.0zM56.7 603.3h1.0v1.0h-1.0zM68.4 620.9h1.0v1.0h-1.0zM71.9 610.6h1.0v1.0h-1.0zM58.7 607.7h1.0v1.0h-1.0zM79.2 597.3h1.0v1.0h-1.0zM73.8 597.7h1.0v1.0h-1.0zM68.4 604.4h1.0v1.0h-1.0zM58.0 607.3h1.0v1.0h-1.0zM59.1 604.9h1.0v1.0h-1.0zM79.3 615.3h1.0v1.0h-1.0zM53.3 604.0h1.0v1.0h-1.0zM68.8 588.6h1.0v1.0h-1.0zM55.1 596.2h1.0v1.0h-1.0zM65.6 629.6h1.0v1.0h-1.0zM62.8 626.4h1.0v1.0h-1.0zM50.8 604.3h1.0v1.0h-1.0zM61.3 616.1h1.0v1.0h-1.0zM73.7 595.0h1.0v1.0h-1.0zM78.4 616.6h1.0v1.0h-1.0zM75.6 586.5h1.0v1.0h-1.0zM83.8 605.7h1.0v1.0h-1.0zM53.3 603.8h1.0v1.0h-1.0zM51.1 599.3h1.0v1.0h-1.0zM72.8 593.6h1.0v1.0h-1.0zM68.8 629.5h1.0v1.0h-1.0zM77.4 623.1h1.0v1.0h-1.0zM69.7 624.8h1.0v1.0h-1.0zM61.6 625.8h1.0v1.0h-1.0zM60.3 604.4h1.0v1.0h-1.0zM75.8 622.2h1.0v1.0h-1.0zM65.3 619.5h1.0v1.0h-1.0zM60.4 624.9h1.0v1.0h-1.0zM63.0 617.7h1.0v1.0h-1.0zM66.3 619.6h1.0v1.0h-1.0zM72.9 598.6h1.0v1.0h-1.0zM62.4 606.1h1.0v1.0h-1.0zM74.9 590.2h1.0v1.0h-1.0zM85.8 607.5h1.0v1.0h-1.0zM60.8 600.6h1.0v1.0h-1.0zM55.3 596.1h1.0v1.0h-1.0zM75.0 601.3h1.0v1.0h-1.0zM83.9 608.9h1.0v1.0h-1.0zM82.2 602.6h1.0v1.0h-1.0zM68.4 593.6h1.0v1.0h-1.0zM76.1 622.7h1.0v1.0h-1.0zM60.2 607.8h1.0v1.0h-1.0zM69.3 583.1h1.0v1.0h-1.0zM67.0 621.2h1.0v1.0h-1.0zM75.8 623.3h1.0v1.0h-1.0zM69.2 615.7h1.0v1.0h-1.0zM67.8 610.3h1.0v1.0h-1.0zM84.0 608.8h1.0v1.0h-1.0zM62.5 595.3h1.0v1.0h-1.0zM63.1 606.9h1.0v1.0h-1.0zM56.1 603.4h1.0v1.0h-1.0zM63.7 600.1h1.0v1.0h-1.0zM64.8 598.1h1.0v1.0h-1.0zM70.8 613.6h1.0v1.0h-1.0zM67.7 614.0h1.0v1.0h-1.0zM64.9 618.4h1.0v1.0h-1.0zM70.5 585.2h1.0v1.0h-1.0zM62.5 610.1h1.0v1.0h-1.0zM70.2 587.5h1.0v1.0h-1.0zM85.0 600.3h1.0v1.0h-1.0zM63.2 624.8h1.0v1.0h-1.0zM60.8 624.4h1.0v1.0h-1.0zM63.8 610.6h1.0v1.0h-1.0zM62.3 612.3h1.0v1.0h-1.0zM52.3 598.9h1.0v1.0h-1.0zM63.8 610.7h1.0v1.0h-1.0zM81.3 605.7h1.0v1.0h-1.0zM78.6 600.7h1.0v1.0h-1.0zM58.3 597.4h1.0v1.0h-1.0zM64.6 605.3h1.0v1.0h-1.0zM69.1 621.2h1.0v1.0h-1.0zM80.9 600.8h1.0v1.0h-1.0zM80.0 611.0h1.0v1.0h-1.0zM69.7 627.3h1.0v1.0h-1.0zM57.9 604.3h1.0v1.0h-1.0zM73.5 591.5h1.0v1.0h-1.0zM52.5 605.7h1.0v1.0h-1.0zM67.5 610.1h1.0v1.0h-1.0zM65.1 606.1h1.0v1.0h-1.0zM70.3 585.3h1.0v1.0h-1.0zM60.1 614.1h1.0v1.0h-1.0zM63.1 606.5h1.0v1.0h-1.0zM66.0 593.7h1.0v1.0h-1.0zM56.7 596.2h1.0v1.0h-1.0zM62.6 615.3h1.0v1.0h-1.0zM63.3 623.6h1.0v1.0h-1.0zM70.2 598.9h1.0v1.0h-1.0zM70.5 613.8h1.0v1.0h-1.0zM74.9 622.9h1.0v1.0h-1.0zM67.9 592.6h1.0v1.0h-1.0zM71.3 595.8h1.0v1.0h-1.0zM65.8 621.9h1.0v1.0h-1.0zM74.1 591.7h1.0v1.0h-1.0zM70.3 586.6h1.0v1.0h-1.0zM69.9 625.0h1.0v1.0h-1.0zM67.9 596.0h1.0v1.0h-1.0zM69.1 598.8h1.0v1.0h-1.0zM69.8 600.2h1.0v1.0h-1.0zM84.4 608.4h1.0v1.0h-1.0zM63.2 606.0h1.0v1.0h-1.0zM61.9 599.9h1.0v1.0h-1.0zM80.3 601.3h1.0v1.0h-1.0zM61.2 629.3h1.0v1.0h-1.0zM68.9 588.5h1.0v1.0h-1.0zM69.4 617.3h1.0v1.0h-1.0zM64.0 613.5h1.0v1.0h-1.0zM60.1 617.8h1.0v1.0h-1.0zM85.9 601.2h1.0v1.0h-1.0zM64.7 619.7h1.0v1.0h-1.0zM80.1 602.4h1.0v1.0h-1.0zM67.3 611.6h1.0v1.0h-1.0zM53.0 605.8h1.0v1.0h-1.0zM73.8 599.7h1.0v1.0h-1.0zM66.2 628.6h1.0v1.0h-1.0zM56.7 596.6h1.0v1.0h-1.0zM60.3 627.2h1.0v1.0h-1.0zM63.4 618.4h1.0v1.0h-1.0zM75.0 600.2h1.0v1.0h-1.0zM51.4 603.5h1.0v1.0h-1.0zM63.5 595.7h1.0v1.0h-1.0zM60.2 622.2h1.0v1.0h-1.0zM68.6 615.1h1.0v1.0h-1.0zM76.4 621.6h1.0v1.0h-1.0zM71.1 581.3h1.0v1.0h-1.0zM75.8 592.6h1.0v1.0h-1.0zM83.3 610.4h1.0v1.0h-1.0zM76.8 615.7h1.0v1.0h-1.0zM63.7 619.2h1.0v1.0h-1.0zM71.7 609.9h1.0v1.0h-1.0zM63.6 603.7h1.0v1.0h-1.0zM72.4 616.2h1.0v1.0h-1.0zM78.2 597.1h1.0v1.0h-1.0zM68.7 606.9h1.0v1.0h-1.0zM81.8 601.1h1.0v1.0h-1.0zM67.8 589.5h1.0v1.0h-1.0zM84.7 609.2h1.0v1.0h-1.0zM66.3 609.6h1.0v1.0h-1.0zM66.9 605.6h1.0v1.0h-1.0zM72.8 617.7h1.0v1.0h-1.0zM65.3 623.2h1.0v1.0h-1.0zM73.1 617.5h1.0v1.0h-1.0zM69.4 628.1h1.0v1.0h-1.0zM81.9 608.7h1.0v1.0h-1.0zM69.7 599.1h1.0v1.0h-1.0zM77.7 596.6h1.0v1.0h-1.0zM67.9 591.8h1.0v1.0h-1.0zM73.2 591.7h1.0v1.0h-1.0zM70.5 618.8h1.0v1.0h-1.0zM66.4 626.9h1.0v1.0h-1.0zM68.8 593.4h1.0v1.0h-1.0zM63.9 607.9h1.0v1.0h-1.0zM59.4 613.8h1.0v1.0h-1.0zM84.9 606.5h1.0v1.0h-1.0zM85.0 607.2h1.0v1.0h-1.0zM66.3 626.2h1.0v1.0h-1.0zM76.1 592.0h1.0v1.0h-1.0zM60.5 607.2h1.0v1.0h-1.0zM63.8 600.8h1.0v1.0h-1.0zM60.9 614.7h1.0v1.0h-1.0zM61.0 626.5h1.0v1.0h-1.0zM84.0 603.9h1.0v1.0h-1.0zM61.5 614.0h1.0v1.0h-1.0zM60.9 600.4h1.0v1.0h-1.0zM78.2 580.9h1.0v1.0h-1.0zM56.6 598.1h1.0v1.0h-1.0zM69.2 614.0h1.0v1.0h-1.0zM73.9 582.7h1.0v1.0h-1.0zM66.8 625.0h1.0v1.0h-1.0zM59.1 598.1h1.0v1.0h-1.0zM59.8 614.0h1.0v1.0h-1.0zM65.0 615.4h1.0v1.0h-1.0zM78.8 620.0h1.0v1.0h-1.0zM67.6 626.1h1.0v1.0h-1.0zM56.6 598.0h1.0v1.0h-1.0zM64.4 625.8h1.0v1.0h-1.0zM56.7 601.5h1.0v1.0h-1.0zM64.4 607.6h1.0v1.0h-1.0zM78.4 581.6h1.0v1.0h-1.0zM69.2 613.7h1.0v1.0h-1.0zM74.6 613.6h1.0v1.0h-1.0zM65.2 615.4h1.0v1.0h-1.0zM67.6 596.3h1.0v1.0h-1.0zM62.2 602.3h1.0v1.0h-1.0zM56.6 610.1h1.0v1.0h-1.0zM58.3 605.9h1.0v1.0h-1.0zM61.2 617.7h1.0v1.0h-1.0zM67.7 602.4h1.0v1.0h-1.0zM59.5 611.9h1.0v1.0h-1.0zM67.1 619.6h1.0v1.0h-1.0zM77.5 591.1h1.0v1.0h-1.0zM60.5 615.7h1.0v1.0h-1.0zM75.9 613.0h1.0v1.0h-1.0zM82.1 600.3h1.0v1.0h-1.0zM61.8 605.8h1.0v1.0h-1.0zM62.3 615.9h1.0v1.0h-1.0zM68.0 629.7h1.0v1.0h-1.0zM71.2 609.3h1.0v1.0h-1.0zM72.4 589.7h1.0v1.0h-1.0zM65.3 606.2h1.0v1.0h-1.0zM63.5 630.5h1.0v1.0h-1.0zM63.6 630.9h1.0v1.0h-1.0zM68.2 600.8h1.0v1.0h-1.0zM73.5 592.7h1.0v1.0h-1.0zM60.4 628.4h1.0v1.0h-1.0zM78.4 618.4h1.0v1.0h-1.0zM76.1 580.5h1.0v1.0h-1.0zM64.4 605.5h1.0v1.0h-1.0zM66.8 598.2h1.0v1.0h-1.0zM62.4 605.2h1.0v1.0h-1.0zM71.2 582.1h1.0v1.0h-1.0zM60.8 598.6h1.0v1.0h-1.0zM60.8 599.1h1.0v1.0h-1.0zM76.7 592.2h1.0v1.0h-1.0zM61.5 617.8h1.0v1.0h-1.0zM75.5 595.9h1.0v1.0h-1.0zM61.1 617.2h1.0v1.0h-1.0zM64.7 621.9h1.0v1.0h-1.0zM76.3 592.1h1.0v1.0h-1.0zM72.1 626.6h1.0v1.0h-1.0zM74.8 625.6h1.0v1.0h-1.0zM71.1 598.7h1.0v1.0h-1.0zM70.4 593.2h1.0v1.0h-1.0zM58.1 611.6h1.0v1.0h-1.0zM83.4 607.1h1.0v1.0h-1.0zM68.2 597.1h1.0v1.0h-1.0zM70.2 620.4h1.0v1.0h-1.0zM68.7 628.4h1.0v1.0h-1.0zM65.2 594.7h1.0v1.0h-1.0zM78.0 596.7h1.0v1.0h-1.0zM58.6 603.3h1.0v1.0h-1.0zM75.2 624.2h1.0v1.0h-1.0zM79.2 583.0h1.0v1.0h-1.0zM66.7 629.1h1.0v1.0h-1.0zM60.6 606.1h1.0v1.0h-1.0zM65.8 621.3h1.0v1.0h-1.0zM73.0 600.5h1.0v1.0h-1.0zM67.3 620.3h1.0v1.0h-1.0zM67.7 627.9h1.0v1.0h-1.0zM65.3 609.8h1.0v1.0h-1.0zM72.4 611.9h1.0v1.0h-1.0zM75.8 588.6h1.0v1.0h-1.0zM71.2 581.9h1.0v1.0h-1.0zM58.0 605.9h1.0v1.0h-1.0zM64.7 615.6h1.0v1.0h-1.0zM55.2 606.8h1.0v1.0h-1.0zM61.6 621.9h1.0v1.0h-1.0zM71.6 610.8h1.0v1.0h-1.0zM82.0 608.9h1.0v1.0h-1.0zM68.8 627.0h1.0v1.0h-1.0zM69.0 616.0h1.0v1.0h-1.0zM70.7 628.5h1.0v1.0h-1.0zM73.6 616.9h1.0v1.0h-1.0zM67.6 605.9h1.0v1.0h-1.0zM64.2 603.7h1.0v1.0h-1.0zM63.7 630.9h1.0v1.0h-1.0zM83.9 600.8h1.0v1.0h-1.0zM75.3 595.5h1.0v1.0h-1.0zM75.9 618.0h1.0v1.0h-1.0zM72.3 615.4h1.0v1.0h-1.0zM67.0 623.7h1.0v1.0h-1.0zM77.2 622.8h1.0v1.0h-1.0zM64.1 628.2h1.0v1.0h-1.0zM60.4 603.5h1.0v1.0h-1.0zM74.7 582.2h1.0v1.0h-1.0zM79.6 612.1h1.0v1.0h-1.0zM71.4 600.0h1.0v1.0h-1.0zM71.6 611.9h1.0v1.0h-1.0zM61.1 602.6h1.0v1.0h-1.0zM78.6 622.3h1.0v1.0h-1.0zM63.3 596.0h1.0v1.0h-1.0zM70.7 605.0h1.0v1.0h-1.0zM65.7 595.6h1.0v1.0h-1.0zM63.6 627.5h1.0v1.0h-1.0zM74.4 585.7h1.0v1.0h-1.0zM57.0 599.5h1.0v1.0h-1.0zM55.9 606.8h1.0v1.0h-1.0zM76.5 623.5h1.0v1.0h-1.0zM70.7 616.1h1.0v1.0h-1.0zM72.4 594.3h1.0v1.0h-1.0zM63.4 628.4h1.0v1.0h-1.0zM60.3 616.5h1.0v1.0h-1.0zM63.5 603.7h1.0v1.0h-1.0zM58.8 612.1h1.0v1.0h-1.0zM59.2 603.5h1.0v1.0h-1.0zM58.5 613.0h1.0v1.0h-1.0zM75.5 582.5h1.0v1.0h-1.0zM61.7 620.9h1.0v1.0h-1.0zM62.0 626.8h1.0v1.0h-1.0zM66.0 598.0h1.0v1.0h-1.0zM53.2 604.9h1.0v1.0h-1.0zM66.1 605.4h1.0v1.0h-1.0zM59.4 600.3h1.0v1.0h-1.0zM73.9 616.8h1.0v1.0h-1.0zM62.6 613.5h1.0v1.0h-1.0zM65.8 618.4h1.0v1.0h-1.0z" fill="#f4cba6"/>
<path d="M79.9 587.2h1.0v1.0h-1.0zM77.8 582.6h1.0v1.0h-1.0zM81.2 598.2h1.0v1.0h-1.0zM76.8 583.6h1.0v1.0h-1.0zM69.5 600.1h1.0v1.0h-1.0zM55.7 602.0h1.0v1.0h-1.0zM72.7 612.1h1.0v1.0h-1.0zM87.8 603.1h1.0v1.0h-1.0zM81.5 605.1h1.0v1.0h-1.0zM62.6 631.8h1.0v1.0h-1.0zM79.0 589.1h1.0v1.0h-1.0zM77.2 617.9h1.0v1.0h-1.0zM85.3 602.3h1.0v1.0h-1.0zM67.8 611.4h1.0v1.0h-1.0zM64.4 616.9h1.0v1.0h-1.0zM84.6 608.0h1.0v1.0h-1.0zM62.7 620.9h1.0v1.0h-1.0zM69.2 624.6h1.0v1.0h-1.0zM71.0 587.0h1.0v1.0h-1.0zM59.5 614.3h1.0v1.0h-1.0zM67.5 589.2h1.0v1.0h-1.0zM59.0 605.7h1.0v1.0h-1.0zM72.2 596.9h1.0v1.0h-1.0zM86.0 604.0h1.0v1.0h-1.0zM65.9 608.6h1.0v1.0h-1.0zM60.1 612.0h1.0v1.0h-1.0zM55.9 608.0h1.0v1.0h-1.0zM70.5 615.2h1.0v1.0h-1.0zM59.2 597.0h1.0v1.0h-1.0zM61.6 621.6h1.0v1.0h-1.0zM74.5 600.3h1.0v1.0h-1.0zM70.9 591.2h1.0v1.0h-1.0zM70.9 584.2h1.0v1.0h-1.0zM56.9 605.2h1.0v1.0h-1.0zM75.0 585.8h1.0v1.0h-1.0zM69.3 608.7h1.0v1.0h-1.0zM71.0 594.9h1.0v1.0h-1.0zM58.7 595.7h1.0v1.0h-1.0zM51.3 600.4h1.0v1.0h-1.0zM71.7 614.2h1.0v1.0h-1.0zM58.6 611.7h1.0v1.0h-1.0zM71.1 628.4h1.0v1.0h-1.0zM66.0 613.3h1.0v1.0h-1.0zM79.9 599.0h1.0v1.0h-1.0zM68.8 608.8h1.0v1.0h-1.0zM55.6 607.9h1.0v1.0h-1.0zM67.2 613.9h1.0v1.0h-1.0zM71.1 620.2h1.0v1.0h-1.0zM75.8 581.4h1.0v1.0h-1.0zM82.6 598.7h1.0v1.0h-1.0z" fill="#d3e8f7"/>
<path d="M104.8 573.2 C106.6 572.5 109.9 572.6 112.0 572.8 C114.1 573.0 115.9 573.5 117.5 574.2 C119.1 574.9 120.2 576.2 121.5 576.8 C122.8 577.4 124.2 576.8 125.0 577.8 C125.8 578.8 126.3 580.8 126.6 583.0 C126.9 585.2 127.2 588.7 127.0 591.0 C126.8 593.3 127.1 595.3 125.6 596.8 C124.1 598.3 121.1 599.2 118.0 600.0 C114.9 600.8 110.1 601.6 107.0 601.6 C103.9 601.6 101.5 601.2 99.5 600.0 C97.5 598.8 95.7 596.7 94.8 594.5 C93.9 592.3 93.8 589.1 94.2 587.0 C94.6 584.9 95.9 583.7 97.0 582.0 C98.1 580.3 99.7 578.5 101.0 577.0 C102.3 575.5 103.0 573.9 104.8 573.2Z" fill="#8fc24c"/>
<path d="M146.8 620.6 C146.8 621.3 146.7 621.9 146.5 622.6 C146.3 623.2 146.0 623.8 145.7 624.4 C145.3 625.0 144.9 625.5 144.3 626.0 C143.8 626.4 143.2 626.9 142.6 627.2 C142.0 627.5 141.3 627.8 140.6 627.9 C139.9 628.1 139.1 628.2 138.4 628.2 C137.7 628.2 136.9 628.1 136.2 627.9 C135.5 627.8 134.8 627.5 134.2 627.2 C133.6 626.9 133.0 626.4 132.5 626.0 C131.9 625.5 131.5 625.0 131.1 624.4 C130.8 623.8 130.5 623.2 130.3 622.6 C130.1 621.9 130.0 621.3 130.0 620.6 C130.0 619.9 130.1 619.3 130.3 618.6 C130.5 618.0 130.8 617.4 131.1 616.8 C131.5 616.2 131.9 615.7 132.5 615.2 C133.0 614.8 133.6 614.3 134.2 614.0 C134.8 613.7 135.5 613.4 136.2 613.3 C136.9 613.1 137.7 613.0 138.4 613.0 C139.1 613.0 139.9 613.1 140.6 613.3 C141.3 613.4 142.0 613.7 142.6 614.0 C143.2 614.3 143.8 614.8 144.3 615.2 C144.9 615.7 145.3 616.2 145.7 616.8 C146.0 617.4 146.3 618.0 146.5 618.6 C146.7 619.3 146.8 619.9 146.8 620.6Z" fill="#8fc24c"/>
<path d="M88.6 625.8 C88.6 626.0 88.6 626.3 88.5 626.5 C88.4 626.8 88.3 627.0 88.2 627.2 C88.1 627.4 87.9 627.6 87.7 627.8 C87.5 628.0 87.3 628.1 87.1 628.2 C86.9 628.3 86.6 628.4 86.4 628.5 C86.1 628.6 85.9 628.6 85.6 628.6 C85.3 628.6 85.1 628.6 84.8 628.5 C84.6 628.4 84.3 628.3 84.1 628.2 C83.9 628.1 83.7 628.0 83.5 627.8 C83.3 627.6 83.1 627.4 83.0 627.2 C82.9 627.0 82.8 626.8 82.7 626.5 C82.6 626.3 82.6 626.0 82.6 625.8 C82.6 625.6 82.6 625.3 82.7 625.1 C82.8 624.8 82.9 624.6 83.0 624.4 C83.1 624.2 83.3 624.0 83.5 623.8 C83.7 623.6 83.9 623.5 84.1 623.4 C84.3 623.3 84.6 623.2 84.8 623.1 C85.1 623.0 85.3 623.0 85.6 623.0 C85.9 623.0 86.1 623.0 86.4 623.1 C86.6 623.2 86.9 623.3 87.1 623.4 C87.3 623.5 87.5 623.6 87.7 623.8 C87.9 624.0 88.1 624.2 88.2 624.4 C88.3 624.6 88.4 624.8 88.5 625.1 C88.6 625.3 88.6 625.6 88.6 625.8Z" fill="#8fc24c"/>
<path d="M125.0 581.3h1.1v1.1h-1.1zM126.3 580.6h1.1v1.1h-1.1zM102.7 600.2h1.1v1.1h-1.1zM126.9 591.5h1.1v1.1h-1.1zM103.0 575.4h1.1v1.1h-1.1zM115.8 573.1h1.1v1.1h-1.1zM120.0 596.7h1.1v1.1h-1.1zM118.7 574.9h1.1v1.1h-1.1zM115.2 600.2h1.1v1.1h-1.1zM94.1 586.1h1.1v1.1h-1.1zM112.3 573.1h1.1v1.1h-1.1zM113.7 573.4h1.1v1.1h-1.1zM126.9 591.3h1.1v1.1h-1.1zM96.8 596.9h1.1v1.1h-1.1zM102.7 600.4h1.1v1.1h-1.1zM100.0 577.6h1.1v1.1h-1.1zM117.9 576.1h1.1v1.1h-1.1zM126.2 593.8h1.1v1.1h-1.1zM106.6 601.5h1.1v1.1h-1.1zM127.1 595.7h1.1v1.1h-1.1zM95.7 581.8h1.1v1.1h-1.1zM127.0 591.0h1.1v1.1h-1.1zM110.9 600.4h1.1v1.1h-1.1zM97.6 597.7h1.1v1.1h-1.1zM97.6 597.4h1.1v1.1h-1.1zM105.9 601.5h1.1v1.1h-1.1zM118.7 574.2h1.1v1.1h-1.1zM98.3 581.3h1.1v1.1h-1.1zM119.7 576.0h1.1v1.1h-1.1zM107.7 573.4h1.1v1.1h-1.1zM103.4 574.4h1.1v1.1h-1.1zM127.1 582.0h1.1v1.1h-1.1zM110.8 600.5h1.1v1.1h-1.1zM105.2 600.7h1.1v1.1h-1.1zM127.4 586.3h1.1v1.1h-1.1zM123.3 597.7h1.1v1.1h-1.1zM103.1 573.3h1.1v1.1h-1.1zM121.2 577.1h1.1v1.1h-1.1zM126.8 582.1h1.1v1.1h-1.1zM98.2 596.1h1.1v1.1h-1.1zM109.2 600.1h1.1v1.1h-1.1zM94.5 589.5h1.1v1.1h-1.1zM107.6 600.5h1.1v1.1h-1.1zM93.5 585.4h1.1v1.1h-1.1zM106.2 600.5h1.1v1.1h-1.1zM126.8 594.3h1.1v1.1h-1.1zM109.3 573.3h1.1v1.1h-1.1zM94.8 594.2h1.1v1.1h-1.1zM124.6 576.5h1.1v1.1h-1.1zM110.8 600.7h1.1v1.1h-1.1zM95.5 595.2h1.1v1.1h-1.1zM121.8 598.4h1.1v1.1h-1.1zM120.0 575.9h1.1v1.1h-1.1zM93.6 591.6h1.1v1.1h-1.1zM97.2 582.9h1.1v1.1h-1.1zM94.5 591.1h1.1v1.1h-1.1zM113.8 600.9h1.1v1.1h-1.1zM121.7 574.7h1.1v1.1h-1.1zM125.7 595.7h1.1v1.1h-1.1zM113.7 572.9h1.1v1.1h-1.1zM96.7 596.9h1.1v1.1h-1.1zM115.9 574.4h1.1v1.1h-1.1zM115.0 598.8h1.1v1.1h-1.1zM97.9 596.3h1.1v1.1h-1.1zM127.2 586.1h1.1v1.1h-1.1zM105.5 601.5h1.1v1.1h-1.1zM107.1 601.4h1.1v1.1h-1.1zM125.6 592.5h1.1v1.1h-1.1zM94.8 590.2h1.1v1.1h-1.1zM124.2 576.6h1.1v1.1h-1.1zM118.4 574.7h1.1v1.1h-1.1zM118.6 574.4h1.1v1.1h-1.1zM96.4 584.5h1.1v1.1h-1.1zM108.8 601.0h1.1v1.1h-1.1zM98.3 599.9h1.1v1.1h-1.1zM126.7 594.6h1.1v1.1h-1.1zM127.7 580.8h1.1v1.1h-1.1zM102.2 574.8h1.1v1.1h-1.1zM127.0 586.5h1.1v1.1h-1.1zM126.7 595.2h1.1v1.1h-1.1zM98.1 597.0h1.1v1.1h-1.1zM100.5 599.9h1.1v1.1h-1.1zM125.5 584.0h1.1v1.1h-1.1zM104.3 574.2h1.1v1.1h-1.1zM117.6 573.5h1.1v1.1h-1.1zM122.5 576.0h1.1v1.1h-1.1zM118.6 598.8h1.1v1.1h-1.1zM127.1 595.0h1.1v1.1h-1.1zM117.2 575.4h1.1v1.1h-1.1zM112.7 572.8h1.1v1.1h-1.1zM115.6 598.8h1.1v1.1h-1.1zM128.4 587.0h1.1v1.1h-1.1zM104.0 599.6h1.1v1.1h-1.1zM123.0 597.8h1.1v1.1h-1.1zM105.2 601.1h1.1v1.1h-1.1zM117.0 600.5h1.1v1.1h-1.1zM114.9 573.7h1.1v1.1h-1.1zM104.7 601.5h1.1v1.1h-1.1zM96.3 596.9h1.1v1.1h-1.1zM125.0 596.7h1.1v1.1h-1.1zM97.0 583.6h1.1v1.1h-1.1zM126.4 577.8h1.1v1.1h-1.1zM118.7 574.7h1.1v1.1h-1.1zM115.7 572.9h1.1v1.1h-1.1zM125.4 578.4h1.1v1.1h-1.1zM97.4 598.4h1.1v1.1h-1.1zM123.5 577.6h1.1v1.1h-1.1zM93.1 587.9h1.1v1.1h-1.1zM105.7 601.9h1.1v1.1h-1.1zM126.5 581.6h1.1v1.1h-1.1zM147.9 619.9h1.1v1.1h-1.1zM140.8 625.8h1.1v1.1h-1.1zM146.3 620.5h1.1v1.1h-1.1zM130.6 619.4h1.1v1.1h-1.1zM134.2 614.1h1.1v1.1h-1.1zM145.8 617.1h1.1v1.1h-1.1zM128.6 621.2h1.1v1.1h-1.1zM138.8 628.2h1.1v1.1h-1.1zM142.0 627.2h1.1v1.1h-1.1zM129.9 616.6h1.1v1.1h-1.1zM139.7 627.2h1.1v1.1h-1.1zM132.8 625.4h1.1v1.1h-1.1zM130.6 618.5h1.1v1.1h-1.1zM137.9 613.2h1.1v1.1h-1.1zM132.3 625.6h1.1v1.1h-1.1zM135.5 627.2h1.1v1.1h-1.1zM144.1 625.3h1.1v1.1h-1.1zM141.3 613.8h1.1v1.1h-1.1zM129.2 622.3h1.1v1.1h-1.1zM137.3 629.0h1.1v1.1h-1.1zM130.6 624.8h1.1v1.1h-1.1zM139.5 628.9h1.1v1.1h-1.1zM131.2 623.5h1.1v1.1h-1.1zM132.2 624.7h1.1v1.1h-1.1zM131.8 614.8h1.1v1.1h-1.1zM146.9 619.3h1.1v1.1h-1.1zM144.8 614.1h1.1v1.1h-1.1zM132.0 625.9h1.1v1.1h-1.1zM146.0 617.7h1.1v1.1h-1.1zM138.9 628.6h1.1v1.1h-1.1zM142.6 627.0h1.1v1.1h-1.1zM138.3 627.9h1.1v1.1h-1.1zM138.2 612.3h1.1v1.1h-1.1zM131.6 625.3h1.1v1.1h-1.1zM130.0 618.5h1.1v1.1h-1.1zM139.3 628.0h1.1v1.1h-1.1zM131.9 622.1h1.1v1.1h-1.1zM138.7 611.4h1.1v1.1h-1.1zM140.6 613.9h1.1v1.1h-1.1zM131.0 622.7h1.1v1.1h-1.1zM138.9 614.4h1.1v1.1h-1.1zM146.3 620.3h1.1v1.1h-1.1zM142.6 611.9h1.1v1.1h-1.1zM139.7 611.7h1.1v1.1h-1.1zM131.9 624.8h1.1v1.1h-1.1zM137.8 613.0h1.1v1.1h-1.1zM140.9 627.5h1.1v1.1h-1.1zM137.3 628.0h1.1v1.1h-1.1zM137.9 615.0h1.1v1.1h-1.1zM131.0 622.6h1.1v1.1h-1.1z" fill="#97c65a"/>
<path d="M118.8 596.9h1.0v1.0h-1.0zM101.1 583.8h1.0v1.0h-1.0zM106.9 588.0h1.0v1.0h-1.0zM100.8 582.5h1.0v1.0h-1.0zM117.3 592.4h1.0v1.0h-1.0zM120.3 592.9h1.0v1.0h-1.0zM105.2 576.7h1.0v1.0h-1.0zM94.7 592.0h1.0v1.0h-1.0zM120.3 593.0h1.0v1.0h-1.0zM114.0 584.6h1.0v1.0h-1.0zM95.8 585.7h1.0v1.0h-1.0zM97.9 581.3h1.0v1.0h-1.0zM119.3 589.7h1.0v1.0h-1.0zM123.5 597.6h1.0v1.0h-1.0zM117.9 599.8h1.0v1.0h-1.0zM99.2 594.1h1.0v1.0h-1.0zM115.0 588.6h1.0v1.0h-1.0zM98.2 587.2h1.0v1.0h-1.0zM123.9 593.4h1.0v1.0h-1.0zM124.7 595.2h1.0v1.0h-1.0zM96.4 584.3h1.0v1.0h-1.0zM121.9 593.6h1.0v1.0h-1.0zM110.3 585.9h1.0v1.0h-1.0zM107.1 583.4h1.0v1.0h-1.0zM105.8 586.4h1.0v1.0h-1.0zM113.6 577.2h1.0v1.0h-1.0zM99.8 591.0h1.0v1.0h-1.0zM113.0 586.9h1.0v1.0h-1.0zM111.3 583.0h1.0v1.0h-1.0zM111.6 581.4h1.0v1.0h-1.0zM113.9 581.6h1.0v1.0h-1.0zM108.1 574.2h1.0v1.0h-1.0zM105.4 585.9h1.0v1.0h-1.0zM114.4 595.0h1.0v1.0h-1.0zM102.2 586.1h1.0v1.0h-1.0zM117.9 599.7h1.0v1.0h-1.0zM110.6 590.6h1.0v1.0h-1.0zM98.6 593.6h1.0v1.0h-1.0zM102.9 588.8h1.0v1.0h-1.0zM101.8 587.6h1.0v1.0h-1.0zM107.2 598.1h1.0v1.0h-1.0zM111.4 594.9h1.0v1.0h-1.0zM102.6 587.3h1.0v1.0h-1.0zM111.5 581.7h1.0v1.0h-1.0zM107.8 573.4h1.0v1.0h-1.0zM99.1 582.3h1.0v1.0h-1.0zM116.5 589.5h1.0v1.0h-1.0zM117.6 575.4h1.0v1.0h-1.0zM101.3 599.5h1.0v1.0h-1.0zM112.4 586.1h1.0v1.0h-1.0zM122.8 597.5h1.0v1.0h-1.0zM113.3 585.8h1.0v1.0h-1.0zM108.8 601.2h1.0v1.0h-1.0zM97.8 586.7h1.0v1.0h-1.0zM119.2 592.1h1.0v1.0h-1.0zM97.3 596.2h1.0v1.0h-1.0zM124.6 594.3h1.0v1.0h-1.0zM99.9 598.6h1.0v1.0h-1.0zM117.2 592.7h1.0v1.0h-1.0zM119.8 588.0h1.0v1.0h-1.0zM115.4 594.7h1.0v1.0h-1.0zM105.6 594.8h1.0v1.0h-1.0zM106.6 586.0h1.0v1.0h-1.0zM116.7 592.6h1.0v1.0h-1.0zM115.4 576.8h1.0v1.0h-1.0zM116.8 595.3h1.0v1.0h-1.0zM118.9 590.9h1.0v1.0h-1.0zM113.7 579.8h1.0v1.0h-1.0zM102.7 591.7h1.0v1.0h-1.0zM118.9 586.4h1.0v1.0h-1.0zM103.7 582.9h1.0v1.0h-1.0zM99.3 595.9h1.0v1.0h-1.0zM115.5 588.6h1.0v1.0h-1.0zM110.5 576.3h1.0v1.0h-1.0zM115.0 579.6h1.0v1.0h-1.0zM124.4 591.4h1.0v1.0h-1.0zM116.6 579.0h1.0v1.0h-1.0zM106.5 592.2h1.0v1.0h-1.0zM123.5 584.3h1.0v1.0h-1.0zM125.4 590.6h1.0v1.0h-1.0zM117.6 597.4h1.0v1.0h-1.0zM105.6 597.3h1.0v1.0h-1.0zM105.7 596.8h1.0v1.0h-1.0zM105.0 588.8h1.0v1.0h-1.0zM114.6 576.3h1.0v1.0h-1.0zM96.9 582.9h1.0v1.0h-1.0zM108.4 591.2h1.0v1.0h-1.0zM98.4 593.2h1.0v1.0h-1.0zM117.5 587.8h1.0v1.0h-1.0zM113.1 590.8h1.0v1.0h-1.0zM97.6 586.5h1.0v1.0h-1.0zM117.5 574.9h1.0v1.0h-1.0zM111.7 577.9h1.0v1.0h-1.0zM108.2 600.8h1.0v1.0h-1.0zM99.0 585.5h1.0v1.0h-1.0zM104.2 583.3h1.0v1.0h-1.0zM101.4 584.2h1.0v1.0h-1.0zM121.5 595.7h1.0v1.0h-1.0zM109.3 592.7h1.0v1.0h-1.0zM95.9 594.6h1.0v1.0h-1.0zM121.1 591.6h1.0v1.0h-1.0zM114.3 594.3h1.0v1.0h-1.0zM96.6 588.2h1.0v1.0h-1.0zM121.0 592.1h1.0v1.0h-1.0zM106.7 596.3h1.0v1.0h-1.0zM124.2 579.4h1.0v1.0h-1.0zM102.4 596.5h1.0v1.0h-1.0zM119.0 585.2h1.0v1.0h-1.0zM113.7 583.8h1.0v1.0h-1.0zM107.1 585.3h1.0v1.0h-1.0zM122.6 594.3h1.0v1.0h-1.0zM106.0 575.9h1.0v1.0h-1.0zM119.2 592.5h1.0v1.0h-1.0zM116.6 580.6h1.0v1.0h-1.0zM104.7 578.1h1.0v1.0h-1.0zM97.8 593.7h1.0v1.0h-1.0zM108.7 581.9h1.0v1.0h-1.0zM119.8 591.2h1.0v1.0h-1.0zM116.3 598.8h1.0v1.0h-1.0zM100.3 585.8h1.0v1.0h-1.0zM96.5 594.0h1.0v1.0h-1.0zM105.4 574.9h1.0v1.0h-1.0zM121.0 590.2h1.0v1.0h-1.0zM102.3 592.9h1.0v1.0h-1.0zM106.9 573.5h1.0v1.0h-1.0zM106.3 580.4h1.0v1.0h-1.0zM117.4 582.3h1.0v1.0h-1.0zM122.0 580.8h1.0v1.0h-1.0zM112.0 573.8h1.0v1.0h-1.0zM120.1 597.5h1.0v1.0h-1.0zM98.6 593.8h1.0v1.0h-1.0zM97.2 582.0h1.0v1.0h-1.0zM103.7 577.3h1.0v1.0h-1.0zM110.7 600.0h1.0v1.0h-1.0zM102.9 576.5h1.0v1.0h-1.0zM103.4 596.4h1.0v1.0h-1.0zM104.9 582.8h1.0v1.0h-1.0zM122.8 590.3h1.0v1.0h-1.0zM107.2 597.9h1.0v1.0h-1.0zM114.5 587.0h1.0v1.0h-1.0zM116.7 596.2h1.0v1.0h-1.0zM116.7 577.8h1.0v1.0h-1.0zM117.9 579.6h1.0v1.0h-1.0zM106.8 587.3h1.0v1.0h-1.0zM98.0 591.1h1.0v1.0h-1.0zM106.7 601.3h1.0v1.0h-1.0zM109.9 596.7h1.0v1.0h-1.0zM120.7 590.2h1.0v1.0h-1.0zM116.0 575.3h1.0v1.0h-1.0zM101.2 581.9h1.0v1.0h-1.0zM99.9 580.2h1.0v1.0h-1.0zM97.4 589.7h1.0v1.0h-1.0zM122.8 582.5h1.0v1.0h-1.0zM121.6 597.8h1.0v1.0h-1.0zM113.0 597.7h1.0v1.0h-1.0zM102.5 590.4h1.0v1.0h-1.0zM111.2 595.6h1.0v1.0h-1.0zM109.9 576.4h1.0v1.0h-1.0zM110.4 582.1h1.0v1.0h-1.0zM99.0 591.5h1.0v1.0h-1.0zM97.0 587.0h1.0v1.0h-1.0zM110.6 600.7h1.0v1.0h-1.0zM97.4 585.7h1.0v1.0h-1.0zM120.5 597.1h1.0v1.0h-1.0zM111.8 589.5h1.0v1.0h-1.0zM112.0 592.2h1.0v1.0h-1.0zM126.3 591.8h1.0v1.0h-1.0zM101.6 579.5h1.0v1.0h-1.0zM110.3 592.0h1.0v1.0h-1.0zM120.2 580.7h1.0v1.0h-1.0zM130.2 619.7h1.0v1.0h-1.0zM134.5 618.3h1.0v1.0h-1.0zM133.3 625.1h1.0v1.0h-1.0zM141.9 623.6h1.0v1.0h-1.0zM143.0 616.1h1.0v1.0h-1.0zM146.3 621.1h1.0v1.0h-1.0zM134.5 625.2h1.0v1.0h-1.0zM142.8 615.0h1.0v1.0h-1.0zM135.6 627.7h1.0v1.0h-1.0zM139.9 621.3h1.0v1.0h-1.0zM134.8 626.7h1.0v1.0h-1.0zM140.3 617.4h1.0v1.0h-1.0zM135.2 617.5h1.0v1.0h-1.0zM135.5 627.2h1.0v1.0h-1.0zM139.7 622.5h1.0v1.0h-1.0zM140.1 624.9h1.0v1.0h-1.0zM138.3 613.3h1.0v1.0h-1.0zM146.4 619.2h1.0v1.0h-1.0zM138.2 617.5h1.0v1.0h-1.0zM142.0 618.5h1.0v1.0h-1.0zM138.0 619.2h1.0v1.0h-1.0zM143.1 621.2h1.0v1.0h-1.0zM136.5 626.2h1.0v1.0h-1.0zM141.7 626.5h1.0v1.0h-1.0zM130.9 618.2h1.0v1.0h-1.0zM142.2 624.0h1.0v1.0h-1.0zM139.3 623.4h1.0v1.0h-1.0zM144.6 621.8h1.0v1.0h-1.0zM136.4 616.1h1.0v1.0h-1.0zM135.6 625.4h1.0v1.0h-1.0zM144.4 618.5h1.0v1.0h-1.0zM130.9 618.9h1.0v1.0h-1.0zM136.8 623.6h1.0v1.0h-1.0zM130.7 623.3h1.0v1.0h-1.0zM137.4 624.6h1.0v1.0h-1.0zM133.2 622.9h1.0v1.0h-1.0zM135.2 614.2h1.0v1.0h-1.0zM143.6 621.7h1.0v1.0h-1.0zM143.9 620.1h1.0v1.0h-1.0zM139.4 613.4h1.0v1.0h-1.0zM145.7 617.8h1.0v1.0h-1.0zM140.8 625.9h1.0v1.0h-1.0zM136.8 618.2h1.0v1.0h-1.0zM142.8 625.2h1.0v1.0h-1.0zM145.3 619.1h1.0v1.0h-1.0z" fill="#bcdb92"/>
<path d="M87.1 577.5h1.2v1.2h-1.2zM90.5 579.3h1.2v1.2h-1.2zM93.7 578.9h1.2v1.2h-1.2zM85.9 580.5h1.2v1.2h-1.2zM93.0 581.2h1.2v1.2h-1.2zM83.8 576.3h1.2v1.2h-1.2zM94.0 576.2h1.2v1.2h-1.2zM92.0 572.1h1.2v1.2h-1.2zM87.2 576.9h1.2v1.2h-1.2zM84.8 576.9h1.2v1.2h-1.2zM92.4 572.6h1.2v1.2h-1.2zM86.9 579.3h1.2v1.2h-1.2zM90.9 578.1h1.2v1.2h-1.2zM86.3 575.8h1.2v1.2h-1.2zM95.1 577.2h1.2v1.2h-1.2zM86.4 577.1h1.2v1.2h-1.2zM84.1 578.2h1.2v1.2h-1.2zM95.2 579.1h1.2v1.2h-1.2zM86.3 577.8h1.2v1.2h-1.2zM88.0 571.9h1.2v1.2h-1.2zM84.1 575.9h1.2v1.2h-1.2zM87.6 572.1h1.2v1.2h-1.2zM95.5 580.4h1.2v1.2h-1.2zM86.3 578.9h1.2v1.2h-1.2zM89.0 580.8h1.2v1.2h-1.2zM92.4 578.8h1.2v1.2h-1.2zM90.1 579.1h1.2v1.2h-1.2zM89.1 574.0h1.2v1.2h-1.2zM87.3 579.9h1.2v1.2h-1.2zM93.1 574.2h1.2v1.2h-1.2zM83.4 576.2h1.2v1.2h-1.2zM95.4 579.9h1.2v1.2h-1.2zM89.5 576.8h1.2v1.2h-1.2zM87.1 572.6h1.2v1.2h-1.2zM88.8 579.6h1.2v1.2h-1.2zM89.8 576.2h1.2v1.2h-1.2zM92.5 574.5h1.2v1.2h-1.2zM92.0 576.5h1.2v1.2h-1.2zM88.5 575.6h1.2v1.2h-1.2zM84.5 573.8h1.2v1.2h-1.2zM83.0 574.3h1.2v1.2h-1.2zM87.7 579.5h1.2v1.2h-1.2zM94.7 579.5h1.2v1.2h-1.2zM94.2 575.0h1.2v1.2h-1.2zM86.3 579.4h1.2v1.2h-1.2zM92.3 577.2h1.2v1.2h-1.2zM92.9 581.2h1.2v1.2h-1.2zM90.5 578.5h1.2v1.2h-1.2zM83.8 578.1h1.2v1.2h-1.2zM86.5 574.4h1.2v1.2h-1.2zM95.1 574.7h1.2v1.2h-1.2zM89.7 581.6h1.2v1.2h-1.2zM88.2 581.7h1.2v1.2h-1.2zM90.7 575.6h1.2v1.2h-1.2zM87.3 573.0h1.2v1.2h-1.2zM90.0 572.6h1.2v1.2h-1.2zM94.7 574.7h1.2v1.2h-1.2zM86.8 576.1h1.2v1.2h-1.2zM88.9 582.2h1.2v1.2h-1.2zM83.6 575.8h1.2v1.2h-1.2zM89.8 577.6h1.2v1.2h-1.2zM94.3 577.9h1.2v1.2h-1.2zM91.5 579.3h1.2v1.2h-1.2zM87.5 576.8h1.2v1.2h-1.2zM85.3 573.1h1.2v1.2h-1.2zM95.5 579.4h1.2v1.2h-1.2zM88.0 576.4h1.2v1.2h-1.2zM93.2 575.1h1.2v1.2h-1.2zM91.7 580.6h1.2v1.2h-1.2zM91.5 573.7h1.2v1.2h-1.2zM90.7 575.9h1.2v1.2h-1.2zM95.2 578.0h1.2v1.2h-1.2zM84.8 574.1h1.2v1.2h-1.2zM88.9 575.4h1.2v1.2h-1.2zM90.4 573.0h1.2v1.2h-1.2zM84.0 575.6h1.2v1.2h-1.2zM93.1 578.3h1.2v1.2h-1.2zM84.7 578.5h1.2v1.2h-1.2zM84.3 579.6h1.2v1.2h-1.2zM86.9 578.9h1.2v1.2h-1.2zM94.8 576.8h1.2v1.2h-1.2zM86.8 572.4h1.2v1.2h-1.2zM91.5 579.3h1.2v1.2h-1.2zM91.7 572.7h1.2v1.2h-1.2zM87.1 574.9h1.2v1.2h-1.2zM94.2 578.6h1.2v1.2h-1.2zM86.8 575.5h1.2v1.2h-1.2zM86.5 572.9h1.2v1.2h-1.2zM86.8 581.4h1.2v1.2h-1.2zM94.1 578.6h1.2v1.2h-1.2zM89.6 576.7h1.2v1.2h-1.2zM87.8 573.0h1.2v1.2h-1.2zM90.4 576.0h1.2v1.2h-1.2zM91.5 577.0h1.2v1.2h-1.2zM86.4 573.0h1.2v1.2h-1.2zM95.3 579.9h1.2v1.2h-1.2zM86.9 574.1h1.2v1.2h-1.2zM92.2 580.2h1.2v1.2h-1.2zM86.5 572.2h1.2v1.2h-1.2zM87.3 577.9h1.2v1.2h-1.2zM126.4 600.2h1.2v1.2h-1.2zM127.8 595.7h1.2v1.2h-1.2zM125.9 595.4h1.2v1.2h-1.2zM128.6 595.9h1.2v1.2h-1.2zM124.9 598.0h1.2v1.2h-1.2zM125.5 599.4h1.2v1.2h-1.2zM128.0 595.8h1.2v1.2h-1.2zM130.3 600.3h1.2v1.2h-1.2zM126.1 595.8h1.2v1.2h-1.2zM126.3 598.1h1.2v1.2h-1.2zM128.7 598.7h1.2v1.2h-1.2zM127.4 596.6h1.2v1.2h-1.2zM125.9 597.8h1.2v1.2h-1.2zM126.7 598.9h1.2v1.2h-1.2zM125.2 597.1h1.2v1.2h-1.2zM130.9 600.1h1.2v1.2h-1.2zM129.5 600.2h1.2v1.2h-1.2zM126.6 600.5h1.2v1.2h-1.2zM131.4 599.1h1.2v1.2h-1.2zM129.5 595.9h1.2v1.2h-1.2zM127.2 599.7h1.2v1.2h-1.2zM128.7 598.4h1.2v1.2h-1.2zM127.8 600.6h1.2v1.2h-1.2zM130.4 598.6h1.2v1.2h-1.2zM124.5 598.9h1.2v1.2h-1.2zM128.6 599.7h1.2v1.2h-1.2zM124.9 596.5h1.2v1.2h-1.2zM129.0 595.7h1.2v1.2h-1.2zM126.8 597.7h1.2v1.2h-1.2zM126.7 599.2h1.2v1.2h-1.2zM128.3 633.3h1.2v1.2h-1.2zM126.6 631.1h1.2v1.2h-1.2zM122.0 631.2h1.2v1.2h-1.2zM126.9 632.9h1.2v1.2h-1.2zM124.6 633.0h1.2v1.2h-1.2zM128.3 632.6h1.2v1.2h-1.2zM122.0 630.3h1.2v1.2h-1.2zM122.0 631.8h1.2v1.2h-1.2zM125.8 632.2h1.2v1.2h-1.2zM117.7 632.2h1.2v1.2h-1.2zM117.3 633.6h1.2v1.2h-1.2zM128.2 634.2h1.2v1.2h-1.2zM128.5 633.5h1.2v1.2h-1.2zM123.7 633.5h1.2v1.2h-1.2zM122.6 633.3h1.2v1.2h-1.2zM127.8 634.4h1.2v1.2h-1.2zM124.3 630.0h1.2v1.2h-1.2zM123.2 631.6h1.2v1.2h-1.2zM121.8 633.8h1.2v1.2h-1.2zM127.1 634.6h1.2v1.2h-1.2zM128.4 633.5h1.2v1.2h-1.2zM118.3 633.6h1.2v1.2h-1.2zM127.5 631.8h1.2v1.2h-1.2zM124.3 631.1h1.2v1.2h-1.2zM124.0 631.2h1.2v1.2h-1.2zM123.4 630.8h1.2v1.2h-1.2zM123.2 630.7h1.2v1.2h-1.2zM123.6 630.9h1.2v1.2h-1.2zM124.7 631.3h1.2v1.2h-1.2zM126.4 634.8h1.2v1.2h-1.2z" fill="#98c75a"/>
</g></g>
<rect x="39.5" y="569.8" width="108" height="101" fill="none" stroke="#4a4a4a" stroke-width="1.1"/>
<rect x="18.80" y="675.80" width="10.00" height="8.20" fill="#df8b26"/>
<text x="32.70" y="683.00" font-size="9" text-anchor="start" textLength="47.7" lengthAdjust="spacingAndGlyphs">KMT2A mut</text>
<rect x="83.80" y="675.80" width="10.00" height="8.20" fill="#8dbb45"/>
<text x="97.30" y="683.00" font-size="9" text-anchor="start" textLength="12.5" lengthAdjust="spacingAndGlyphs">HD</text>
<rect x="113.70" y="675.80" width="9.60" height="8.20" fill="#5ba8e2"/>
<text x="126.70" y="683.00" font-size="9" text-anchor="start" textLength="42.7" lengthAdjust="spacingAndGlyphs">KMT2A wt</text>
<g filter="url(#blob)"><path d="M266.50 589.40 C268.17 589.40 270.33 589.33 272.00 589.80 C273.67 590.27 275.43 591.00 276.50 592.20 C277.57 593.40 278.13 595.37 278.40 597.00 C278.67 598.63 278.45 599.83 278.10 602.00 C277.75 604.17 277.15 607.58 276.30 610.00 C275.45 612.42 274.08 614.33 273.00 616.50 C271.92 618.67 270.87 620.37 269.80 623.00 C268.73 625.63 267.47 629.30 266.60 632.30 C265.73 635.30 265.22 638.10 264.60 641.00 C263.98 643.90 263.93 647.43 262.90 649.70 C261.87 651.97 260.22 654.38 258.40 654.60 C256.58 654.82 253.60 652.60 252.00 651.00 C250.40 649.40 249.43 647.55 248.80 645.00 C248.17 642.45 248.25 639.87 248.20 635.70 C248.15 631.53 248.40 624.63 248.50 620.00 C248.60 615.37 248.52 611.20 248.80 607.90 C249.08 604.60 249.43 602.18 250.20 600.20 C250.97 598.22 252.10 597.47 253.40 596.00 C254.70 594.53 256.57 592.43 258.00 591.40 C259.43 590.37 260.58 590.13 262.00 589.80 C263.42 589.47 264.83 589.40 266.50 589.40Z" fill="#2b55b3"/><path d="M266.40 591.40 C267.90 591.42 270.07 591.37 271.50 591.80 C272.93 592.23 274.18 592.97 275.00 594.00 C275.82 595.03 276.23 596.50 276.40 598.00 C276.57 599.50 276.35 601.00 276.00 603.00 C275.65 605.00 275.10 607.75 274.30 610.00 C273.50 612.25 272.25 614.33 271.20 616.50 C270.15 618.67 269.07 620.42 268.00 623.00 C266.93 625.58 265.67 629.00 264.80 632.00 C263.93 635.00 263.43 638.33 262.80 641.00 C262.17 643.67 261.77 646.25 261.00 648.00 C260.23 649.75 259.45 651.42 258.20 651.50 C256.95 651.58 254.73 649.75 253.50 648.50 C252.27 647.25 251.33 646.13 250.80 644.00 C250.27 641.87 250.33 639.70 250.30 635.70 C250.27 631.70 250.50 624.62 250.60 620.00 C250.70 615.38 250.63 611.17 250.90 608.00 C251.17 604.83 251.52 602.75 252.20 601.00 C252.88 599.25 253.87 598.83 255.00 597.50 C256.13 596.17 257.75 593.97 259.00 593.00 C260.25 592.03 261.27 591.97 262.50 591.70 C263.73 591.43 264.90 591.38 266.40 591.40Z" fill="#3b6fc9"/><path d="M256.50 621.00 C257.38 620.33 258.78 622.33 259.50 624.00 C260.22 625.67 260.72 628.33 260.80 631.00 C260.88 633.67 260.42 637.50 260.00 640.00 C259.58 642.50 258.97 645.17 258.30 646.00 C257.63 646.83 256.67 646.33 256.00 645.00 C255.33 643.67 254.60 640.83 254.30 638.00 C254.00 635.17 253.83 630.83 254.20 628.00 C254.57 625.17 255.62 621.67 256.50 621.00Z" fill="#5190db"/><path d="M266.00 593.10 C267.67 593.07 269.25 593.35 270.50 594.00 C271.75 594.65 272.88 595.83 273.50 597.00 C274.12 598.17 274.25 599.33 274.20 601.00 C274.15 602.67 273.73 605.00 273.20 607.00 C272.67 609.00 271.78 611.08 271.00 613.00 C270.22 614.92 269.50 616.92 268.50 618.50 C267.50 620.08 266.42 621.25 265.00 622.50 C263.58 623.75 261.47 625.33 260.00 626.00 C258.53 626.67 257.07 627.17 256.20 626.50 C255.33 625.83 255.12 624.42 254.80 622.00 C254.48 619.58 254.35 615.00 254.30 612.00 C254.25 609.00 254.13 606.33 254.50 604.00 C254.87 601.67 255.50 599.63 256.50 598.00 C257.50 596.37 258.92 595.02 260.50 594.20 C262.08 593.38 264.33 593.13 266.00 593.10Z" fill="#5cc0ec"/><path d="M265.50 596.60 C266.75 596.65 268.35 596.85 269.50 597.50 C270.65 598.15 271.82 599.33 272.40 600.50 C272.98 601.67 273.03 603.00 273.00 604.50 C272.97 606.00 272.67 607.83 272.20 609.50 C271.73 611.17 270.98 613.00 270.20 614.50 C269.42 616.00 268.70 617.62 267.50 618.50 C266.30 619.38 264.42 619.72 263.00 619.80 C261.58 619.88 260.08 619.72 259.00 619.00 C257.92 618.28 257.03 617.00 256.50 615.50 C255.97 614.00 255.82 611.92 255.80 610.00 C255.78 608.08 255.93 605.75 256.40 604.00 C256.87 602.25 257.67 600.63 258.60 599.50 C259.53 598.37 260.85 597.68 262.00 597.20 C263.15 596.72 264.25 596.55 265.50 596.60Z" fill="#8ec648"/><ellipse cx="264.4" cy="607.4" rx="5.4" ry="6.6" fill="#f2e23a"/><path d="M264.8 602.4 C267 603 268.3 605 268.2 607.2 C268 609.8 266.5 611.8 264.6 612 C262.6 611.8 261 609.8 261 607.2 C261 604.8 262.6 602.6 264.8 602.4 Z" fill="#e0302a"/></g>
<rect x="217.5" y="570" width="103.4" height="103.1" fill="none" stroke="#231f20" stroke-width="1.3"/>
<line x1="254.00" y1="570.00" x2="254.00" y2="673.10" stroke="#444" stroke-width="1.3"/>
<line x1="217.50" y1="628.00" x2="320.90" y2="628.00" stroke="#444" stroke-width="1.3"/>
<text x="220.90" y="581.00" font-size="9.2" text-anchor="start" textLength="11.4" lengthAdjust="spacingAndGlyphs">3%</text>
<text x="294.30" y="581.00" font-size="9.2" text-anchor="start" textLength="16.5" lengthAdjust="spacingAndGlyphs">89%</text>
<text x="220.90" y="665.60" font-size="9.2" text-anchor="start" textLength="11.4" lengthAdjust="spacingAndGlyphs">2%</text>
<text x="294.30" y="664.10" font-size="9.2" text-anchor="start" textLength="11.7" lengthAdjust="spacingAndGlyphs">6%</text>
<line x1="210.20" y1="665.40" x2="210.20" y2="583.00" stroke="#231f20" stroke-width="1.1"/>
<path d="M207.6 584.5 L210.2 578.8 L212.8 584.5 Z" fill="#231f20"/>
<line x1="226.20" y1="679.80" x2="313.00" y2="679.80" stroke="#231f20" stroke-width="1.1"/>
<path d="M312 677.2 L317.8 679.8 L312 682.4 Z" fill="#231f20"/>
<text x="205.00" y="622.10" font-size="11.1" text-anchor="middle" textLength="20.4" lengthAdjust="spacingAndGlyphs" transform="rotate(-90 205.00 622.10)">CD33</text>
<text x="272.10" y="692.30" font-size="11.1" text-anchor="middle" textLength="15.8" lengthAdjust="spacingAndGlyphs">FLT3</text>
<path d="M408.5 597.6 L408.50 569.40 A28.2 28.2 0 1 1 380.38 595.49 Z" fill="#edd2cd"/>
<path d="M408.5 597.6 L380.38 595.49 A28.2 28.2 0 0 1 382.25 587.30 Z" fill="#dda398"/>
<path d="M408.5 597.6 L382.25 587.30 A28.2 28.2 0 0 1 386.45 580.02 Z" fill="#cf7a70"/>
<path d="M408.5 597.6 L386.45 580.02 A28.2 28.2 0 0 1 408.50 569.40 Z" fill="#a8002a"/>
<circle cx="408.5" cy="597.6" r="28.2" fill="none" stroke="#231f20" stroke-width="1.2"/>
<path d="M408.5 682.8 L408.50 654.60 A28.2 28.2 0 1 1 402.64 710.38 Z" fill="#edd2cd"/>
<path d="M408.5 682.8 L402.64 710.38 A28.2 28.2 0 0 1 381.68 674.09 Z" fill="#dda398"/>
<path d="M408.5 682.8 L381.68 674.09 A28.2 28.2 0 0 1 387.54 663.93 Z" fill="#cf7a70"/>
<path d="M408.5 682.8 L387.54 663.93 A28.2 28.2 0 0 1 397.03 657.04 Z" fill="#b84448"/>
<path d="M408.5 682.8 L397.03 657.04 A28.2 28.2 0 0 1 408.50 654.60 Z" fill="#a8002a"/>
<circle cx="408.5" cy="682.8" r="28.2" fill="none" stroke="#231f20" stroke-width="1.2"/>
<text x="356.50" y="598.30" font-size="9.4" text-anchor="middle" textLength="29.7" lengthAdjust="spacingAndGlyphs">primary</text>
<text x="357.50" y="608.90" font-size="9.4" text-anchor="middle" textLength="31.8" lengthAdjust="spacingAndGlyphs">samples</text>
<text x="408.40" y="636.90" font-size="9.9" text-anchor="middle" textLength="21.2" lengthAdjust="spacingAndGlyphs">N=21</text>
<text x="356.00" y="681.90" font-size="9.4" text-anchor="middle" textLength="28.6" lengthAdjust="spacingAndGlyphs">relapse</text>
<text x="357.50" y="692.50" font-size="9.4" text-anchor="middle" textLength="31.8" lengthAdjust="spacingAndGlyphs">samples</text>
<text x="408.90" y="722.20" font-size="9.9" text-anchor="middle" textLength="22.3" lengthAdjust="spacingAndGlyphs">N=15</text>
<rect x="443.50" y="572.50" width="5.60" height="3.60" fill="#edd2cd"/>
<text x="452.20" y="577.60" font-size="10.0" text-anchor="start" textLength="59.7" lengthAdjust="spacingAndGlyphs">CD33/CLEC12A</text>
<rect x="443.50" y="584.75" width="5.60" height="3.60" fill="#dda398"/>
<text x="452.20" y="589.85" font-size="10.0" text-anchor="start" textLength="45.3" lengthAdjust="spacingAndGlyphs">CD33/FLT3</text>
<rect x="443.50" y="597.00" width="5.60" height="3.60" fill="#cf7a70"/>
<text x="452.20" y="602.10" font-size="10.0" text-anchor="start" textLength="57.5" lengthAdjust="spacingAndGlyphs">CLEC12A/FLT3</text>
<rect x="443.50" y="609.25" width="5.60" height="3.60" fill="#a8002a"/>
<text x="452.20" y="614.35" font-size="10.0" text-anchor="start" textLength="46.6" lengthAdjust="spacingAndGlyphs">not covered</text>
<rect x="443.50" y="658.10" width="5.60" height="3.60" fill="#edd2cd"/>
<text x="452.20" y="662.80" font-size="10.0" text-anchor="start" textLength="59.7" lengthAdjust="spacingAndGlyphs">CD33/CLEC12A</text>
<rect x="443.50" y="670.38" width="5.60" height="3.60" fill="#dda398"/>
<text x="452.20" y="675.08" font-size="10.0" text-anchor="start" textLength="56" lengthAdjust="spacingAndGlyphs">CD33/HAVCR2</text>
<rect x="443.50" y="682.66" width="5.60" height="3.60" fill="#cf7a70"/>
<text x="452.20" y="687.36" font-size="10.0" text-anchor="start" textLength="45.3" lengthAdjust="spacingAndGlyphs">CD33/FLT3</text>
<rect x="443.50" y="694.94" width="5.60" height="3.60" fill="#b84448"/>
<text x="452.20" y="699.64" font-size="10.0" text-anchor="start" textLength="46.5" lengthAdjust="spacingAndGlyphs">CD33/EMR2</text>
<rect x="443.50" y="707.22" width="5.60" height="3.60" fill="#a8002a"/>
<text x="452.20" y="711.92" font-size="10.0" text-anchor="start" textLength="46.6" lengthAdjust="spacingAndGlyphs">not covered</text>
<rect x="0.5" y="0.5" width="519" height="731" fill="none" stroke="#000" stroke-width="1.2"/>
<rect x="0" y="730.2" width="520" height="1.8" fill="#000"/>
</svg></body></html>
